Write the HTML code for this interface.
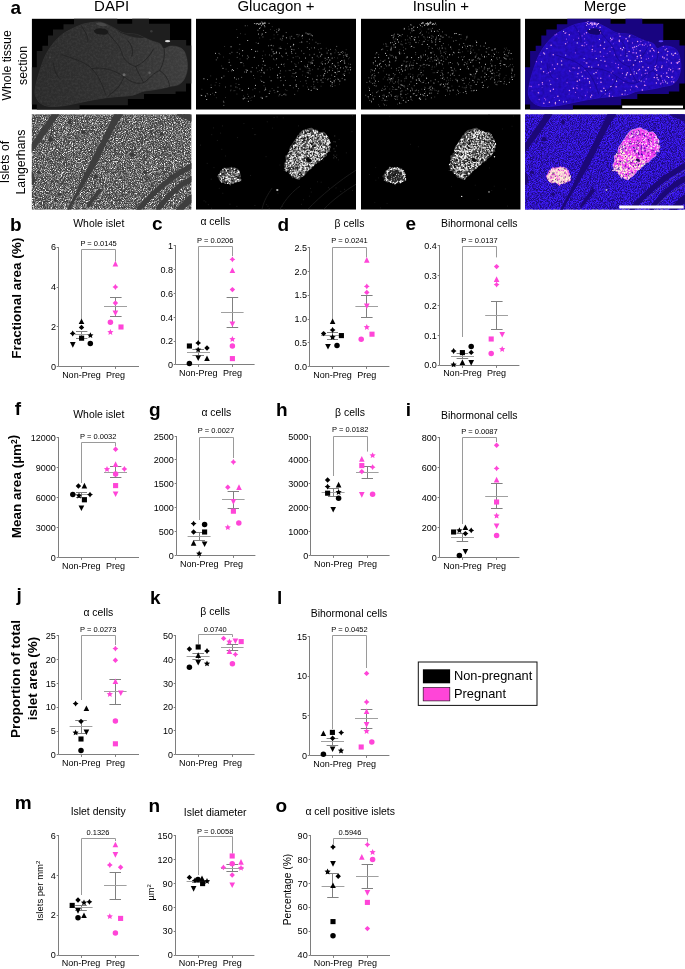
<!DOCTYPE html>
<html lang="en"><head><meta charset="utf-8"><title>Figure</title>
<style>
html,body{margin:0;padding:0;background:#fff}
body{width:685px;height:969px;overflow:hidden}
svg{display:block}
text{font-family:"Liberation Sans",Arial,Helvetica,sans-serif;fill:#000}
.tk{font-size:9.05px}
.xl{font-size:9px}
.tt{font-size:10.45px}
.pv{font-size:7.5px}
.pl{font-size:19px;font-weight:bold;fill:#000}
.hd{font-size:15px}
.rl{font-size:12.3px}
.yb{font-size:13.55px;font-weight:bold;fill:#000}
.yr{font-size:9.2px}
.lg{font-size:12.8px}
</style></head><body>
<svg width="685" height="969" viewBox="0 0 685 969">
<rect width="685" height="969" fill="#fff"/>
<text x="111.6" y="10.6" text-anchor="middle" class="hd">DAPI</text>
<text x="276" y="10.6" text-anchor="middle" class="hd">Glucagon +</text>
<text x="440.8" y="10.6" text-anchor="middle" class="hd">Insulin +</text>
<text x="605" y="10.6" text-anchor="middle" class="hd">Merge</text>
<text transform="translate(11.3 65.4) rotate(-90)" text-anchor="middle" class="rl">Whole tissue</text>
<text transform="translate(27 65.4) rotate(-90)" text-anchor="middle" class="rl">section</text>
<text transform="translate(9.2 162) rotate(-90)" text-anchor="middle" class="rl">Islets of</text>
<text transform="translate(25 162) rotate(-90)" text-anchor="middle" class="rl">Langerhans</text>
<defs>
<filter id="spk" x="0" y="0" width="100%" height="100%" color-interpolation-filters="sRGB">
<feTurbulence type="fractalNoise" baseFrequency="1.1" numOctaves="2" seed="3"/>
<feColorMatrix type="matrix" values="0 1.5 0 0 0  0 1.5 0 0 0  0 1.5 0 0 0  3.2 0 0 0 -1.27"/>
<feGaussianBlur stdDeviation="0.35"/>
</filter>
<filter id="spk2" x="0" y="0" width="100%" height="100%" color-interpolation-filters="sRGB">
<feTurbulence type="fractalNoise" baseFrequency="1.1" numOctaves="2" seed="3"/>
<feColorMatrix type="matrix" values="0 0 0 0 0.25  0 0 0 0 0.11  0 0 0 0 1  3.2 0 0 0 -1.1"/>
<feGaussianBlur stdDeviation="0.55"/>
</filter>
<filter id="tex" x="0" y="0" width="100%" height="100%" color-interpolation-filters="sRGB">
<feTurbulence type="fractalNoise" baseFrequency="0.45" numOctaves="2" seed="5" result="n"/>
<feColorMatrix in="n" type="matrix" values="0 0 0 0 1  0 0 0 0 1  0 0 0 0 1  1.2 0 0 0 -0.42" result="a"/>
<feComposite in="a" in2="SourceGraphic" operator="in"/>
</filter>
<filter id="tex2" x="0" y="0" width="100%" height="100%" color-interpolation-filters="sRGB">
<feTurbulence type="fractalNoise" baseFrequency="0.3" numOctaves="2" seed="8" result="n"/>
<feColorMatrix in="n" type="matrix" values="0 0 0 0 0.09  0 0 0 0 0.02  0 0 0 0 0.5  1.6 0 0 0 -0.5" result="a"/>
<feComposite in="a" in2="SourceGraphic" operator="in"/>
</filter>
<linearGradient id="tg" x1="0" x2="1" y1="0" y2="0"><stop offset="0" stop-color="#2b2b2b"/><stop offset="0.5" stop-color="#313131"/><stop offset="1" stop-color="#3e3e3e"/></linearGradient>
<clipPath id="tis"><path d="M3.3 72.8C3.45 69.63 4.67 64.53 5.7 60.4C6.73 56.27 8.05 52.13 9.5 48C10.95 43.87 12.33 39.53 14.4 35.6C16.47 31.67 19.2 27.7 21.9 24.4C24.6 21.1 27.5 18.17 30.6 15.8C33.7 13.43 37.2 11.87 40.5 10.2C43.8 8.53 47.1 6.83 50.4 5.8C53.7 4.77 57.4 4.4 60.3 4C63.2 3.6 65.3 3.1 67.8 3.4C70.3 3.7 72.65 4.67 75.3 5.8C77.95 6.93 80.85 8.75 83.7 10.2C86.55 11.65 88.88 13.57 92.4 14.5C95.92 15.43 101.28 14.97 104.8 15.8C108.32 16.63 110.8 18.37 113.5 19.5C116.2 20.63 118.52 21.67 121 22.6C123.48 23.53 126.55 23.87 128.4 25.1C130.25 26.33 130.45 29.58 132.1 30C133.75 30.42 136.02 27.9 138.3 27.6C140.58 27.3 143.52 27.48 145.8 28.2C148.08 28.92 150.45 29.83 152 31.9C153.55 33.97 154.48 37.5 155.1 40.6C155.72 43.7 156.12 47.2 155.7 50.5C155.28 53.8 154.05 57.82 152.6 60.4C151.15 62.98 149.38 64.75 147 66C144.62 67.25 140.98 67.28 138.3 67.9C135.62 68.52 134 69.08 130.9 69.7C127.8 70.32 123.02 71.08 119.7 71.6C116.38 72.12 114.1 71.97 111 72.8C107.9 73.63 104.82 75.77 101.1 76.6C97.38 77.43 92.83 77.42 88.7 77.8C84.57 78.18 80.53 78.38 76.3 78.9C72.07 79.42 67.97 80.07 63.3 80.9C58.63 81.73 53.3 82.9 48.3 83.9C43.3 84.9 38.3 86.23 33.3 86.9C28.3 87.57 22.3 88.23 18.3 87.9C14.3 87.57 11.55 86.32 9.3 84.9C7.05 83.48 5.8 81.42 4.8 79.4C3.8 77.38 3.15 75.97 3.3 72.8Z"/></clipPath>
</defs>
<svg x="31.7" y="18.6" width="159.8" height="91.1" viewBox="0 0 159.8 91.1" overflow="hidden"><rect width="159.8" height="91.1" fill="#000"/><polygon points="0,48.6 5.1,48.6 5.1,32.5 10.7,32.5 10.7,27.2 16.3,27.2 16.3,17 21.3,17 21.3,10.8 31.8,10.8 31.8,5.6 42.3,5.6 42.3,0 85.6,0 85.6,5.2 100.5,5.2 100.5,0 117.3,0 117.3,5.2 138.3,5.2 138.3,21.4 154.5,21.4 154.5,26.9 159.8,26.9 159.8,64.8 154.3,64.8 154.3,72.8 143.9,72.8 143.9,75.4 112.3,75.4 112.3,80.3 96.2,80.3 96.2,86.7 47.9,86.7 47.9,91.1 5.1,91.1 5.1,85.9 0,85.9" fill="#1e1e1e"/><path d="M3.3 72.8C3.45 69.63 4.67 64.53 5.7 60.4C6.73 56.27 8.05 52.13 9.5 48C10.95 43.87 12.33 39.53 14.4 35.6C16.47 31.67 19.2 27.7 21.9 24.4C24.6 21.1 27.5 18.17 30.6 15.8C33.7 13.43 37.2 11.87 40.5 10.2C43.8 8.53 47.1 6.83 50.4 5.8C53.7 4.77 57.4 4.4 60.3 4C63.2 3.6 65.3 3.1 67.8 3.4C70.3 3.7 72.65 4.67 75.3 5.8C77.95 6.93 80.85 8.75 83.7 10.2C86.55 11.65 88.88 13.57 92.4 14.5C95.92 15.43 101.28 14.97 104.8 15.8C108.32 16.63 110.8 18.37 113.5 19.5C116.2 20.63 118.52 21.67 121 22.6C123.48 23.53 126.55 23.87 128.4 25.1C130.25 26.33 130.45 29.58 132.1 30C133.75 30.42 136.02 27.9 138.3 27.6C140.58 27.3 143.52 27.48 145.8 28.2C148.08 28.92 150.45 29.83 152 31.9C153.55 33.97 154.48 37.5 155.1 40.6C155.72 43.7 156.12 47.2 155.7 50.5C155.28 53.8 154.05 57.82 152.6 60.4C151.15 62.98 149.38 64.75 147 66C144.62 67.25 140.98 67.28 138.3 67.9C135.62 68.52 134 69.08 130.9 69.7C127.8 70.32 123.02 71.08 119.7 71.6C116.38 72.12 114.1 71.97 111 72.8C107.9 73.63 104.82 75.77 101.1 76.6C97.38 77.43 92.83 77.42 88.7 77.8C84.57 78.18 80.53 78.38 76.3 78.9C72.07 79.42 67.97 80.07 63.3 80.9C58.63 81.73 53.3 82.9 48.3 83.9C43.3 84.9 38.3 86.23 33.3 86.9C28.3 87.57 22.3 88.23 18.3 87.9C14.3 87.57 11.55 86.32 9.3 84.9C7.05 83.48 5.8 81.42 4.8 79.4C3.8 77.38 3.15 75.97 3.3 72.8Z" fill="#2d2d2d" stroke="#363636" stroke-width="0.8"/><g clip-path="url(#tis)"><rect x="0" y="0" width="160" height="91" fill="url(#tg)"/><rect width="160" height="91" fill="#fff" filter="url(#tex)" opacity="0.1"/><path d="M49 6C52 12 57 16 56 24M30 36C40 40 52 42 60 50C66 56 70 64 74 76M60 50C72 48 84 52 92 58C100 64 106 66 112 64M92 58C90 66 84 72 78 76C74 80 72 84 70 88M112 64C118 60 122 54 128 52M76 14C82 22 88 26 90 34C92 42 98 46 104 48M104 48C112 44 118 38 122 30M128 52C132 44 134 36 132 28M22 44C22 50 24 56 28 60M104 48C106 54 110 60 112 64M128 52C134 56 138 62 138 70M96 22C100 26 102 32 100 38" stroke="#1f1f1f" stroke-width="0.7" fill="none"/><path d="M62 12C66 9 72 9 76 12C78 15 74 17 70 16C66 16 63 15 62 12Z" fill="#1a1a1a"/><path d="M64 5C68 3 73 4 76 7C72 8 67 8 64 5Z" fill="#484848"/><path d="M84 10C92 8 100 10 108 14C112 16 116 18 120 18C114 20 104 20 96 17C90 15 86 13 84 10Z" fill="#232323"/></g><ellipse cx="135.9" cy="22.6" rx="2.6" ry="1.1" fill="#d8d8d8"/><circle cx="92.4" cy="56.1" r="1.5" fill="#6a6a6a"/><circle cx="117.9" cy="54.2" r="1.3" fill="#606060"/><circle cx="119.7" cy="12.7" r="1.2" fill="#3a3a3a"/><circle cx="18.3" cy="38.9" r="1" fill="#444"/></svg>
<svg x="196" y="18.6" width="160" height="91.1" viewBox="0 0 160 91.1" overflow="hidden"><rect width="160" height="91.1" fill="#000"/><path d="M85.37 45.74h0M125.79 35.59h0M47.21 80.26h0M105.26 42.93h0M78.09 34.87h0M51.15 51.79h0M66.24 79.99h0M116.25 39.09h0M99.98 47.59h0M111.41 47.71h0M148.91 61.11h0M50.37 53.47h0M132.6 43.31h0M116.36 44.45h0M55.65 30.81h0M121.39 70.7h0M9.5 77.39h0M25.73 59.06h0M67.35 42.54h0M38.42 59.1h0M37.45 51.98h0M87.08 17.32h0M46.21 71.67h0M109.48 39.49h0M7.94 60.23h0M58.28 38.73h0M82.7 48.61h0M19.59 34.62h0M143.9 35.72h0M94.07 66.94h0M111.82 58.87h0M68.01 53.56h0M100.3 67.71h0M127.79 56.6h0M129.38 52.47h0M81.52 56.54h0M132.37 39h0M139.57 53.95h0M58.39 77.47h0M138.78 57.82h0M150.89 37.65h0M48.72 79.41h0M149.82 48.2h0M145.18 33.67h0M83.11 11.22h0M80.77 13.42h0M128.74 54.89h0M136.18 64.04h0M33.14 43.68h0M139.39 47.7h0M106.03 17.4h0M148.5 44.49h0M26.99 49.56h0M19.79 73.78h0M126.41 45.41h0M115.17 71.67h0M75.19 26.71h0M100.45 57.85h0M67.89 63.59h0M144.61 49.2h0M77.13 33.12h0M10.72 80.8h0M95.52 33.2h0M36.33 51.01h0M62.21 24.66h0M83.5 34.44h0M80.15 34.4h0M63.54 9.67h0M125.03 61.39h0M90.17 34.54h0M81.85 72.75h0M5.72 76.82h0M143.05 52.78h0M134.93 35.15h0M95.83 30.69h0M144.5 42.9h0M59.45 66.77h0M134.78 62.76h0M15.23 68.82h0M69.81 13.87h0M68.99 46.68h0M35.06 28.08h0M133.86 41.42h0M69.67 70.38h0M80.51 33.42h0M120.99 61.15h0M148.39 56.79h0M106.39 16.55h0M66.27 15.44h0M97.67 25.79h0M154.54 51.22h0M65.78 51.83h0M138.21 62.29h0M90.4 19.22h0M118.6 29.22h0M143.86 62.49h0M46.68 32.02h0M62.43 15.46h0M154.13 48.71h0M52.37 82.59h0M84.45 59.01h0M52.44 69.76h0M112.67 70.65h0M136.37 44.94h0M51.72 21.93h0M75.11 62.21h0M80.63 40.14h0M100.28 66.16h0M133.24 51.67h0M65.81 62.56h0M145.81 41.89h0M59.67 32.6h0M73.23 74.82h0M105.79 23.45h0M136.14 39.31h0M94.67 28.22h0M129.27 45.19h0M84.92 29.86h0M87.65 66.42h0M44.97 44.01h0" stroke="#f4f4f4" stroke-width="1.05" stroke-linecap="round" fill="none" opacity="0.9"/><path d="M85.96 21.44h0M98.76 75.82h0M77.99 71.79h0M148.27 42.67h0M121.95 25.07h0M42.64 60.23h0M124.49 37.95h0M75.81 37.34h0M39.86 68.43h0M84.29 20.4h0M81.35 59.21h0M66.27 79.01h0M107.87 34.97h0M113.36 20.64h0M115.93 44.93h0M122.06 50.39h0M97.26 27.05h0M11.61 60.94h0M138.36 53.82h0M46.58 37.17h0M43.82 70.23h0M138.31 46.72h0M134.46 30.83h0M94.09 51.97h0M29.52 68.44h0M86.54 19.73h0M99.73 34.74h0M34.95 67.36h0M104.05 50.54h0M136.47 51.88h0M147.63 49.5h0M41.37 18.85h0M23.03 34.78h0M121.17 37.44h0M102.57 70h0M111.98 53.83h0M128.16 50.75h0M41.16 38.84h0M118.84 68.31h0M141.28 50.08h0M66.28 39.89h0M66.93 18.37h0M68.68 71.64h0M34.79 46.81h0M131.52 53.58h0M43.84 25.81h0M140.75 27.82h0M109.92 62.21h0M124.94 30.16h0M134.62 67.28h0M87.75 75.85h0M82.55 11.97h0M70.86 77.84h0M95.95 34.93h0M99.83 53.99h0M83.7 76.11h0M11.16 74.91h0M112.26 54.49h0M42.96 65.91h0M27.94 57.48h0M85.94 76.94h0M113.53 30.84h0M89.35 61.87h0M131.72 61.13h0M83.94 54.77h0M27.89 83.67h0M111.07 23.06h0M85.64 37.23h0M142.25 33.85h0M129.48 39.64h0M82.97 10.13h0M133.69 48.28h0M70.07 78.16h0M126.11 63.59h0M94.11 19.5h0M97.02 54.82h0M131.06 40.71h0M14.5 75.94h0M127.09 59.8h0M45.69 58.8h0M57.46 56.9h0M121.31 57.35h0M98.04 19.91h0M65.47 51.06h0M62.1 11.55h0M20.36 60.5h0M95.67 43.16h0M35.91 33.72h0M97.14 39.09h0M86.73 38.15h0M90.2 13.95h0M100.92 16h0M146.15 59.83h0M120.15 70.29h0M132.64 31.69h0M111.48 46.46h0M88.79 75.43h0M65.1 78.74h0M142.09 60.85h0M147.28 55.63h0M72.44 27.24h0M152.06 51.21h0M132.26 60.33h0M136.62 67.87h0M43.53 35.23h0M54.98 52.76h0M68.2 54.84h0M118.39 46.95h0M113.76 50.21h0M27.85 86.79h0M148.23 41.59h0M52.36 77.81h0M60.51 49.34h0M48.65 53.42h0M75.9 30.7h0M120.32 60.9h0M111.28 28.98h0M66.21 49.39h0M117.84 63.28h0M149.58 36.41h0M105.41 32.33h0M67.41 11.86h0M20.26 41.29h0M51.21 40.17h0M146.75 32.87h0M118.05 69.92h0M139.23 48.41h0M40.33 60.62h0M61.68 32.65h0M142.7 61.02h0M123.76 33.69h0M80.48 46.28h0M114.94 44.05h0M131.11 34.66h0M109.11 48.01h0M97.22 50.93h0M150.59 49.22h0M147.77 37.01h0M124.9 36.94h0M45.88 43.97h0M117.11 41.7h0M142.14 44.16h0M87.78 46h0M56.23 48.92h0M52.5 38.59h0M83.25 29.55h0M125.26 44.49h0M97.99 31.18h0M5.06 76.63h0M41.15 33.81h0M89.96 76.37h0M62.63 47.07h0M150.93 36.05h0M149.04 52.78h0M27.35 82.66h0M116.64 60.4h0M69.39 71.16h0M73.46 36.39h0M95.74 17.74h0M154.3 45.74h0M49.23 7.17h0M77.62 40.43h0M50.08 51.06h0M115.84 43.47h0M135.71 56.52h0M64.35 9.17h0M73.97 72.61h0M84.47 52.26h0M21.67 39.21h0M51.67 37.23h0M55.1 53.44h0M81.98 68.73h0M35.75 52.24h0M118.18 35.67h0M113.77 36.34h0M98.96 54.88h0M77.25 27.24h0M150.79 36.74h0M113.97 52.16h0M99.54 61.54h0" stroke="#9a9a9a" stroke-width="0.95" stroke-linecap="round" fill="none" opacity="0.85"/><path d="M56.85 71.17h0M88.17 58.11h0M112.76 43.49h0M55.03 81.87h0M127.52 57.86h0M23.76 64.87h0M30.04 50.53h0M43.22 30.61h0M20.08 63.95h0M73.94 49.13h0M128.05 51.04h0M68.04 67.06h0M61.81 53.02h0M74.35 10.86h0M23.99 35.98h0M74.44 51.16h0M90.91 71.85h0M59.5 70.03h0M151.53 35.74h0M119.93 23.54h0M38.92 72h0M18.32 76.31h0M106.89 52.72h0M136.25 65.75h0M80.57 10.82h0M147.48 38.72h0M123.52 47.84h0M116.44 51.03h0M99.96 38.12h0M51.56 7.1h0M74.18 21.05h0M114.65 45.28h0M130.26 29.68h0M116.64 21.26h0M117.76 68.48h0M91.44 24.99h0M44.63 15.02h0M88.27 47.64h0M110.47 64.76h0M102.43 16.34h0M20.32 79.09h0M65.66 15.6h0M44.01 40.34h0M78.87 41.22h0M40.92 75.46h0M61.59 11.81h0M103.56 16.37h0M128.55 39.68h0M76.13 69.9h0M111.82 46.14h0M40.02 65.1h0M139.61 60.8h0M135.02 36.21h0M94.64 20.52h0M72.69 26.86h0M65.47 16.88h0M25.72 47.37h0M66.48 37.05h0M153.63 39.09h0M127.51 63.82h0M118.33 28.84h0M47.9 47.25h0M102.11 18.12h0M98.83 45.18h0M15.2 69.1h0M125.36 29.83h0M78.04 19.6h0M138.91 34.24h0M111.04 54.03h0M63.75 73.26h0M129.41 52.46h0M126.19 42.89h0M141.86 59.72h0M97.32 69.18h0M78.62 11.93h0M117.86 62.84h0M121.78 63.67h0M78.06 16.24h0M56.01 78.55h0M128.86 49.39h0M136.81 50.13h0M88.2 45.12h0M69.34 69.03h0M149.28 51.57h0M89.07 76.22h0M47.5 77.34h0M28.67 27.88h0M84.48 62.09h0M129.35 41.92h0M149.19 44.56h0M102.61 44.29h0M104.35 62.85h0M75.85 31.38h0M82.85 77.31h0M135.91 46.22h0M15.07 66.45h0M142.04 46.68h0M100.09 54.24h0M99.63 67.11h0M109.48 57.7h0M139.82 54.59h0M33.48 34.87h0M41.3 49.87h0M129.35 59.94h0M122.82 38.67h0M109.85 48.38h0M67.27 32.54h0M29.42 78.85h0M51.73 75.7h0M122.53 31.05h0M124.77 57.05h0M114.15 55.17h0M64.42 61.56h0M140.77 55.75h0M152.43 45.32h0M140.04 32.25h0M150.17 31.11h0M85.23 61.92h0M11.8 76.1h0M99.88 46.15h0M73.76 58.42h0M35 71.44h0M98.14 58.6h0M63.69 19.36h0M102.55 29.83h0M153.22 54.34h0M107.15 67.3h0M16.76 74.69h0M33.16 41.27h0M148.59 55.13h0M138.56 38.99h0M151.66 48.5h0M77.8 35.73h0M111.62 68.39h0M5.95 70.72h0M131.09 33.54h0M135.85 67.52h0M89.74 30.64h0M27.63 38.45h0M96.01 57.49h0M60.16 24.07h0M34.49 72.19h0M84.68 28.54h0M23.28 67.12h0M51.13 79.94h0M76.73 50.06h0M41.16 69.11h0M127.97 56.01h0M112.15 52.14h0M127 51.04h0M89.46 71.11h0M91.67 36.73h0M135.99 66.02h0M106.36 56.53h0M152.65 40.18h0M134.31 60.01h0M89.79 52.29h0M139.01 67.03h0M32.32 52.87h0M81.84 16.05h0M82.14 59.22h0M141.68 53.61h0M78.86 74.03h0M101.94 37.73h0M138.37 64.22h0M142.82 46.94h0M84.82 58.26h0M142.7 36.16h0M116.14 41.61h0M40.74 10.88h0M125.07 67.61h0M115.21 67.86h0M76.25 8.02h0M135.11 48.56h0M141.67 39.44h0M94.05 18.12h0M106.53 19.67h0M93.08 51.79h0M103.43 39.7h0M63.37 51.9h0M37.93 72.12h0M34.41 35.14h0M147.55 33.81h0M103.36 39.01h0M54.07 79.66h0M108.38 47.24h0M139.48 30.85h0M49.16 15.65h0M115.37 29.3h0M58.42 59.85h0M101.45 16.01h0M81.19 73.29h0M65.18 57.77h0M84.01 75.46h0M103.98 23.9h0M19.11 66.6h0M91.79 40.94h0M117.39 65.79h0M128.52 49.93h0M141.57 52.6h0M124.1 24.89h0M66.74 46.11h0M120.04 23.9h0M14.74 57.29h0M114.13 43.66h0M143.34 65.59h0M146.52 34.9h0M118.17 35.82h0M69.25 36.33h0M101.76 72.32h0M149.28 34.3h0M47.36 45.16h0M64.92 53.89h0M113.37 24.78h0M71.18 51.26h0M112.46 49.58h0M131.55 44.69h0M58.45 69.81h0M141.77 44.19h0M111.03 49.31h0" stroke="#555" stroke-width="0.9" stroke-linecap="round" fill="none" opacity="0.8"/><path d="M66.77 4.31h0M60.19 5.04h0M64.78 5.38h0M63.25 5.6h0M66.84 5.15h0M67.14 4.86h0M60.29 5.43h0M68.87 8.14h0M58.35 4.93h0M62.72 5.71h0M62.72 5.57h0M69.25 4.69h0M65.54 7.06h0M68.9 3.82h0M73.06 4.76h0M66.87 5.03h0M64.22 4.75h0M67.99 4.67h0M61.41 4.88h0M65.82 3.44h0M68.6 4.73h0M68.36 6.83h0M66.93 5.99h0M64.26 4.78h0" stroke="#bbb" stroke-width="1" stroke-linecap="round" fill="none" opacity="1"/><path d="M110 14.42h0M111.3 15.28h0M112.6 15.52h0M113.9 15.33h0M115.2 16.47h0M116.5 17.19h0" stroke="#aaa" stroke-width="1" stroke-linecap="round" fill="none" opacity="1"/></svg>
<svg x="361" y="18.6" width="159.7" height="91.1" viewBox="0 0 159.7 91.1" overflow="hidden"><rect width="159.7" height="91.1" fill="#000"/><path d="M130.97 54.78h0M25.68 36.83h0M106.58 27.72h0M13.38 52.24h0M20.88 71.65h0M60.54 4.62h0M115.47 53.04h0M38.3 33.44h0M90.08 48.98h0M34.27 28.53h0M77.59 16.87h0M40.05 66.2h0M38.56 34.56h0M101.98 61.83h0M55.71 64.83h0M89.05 72.27h0M43.59 10.27h0M66.38 25.83h0M27.7 39.5h0M49.87 6.11h0M130.86 47.32h0M29.98 31.29h0M82.48 65.64h0M28.31 46.4h0M139.9 62.85h0M71.44 5.54h0M92.1 71.33h0M34.63 24.87h0M139.1 44.79h0M114.7 55.24h0M58.3 79.7h0M40.56 46.69h0M67.42 64.11h0M111.1 41.53h0M53.66 21.02h0M150.9 58.54h0M49.67 78.26h0M123.83 58.27h0M74.75 26.17h0M48.68 47.17h0M80.21 41.64h0M124.54 24.48h0M50.81 17.81h0M58.77 79.53h0M24.5 34.76h0M41.19 66.69h0M40.34 50.69h0M46.39 38.33h0M29.58 24.17h0M134.09 30.13h0M12.29 44.05h0M55.16 76.89h0M7.17 78.05h0M46.36 70.17h0M129.32 52.68h0M133.59 61.17h0M151.13 52.2h0M109.63 43.58h0M115.68 23.88h0M105.9 18.3h0M55.48 61.43h0M65.61 59.54h0M109.03 26.95h0M68.03 46.77h0M61.13 25.7h0M28.03 56.36h0M101.47 28.62h0M57.93 60.1h0M74 41.38h0M49.54 72.11h0M49.59 58.19h0M12.36 80.33h0M70.55 12.5h0M66.37 76.76h0M93.77 15.02h0M151.05 50.5h0M25.52 78.03h0M62.97 45.62h0M131.36 51.37h0M29.76 60.4h0M97.38 33.63h0M51.02 10.17h0M13.92 57.06h0M124.48 45.84h0M108.27 41.21h0M115.11 65.95h0M104.73 72.75h0M114.29 38.33h0M17.61 38.62h0M113.06 71.59h0M107.55 50.22h0M28.77 43.49h0M15.76 34.1h0M121.92 68.9h0M36.52 20.8h0M34.89 39.11h0M14.49 50.21h0M32.9 26.14h0M60.1 53.81h0M143.97 39.75h0M50.67 27.79h0M57.67 38.92h0M63.7 74.94h0M54.97 23.66h0M98.81 15.92h0M54.02 18.68h0M16.3 46.69h0M14.5 42.35h0M76.18 53.83h0M30.46 59.83h0M68.51 18.59h0M32.22 19.24h0M143.62 35.58h0M91.04 51.69h0M118.38 44.12h0M62.13 63.7h0M52.84 11.7h0M72.92 64.47h0M127.83 35.58h0M30.9 16.87h0M75.48 41.65h0M44.23 51.35h0M62.82 76.67h0M148.34 63.68h0M70 34.33h0M151.35 60.85h0M79.87 17.37h0M63.63 70.77h0M55.92 44.71h0M38.85 16.78h0M38.62 84.33h0M68.77 74.73h0M44.93 47.46h0M47.28 81.89h0M81.21 29.42h0M115.66 23.33h0M42.32 81.64h0M18.49 77.74h0M69.11 68.49h0M56.48 8.63h0M22.11 42.76h0M50.64 39.01h0M111.94 61.79h0M122.36 66.63h0M83.78 67.35h0M71.44 69.32h0M73.43 12.77h0M86.18 65.35h0M99.34 50.79h0M79.68 66.19h0M8.48 71.66h0M101.63 41.14h0M60.15 39.14h0M88.71 36.03h0M71 23.3h0M130.57 41.04h0M78.97 20.39h0M126.91 50.22h0M133.49 35.64h0M52.31 75.19h0M41.49 52.32h0M18.37 46.01h0M131.05 31.52h0M81.39 59.7h0M59.27 80.8h0M109.32 56h0M39.91 75.54h0M37.75 68.46h0M44.91 83.48h0M92.66 33.74h0M91.35 55.26h0M75.56 45.4h0M123.47 37.7h0M74.78 21.05h0M14.53 62.3h0M63.05 22.77h0M95.22 14.86h0M34.11 77.59h0M52.05 46.63h0M143.83 46.03h0M10.56 83.13h0M78.92 22.94h0M9.5 75.86h0M103.25 46.11h0M78.23 44.15h0M37.62 23.35h0M64.47 36.06h0M109.62 34.68h0M89.2 43.87h0M59.62 75.62h0M121.18 63.73h0M59.91 37.5h0M58.25 61.54h0M115.51 71.73h0M89.68 28.51h0M125.39 55.98h0M150.1 34.91h0M28.22 74.2h0M96.11 61.75h0M87.77 69.25h0" stroke="#f4f4f4" stroke-width="1.05" stroke-linecap="round" fill="none" opacity="0.9"/><path d="M49.97 63.15h0M123.02 27.68h0M41.42 46.76h0M150.42 54.64h0M5.93 63.82h0M30.96 36.8h0M86.96 65.31h0M53.51 21.75h0M67.68 39.55h0M69.98 34.11h0M138.04 62.63h0M138.54 39.16h0M33.96 55.88h0M125.43 60.95h0M66.41 40.44h0M74.52 61.14h0M98.93 34.01h0M121.73 52.39h0M32.03 59.5h0M139.9 42.38h0M51.74 59h0M70.3 79.33h0M36.1 78.36h0M117.1 60.6h0M95.01 21.86h0M134.17 47.04h0M72.06 18.28h0M19.62 44.77h0M69.53 70.82h0M89.44 56.72h0M112.25 72.21h0M11.44 51.64h0M120.54 48.17h0M86.27 59.21h0M51.04 70.11h0M78.46 29.47h0M123.23 50.38h0M81.53 54.71h0M102.1 60.25h0M138.83 55.44h0M116.47 51.17h0M64.52 41.97h0M137.88 51.81h0M57.5 72.11h0M34.75 70.78h0M39.45 69.7h0M111.74 27.58h0M54.7 34.04h0M86.54 38.59h0M62.89 18.22h0M105.4 45.3h0M139.72 47h0M148.96 40.6h0M81.87 18.81h0M30.6 30.03h0M131.19 55.04h0M50.12 80.71h0M40.2 62.32h0M135.94 66.11h0M12.99 59.35h0M142.86 38.8h0M91.59 36.16h0M58.94 14.87h0M120.25 58.52h0M50.56 46.61h0M59.64 13.99h0M37.46 51.73h0M61.2 8.09h0M79.65 56.83h0M83.18 60.69h0M36.14 80.67h0M72.33 5.09h0M83.12 33.74h0M125.13 33.35h0M10.43 59.55h0M81.6 13.21h0M21.73 30.51h0M77.25 63.15h0M110.47 56.15h0M134.94 65.63h0M129.58 60.4h0M10.87 57.08h0M24.84 25.16h0M128.32 49.71h0M49.13 19.56h0M76.19 12.36h0M61.81 75.86h0M59.82 47.09h0M147.91 34.04h0M45.69 38.58h0M69.9 62.25h0M45.81 46.67h0M98.17 67.75h0M52.62 8.33h0M24.33 70.28h0M32.36 38.38h0M78.75 44.64h0M115.01 50.43h0M70.67 74.52h0M84.36 65.41h0M115.37 26.55h0M57.37 50.74h0M125.42 29.95h0M45.09 59.8h0M142.44 45.91h0M25.7 55.77h0M24.48 81.68h0M145.08 36.31h0M28.67 60.61h0M81.45 56.38h0M70.54 22.03h0M76.81 39.57h0M97.68 45.56h0M143.01 65.14h0M120.39 36.29h0M116.24 52.74h0M48.56 65.72h0M33.14 16.16h0M14.58 38.94h0M98.21 56.8h0M20.4 48.14h0M31.21 23.9h0M41.12 26.2h0M26.83 61.26h0M13.31 66.92h0M106.51 48.17h0M23.1 71.05h0M80.99 52.03h0M128.02 28.92h0M50.89 12.08h0M54.19 72.15h0M98.43 25.75h0M45.12 58.39h0M132.38 37.97h0M137.86 56.7h0M48.05 10.55h0M65.28 46.37h0M80.8 27.1h0M40.93 72.22h0M19.99 48.12h0M88.1 18.4h0M85.55 16.57h0M92.14 54.46h0M24.51 46.01h0M39.85 73.12h0M61.99 56.28h0M118.96 40.37h0M145.54 48.05h0M44.9 75.93h0M42.62 67.43h0M104.1 43.85h0M148.22 32.15h0M109.73 33.06h0M44.3 21.27h0M30.27 28.65h0M70.69 19.77h0M67.94 6h0M44.93 24.75h0M78.33 10.86h0M135.83 39.35h0M51.41 71.47h0M86.5 72.28h0M103.21 37.89h0M35.46 50.09h0M57.64 18.38h0M116.59 63.49h0M29.8 62.28h0M108.5 60.32h0M71.29 29.89h0M20.58 31.06h0M102.29 73.93h0M25.69 47.35h0M27.18 77.28h0M15.55 73.99h0M69.93 33.92h0M39.97 25.5h0M70.54 38.78h0M50.71 10.11h0M53.25 67.1h0M30.32 49.62h0M105.17 68.73h0M28.49 42.76h0M23.65 86.31h0M153.7 56.26h0M126.71 51.55h0M82.7 42.83h0M67.22 10.51h0M64.81 80.56h0M80.19 65.22h0M35.84 70.86h0M36.56 15.68h0M115.22 51.6h0M28.1 46.35h0M38.84 35.56h0M61.62 16.13h0M105.36 74.95h0M23.82 67.67h0M112.18 47.43h0M109.81 27.49h0M146.84 37.39h0M11.69 65.02h0M8.76 81.76h0M92.53 22.53h0M103.13 64.81h0M45.55 47.83h0M126.59 68.97h0M59.37 62.77h0M43.08 42.49h0M32.78 17.43h0M118.76 40.44h0M41.24 15.88h0M55.54 71.54h0M97.46 72.63h0M8.73 63.05h0M33.8 23.13h0M15.33 67.31h0M10.16 51.13h0M31.33 68.1h0M52.66 8.97h0M66.73 18.61h0M34.81 41.87h0M93.18 34.43h0M43.22 9.73h0M115.02 37.4h0M45.24 43.26h0M27.86 59.13h0M96.58 71.57h0M123.42 38.82h0M77.1 52.26h0M97.49 74.96h0M32.32 54.94h0M110.21 33.82h0M22.37 79.78h0M11.29 56.05h0M93.21 56.84h0M37.03 63.35h0M124.62 45.48h0M70.07 38.96h0M119.67 27.43h0M143.45 63.05h0M81.64 46.05h0M124.01 54.54h0M116.97 40.08h0M145.51 65.77h0M25.25 27.67h0M29.88 30.42h0M97.6 38.73h0M8.55 69.97h0M131.01 58.71h0M38.38 54.05h0M16.49 47.52h0M71.33 9.77h0M23.06 76.98h0M13.19 64.4h0M130.87 46.65h0M87.2 53.94h0M113.24 63.52h0M104.72 59.43h0M40.96 79.18h0M98.06 31.15h0M32.96 64.79h0M34.59 80.69h0M112.54 41.15h0M96.35 44.3h0M13.61 39.08h0M97.31 46.21h0M147.66 34.74h0M84.48 35.09h0M75.49 19.32h0M70.94 71.44h0M59.73 80.69h0M84.56 76.96h0M18.9 44.95h0M82.3 24.99h0M110.09 67.17h0M29.98 75.85h0M73.35 36.13h0M145.03 40.7h0M35.22 40.03h0M77.71 72.45h0M34.88 20.28h0M51.89 49.43h0M37.24 15.79h0M53.1 41.97h0M117.51 39.22h0M17.58 62.84h0M43.31 34.82h0M17.33 54.05h0M133.72 30.7h0M110.27 72.16h0M68.1 27.8h0M23.37 81.72h0M51.83 60.05h0M76.8 74.74h0M53.3 74.87h0M53 28.85h0M68.46 69.64h0M102.54 24.86h0M74.38 23.49h0M80.77 36.93h0M133.62 64.16h0M123.72 48.51h0M82.15 58.67h0M34.54 38.35h0M49.78 50.47h0M94.95 60.71h0M4.79 76.64h0M44.74 30.27h0M37.68 61.35h0M30.58 77.07h0M86.83 68.61h0M96.35 63.12h0M42.4 31.84h0M79.35 32.45h0M77 41.13h0M75.55 37.63h0M34.45 63.31h0M37.51 18.02h0M38.09 48.89h0M7.86 59.17h0" stroke="#9a9a9a" stroke-width="0.95" stroke-linecap="round" fill="none" opacity="0.85"/><path d="M49.67 28.31h0M103.97 69.14h0M23.78 58.42h0M35.42 38.38h0M70.82 29.21h0M39.9 34.55h0M90.74 19.06h0M45.22 39.51h0M70.91 50.84h0M23.21 49.8h0M70.53 78.92h0M113.84 34.16h0M17.77 36.05h0M118.17 49.38h0M86.6 70.51h0M127.29 68.12h0M115.87 35.56h0M48.68 47.25h0M30.89 60.47h0M143.81 59.08h0M57 56.59h0M76.6 29.73h0M106.51 43.27h0M105.29 74.92h0M52.22 44.3h0M67.03 21.92h0M9.65 53.26h0M148.83 47.16h0M46.57 17.31h0M16.11 73.03h0M110.08 29.58h0M84.93 33.06h0M58.55 49.33h0M126.9 30.2h0M21.57 79.35h0M49.88 21.36h0M131.57 42.26h0M28.5 64.25h0M62.54 37.03h0M59.02 46.79h0M64.64 20.78h0M143.61 33.2h0M78.12 20.93h0M87.6 26.26h0M65.58 13.41h0M11.41 77.14h0M102.74 38.85h0M106.77 45.22h0M49.6 14.26h0M64.52 69.32h0M133.31 55.14h0M26.87 27.8h0M135.48 33.44h0M130.01 53.26h0M22.4 25.55h0M63.91 19.31h0M58.96 10.5h0M49.27 24.28h0M134.06 30.99h0M25.16 26.15h0M113.24 59.53h0M32.22 16.42h0M69.48 39.24h0M129.41 42.36h0M91.54 61.78h0M74.77 23.14h0M75.71 17.78h0M93.53 50.65h0M148.81 60.5h0M67.42 30.02h0M100.3 61.07h0M70.44 67.61h0M17.34 72.31h0M91.35 44.95h0M121.31 37.84h0M54.74 36.08h0M30.63 72.74h0M135.82 56.91h0M48.85 45.38h0M145.26 29.46h0M132.64 34.74h0M125.44 38.12h0M68.92 42.76h0M87.55 43.94h0M42.83 10.58h0M12.72 58.52h0M89.77 55.74h0M145.1 56.82h0M33.28 57.3h0M50.76 69.12h0M113.9 57.44h0M25.41 86.74h0M31.4 70.73h0M32.98 17.94h0M26 81.93h0M28.87 70.48h0M14.58 46.89h0M90.65 30.45h0M49.44 72.57h0M11.43 77h0M105.29 30.01h0M78.01 31.07h0M37.16 58.93h0M64.91 64.95h0M68.94 74.15h0M82.44 56.1h0M11.92 79.76h0M109.86 69.92h0M13.96 64.89h0M133.89 57.37h0M145.11 37.38h0M77.35 12.95h0M72.02 33.39h0M34.22 42.68h0M107.08 26.73h0M127.78 57.92h0M103.01 69.22h0M58.06 55.82h0M136.29 40.91h0M137.67 34.01h0M24.09 41.51h0M64.43 73.21h0M40.15 48.43h0M82.1 37.85h0M71.09 49.11h0M7.38 79.43h0M18.58 45.24h0M108.41 63.91h0M59.73 47.5h0M78.72 66.17h0M105.96 49.77h0M76.9 72.74h0M104.82 70.43h0M66.59 37.59h0M8.79 61.99h0M123.89 49.35h0M112.24 31.45h0M112.23 47.4h0M9.96 63.81h0M87.37 45.17h0M51.12 81.83h0M46.87 48.48h0M35.57 77.28h0M45.63 79.26h0M77.89 44.72h0M37.96 33.95h0M43.72 62.41h0M82.22 68.44h0M22.29 52.32h0M136.42 63.48h0M145.47 40.11h0M67.87 14.4h0M36.98 77.37h0M101.23 68.57h0M32.84 28.55h0M12.63 45.47h0M28.98 35.83h0M138.23 57.76h0M7.78 68.59h0M79.89 34.36h0M142.55 33.59h0M62.52 52.24h0M109.35 31.3h0M60.98 64.1h0M107.5 65.55h0M61.92 23.47h0M89.26 61.63h0M47.03 70.77h0M58.31 21.86h0M94.87 52.15h0M69.01 10.37h0M84.41 40.42h0M103.91 26.78h0M56.41 58.11h0M114.91 22.1h0M63.75 68.64h0M97.37 16.07h0M54.97 61.31h0M10.14 82.05h0M117.96 31.26h0M16.48 73.39h0M17.72 54.09h0M151.41 45.98h0M95.33 76.12h0M13.94 77.87h0M42.01 45.49h0M139.42 49.89h0M30.81 37.32h0M56.14 76.28h0M58.93 5.75h0M21.55 76.79h0M106.99 32.5h0M101.44 33.19h0M57.57 24.1h0M133.49 30.92h0M13.43 60.72h0M104.35 28.19h0M152.4 48.13h0M88.48 75.58h0M98.25 26.22h0M78 42.67h0M13.14 54.93h0M142.9 60.37h0M18.58 44.85h0M49.48 43.43h0M103.17 24.98h0M11.61 74.25h0M46.81 42.95h0M22.19 60.37h0M67.71 28.2h0M59.46 55.46h0M48.99 55.38h0M82.48 18.53h0M60.39 12.57h0M84.18 16.06h0M47.34 55.51h0M63.01 48.64h0M43.65 60.09h0M48.95 25.84h0M50.49 78.38h0M52.16 57.9h0M30.29 77.66h0M150.68 57.43h0M39.4 77.53h0M14.68 35.38h0M109.29 68.68h0M60.8 70.64h0M96.86 44.76h0M51.87 56.2h0M36.4 85.54h0M33.54 15.27h0M48.52 18.79h0M42.42 31.79h0M26.29 31.97h0M123.86 62.27h0M75.62 47.22h0M73.73 39.01h0M134.45 63.5h0M75.63 6.2h0M73.75 48.38h0M87.08 54.67h0M151.33 40.26h0M133.83 63.52h0M105.67 19.71h0M51.18 12.67h0M46.81 75.05h0M27.97 47.38h0M72.14 54.13h0M57.76 73.97h0M115.08 41.92h0M143.27 38.92h0M18.42 49.9h0M111.02 43.43h0M46.8 50.41h0M85.42 62.32h0M109.09 55.02h0M105.34 67.17h0M130 52.37h0M79.84 34.62h0M85.17 70.72h0M73.8 71.51h0M143.33 29.69h0M31.53 63.27h0M64.53 77.63h0M66.8 45.94h0M48.62 45.53h0M17.45 86.14h0M43.74 68.29h0M53.69 8.21h0M80.98 18.32h0M71.06 17.08h0M113.92 58.47h0M72.92 70.14h0M106.13 17.56h0M63.1 62.18h0M75.13 71.89h0M79.9 38.2h0M89.33 59.76h0M153.14 57.79h0M98.97 73.94h0M71.77 42.6h0M60.8 16.57h0M40 84.83h0M47.93 23.76h0M112.95 55.59h0M64.49 32.41h0M81.19 44.9h0M84.09 29.49h0M99.91 20.01h0M23.25 77.72h0M26.25 68.01h0M61.82 46.39h0M80.15 53.94h0M85.28 40.77h0M38.84 31.05h0M129.56 44.77h0M74.06 60.96h0M40.14 17.48h0M50.71 6.79h0M59.93 51.65h0M67.24 69.95h0M32.9 21.14h0M36.59 21.76h0M52.4 20.38h0M40.62 22.78h0M101.57 28.1h0M22.1 80.29h0M104.86 21.13h0M22.94 75.75h0M47.66 8.18h0M14.68 67.41h0M46.89 67.42h0M144.47 31.1h0M111.83 57.53h0M62.03 77.24h0M68.56 75.02h0M42.35 28.74h0M37.73 65.21h0M82.47 39.45h0M138.33 59.76h0M22.68 85.31h0M105.22 73.22h0M59.49 41.53h0M84.79 30.35h0M29.26 37.11h0M100.22 16.16h0M92.69 52.39h0M146.56 31.51h0M133.08 59.42h0M100.67 38.21h0M19.76 41.77h0M73.76 54.08h0M12.57 44.47h0M71.26 47.7h0M40.72 50.45h0M90.31 50.11h0M43.76 68.34h0M93.49 49.79h0M21.52 69.76h0M60.6 57.47h0M69.18 4.62h0M134.49 49.41h0M23.64 41.83h0M33.56 79.82h0M75.04 19.84h0M130.42 59.47h0M40.29 55.7h0M32.53 68.91h0M68.99 71.87h0M73.75 78.41h0M18.67 87.75h0M82.62 49.69h0M78.55 15.4h0M109.12 67.13h0M62.3 35.85h0M44.82 71.73h0M21.04 81.84h0M147.69 47.97h0M70.11 40.45h0M32.97 70.93h0M130.54 37.58h0M67.02 4.65h0M44.38 49.12h0M87.42 63.9h0M125.76 33.77h0M46.8 21.12h0M70.26 17.37h0M57.24 40.54h0M35.68 51.82h0M31.83 61.28h0M132.75 54.32h0M118.6 61.13h0M58.45 5.95h0M87.24 61.56h0M135.95 53.79h0M70.1 11.23h0M90.94 67.5h0M43.47 67.13h0M149.5 45.96h0M79.92 59.76h0" stroke="#555" stroke-width="0.9" stroke-linecap="round" fill="none" opacity="0.8"/><path d="M63.74 6.71h0M71.21 5.69h0M69.39 3.47h0M67.68 5.33h0M73.73 5.74h0M72.46 5.33h0M65.09 4.98h0M61.96 4.95h0M69.9 3.99h0M66.38 6.63h0M66.95 6.04h0M67.26 6.04h0M59.4 7.01h0M67.32 4.97h0M65.04 5.38h0M68.45 4.35h0M61.71 4.22h0M69.22 4.62h0M66.53 4.39h0M65.87 5.04h0M63.55 6.65h0M66.46 4.58h0M74.45 4.6h0M62.04 3.86h0" stroke="#ccc" stroke-width="1" stroke-linecap="round" fill="none" opacity="1"/></svg>
<svg x="525" y="18.6" width="160" height="91.1" viewBox="0 0 160 91.1" overflow="hidden"><rect width="160" height="91.1" fill="#000"/><polygon points="0,48.6 5.1,48.6 5.1,32.5 10.7,32.5 10.7,27.2 16.3,27.2 16.3,17 21.3,17 21.3,10.8 31.8,10.8 31.8,5.6 42.3,5.6 42.3,0 85.6,0 85.6,5.2 100.5,5.2 100.5,0 117.3,0 117.3,5.2 138.3,5.2 138.3,21.4 154.5,21.4 154.5,26.9 159.8,26.9 159.8,64.8 154.3,64.8 154.3,72.8 143.9,72.8 143.9,75.4 112.3,75.4 112.3,80.3 96.2,80.3 96.2,86.7 47.9,86.7 47.9,91.1 5.1,91.1 5.1,85.9 0,85.9" fill="#180480"/><path d="M3.3 72.8C3.45 69.63 4.67 64.53 5.7 60.4C6.73 56.27 8.05 52.13 9.5 48C10.95 43.87 12.33 39.53 14.4 35.6C16.47 31.67 19.2 27.7 21.9 24.4C24.6 21.1 27.5 18.17 30.6 15.8C33.7 13.43 37.2 11.87 40.5 10.2C43.8 8.53 47.1 6.83 50.4 5.8C53.7 4.77 57.4 4.4 60.3 4C63.2 3.6 65.3 3.1 67.8 3.4C70.3 3.7 72.65 4.67 75.3 5.8C77.95 6.93 80.85 8.75 83.7 10.2C86.55 11.65 88.88 13.57 92.4 14.5C95.92 15.43 101.28 14.97 104.8 15.8C108.32 16.63 110.8 18.37 113.5 19.5C116.2 20.63 118.52 21.67 121 22.6C123.48 23.53 126.55 23.87 128.4 25.1C130.25 26.33 130.45 29.58 132.1 30C133.75 30.42 136.02 27.9 138.3 27.6C140.58 27.3 143.52 27.48 145.8 28.2C148.08 28.92 150.45 29.83 152 31.9C153.55 33.97 154.48 37.5 155.1 40.6C155.72 43.7 156.12 47.2 155.7 50.5C155.28 53.8 154.05 57.82 152.6 60.4C151.15 62.98 149.38 64.75 147 66C144.62 67.25 140.98 67.28 138.3 67.9C135.62 68.52 134 69.08 130.9 69.7C127.8 70.32 123.02 71.08 119.7 71.6C116.38 72.12 114.1 71.97 111 72.8C107.9 73.63 104.82 75.77 101.1 76.6C97.38 77.43 92.83 77.42 88.7 77.8C84.57 78.18 80.53 78.38 76.3 78.9C72.07 79.42 67.97 80.07 63.3 80.9C58.63 81.73 53.3 82.9 48.3 83.9C43.3 84.9 38.3 86.23 33.3 86.9C28.3 87.57 22.3 88.23 18.3 87.9C14.3 87.57 11.55 86.32 9.3 84.9C7.05 83.48 5.8 81.42 4.8 79.4C3.8 77.38 3.15 75.97 3.3 72.8Z" fill="#280cca" stroke="#2e12d0" stroke-width="0.8"/><g clip-path="url(#tis)"><rect width="160" height="91" fill="#000" filter="url(#tex2)" opacity="0.55"/><path d="M49 6C52 12 57 16 56 24M30 36C40 40 52 42 60 50C66 56 70 64 74 76M60 50C72 48 84 52 92 58C100 64 106 66 112 64M92 58C90 66 84 72 78 76C74 80 72 84 70 88M112 64C118 60 122 54 128 52M76 14C82 22 88 26 90 34C92 42 98 46 104 48M104 48C112 44 118 38 122 30M128 52C132 44 134 36 132 28M22 44C22 50 24 56 28 60M104 48C106 54 110 60 112 64M128 52C134 56 138 62 138 70M96 22C100 26 102 32 100 38" stroke="#1a0690" stroke-width="0.8" fill="none"/><path d="M62 12C66 9 72 9 76 12C78 15 74 17 70 16C66 16 63 15 62 12Z" fill="#14056e"/><path d="M84 10C92 8 100 10 108 14C112 16 116 18 120 18C114 20 104 20 96 17C90 15 86 13 84 10Z" fill="#200aa8"/></g><path d="M93.27 49.03h0M123.24 48.8h0M139.19 39.28h0M149.98 34.93h0M102.66 22.45h0M145.53 51.27h0M79.16 29.95h0M79.92 42.61h0M136.64 49.02h0M136.26 57.45h0M137.07 47.48h0M125.4 26.3h0M97.33 31.12h0M44.31 16.26h0M57.13 26.87h0M29.59 50.09h0M112.57 22.78h0M73.34 46.36h0M54.57 61.44h0M142.12 36.5h0M30.44 85.08h0M127.11 29.78h0M94.26 21.76h0M62.8 59.91h0M116.21 39.42h0M61.78 44.32h0M18.58 53.03h0M114.44 51.02h0M104.77 17.17h0M64.58 64.43h0M142.07 57.88h0M67.3 31h0M133.5 33.7h0M107.88 29.18h0M65.71 78.29h0M63.87 48.2h0M146.38 44.34h0M101.07 20.05h0M152.33 44.71h0M148.74 63.28h0M125.13 32.49h0M48.45 69.6h0M40.18 14.6h0M94.36 22.98h0M95 17.59h0M84.3 77.46h0M154.51 50.12h0M132.08 59.03h0M115.46 36.8h0M26.13 26.77h0M148.18 36.59h0M65.89 4.56h0M141.74 54.29h0M17.38 64.24h0M24.37 83.73h0M129.29 58.78h0M75.07 8.56h0M117.9 48.3h0M114.71 43.27h0M86.88 20.81h0M131.37 64.46h0M40.53 25.13h0M120.75 51.59h0M75.47 26.62h0M28.37 70.62h0M128.62 31.76h0M111.36 34.4h0M18.69 34.46h0M102.41 54.08h0M78.87 69.57h0M119.52 66.53h0M75.77 59.63h0M105.58 56h0M115.1 32.03h0M75.24 33.39h0M32.85 77.6h0M154.14 42.98h0M13.36 74.25h0M36.54 42.43h0M108.47 46.5h0M70.01 4.72h0M25.32 72.28h0M95.62 29.93h0M52.9 55.21h0M18.84 84.66h0M53.82 49.3h0M152.89 43.96h0M137.6 38.29h0M91.14 68.11h0M146.95 58.6h0M71.08 53.78h0M76 63.68h0M103.45 41.41h0M142.75 32.79h0M112.28 37.78h0M28.21 36.08h0M109.64 28.51h0M111.16 67.71h0M104.13 32.82h0M32.5 45.47h0M131.58 51.54h0M61.5 14.27h0M97.12 75.72h0M52.25 62.62h0M44.45 72.02h0M117.32 71.43h0M117.45 26.22h0M66.65 76.72h0M131.9 56.29h0M130.3 47.95h0" stroke="#f49cf0" stroke-width="1.5" stroke-linecap="round" fill="none" opacity="0.95"/><path d="M25.35 53h0M86.77 28.85h0M23.52 54.06h0M116.6 56.4h0M120.75 25.51h0M87.88 19.47h0M78.72 37.78h0M95.85 36.56h0M141.62 30.15h0M143.47 51.59h0M50.51 73.84h0M89.45 36.3h0M123.55 39.68h0M84.57 75.16h0M72.76 59.5h0M144.05 49.87h0M147.05 58.04h0M59.9 51.75h0M96.55 49.79h0M137.45 62.17h0M56.87 70.51h0M138.24 27.68h0M119.24 26.75h0M151.35 44.02h0M136.11 64.48h0M27.41 46.2h0M146.47 63.12h0M51.8 68.96h0M114.97 25.77h0M100.1 58.94h0M52.12 69.9h0M80.21 75.31h0M59.84 24.12h0M105.46 71.27h0M61.18 3.97h0M13.88 66.13h0M108.03 62.25h0M40.87 14.04h0M153.24 50.37h0M98.76 63.95h0M42.1 64.05h0M68.38 8.86h0M99.98 75.45h0M141.65 43.46h0M114.46 61.56h0M44.5 52.14h0M84.99 32.9h0M121.27 60.29h0M75.52 14.36h0M90.65 44.73h0M106.41 68.11h0M4.96 67.6h0M75.49 72.36h0M81.18 47.4h0M93.52 46.12h0M130.47 50.4h0M121.3 40.48h0M131.32 46.77h0M129.52 32.43h0M74.55 11.82h0M94.03 15.21h0M87.9 52.56h0M59.81 59.88h0M113.36 51.9h0M124.97 26.46h0M120.63 66.86h0M127.48 37.65h0M56.34 53.58h0M24.73 62.27h0M86.23 54.2h0M65.34 68.91h0M84.33 57.34h0M119.23 63.08h0M50.41 34.25h0M105.16 41.87h0M147.64 53.24h0M87.65 61.11h0M70.03 32.51h0M59.18 27.25h0M120.19 54.81h0M19.77 79.73h0M31.6 15.54h0M113.4 26.76h0M86.08 67.77h0M112.33 68.64h0M135.46 65.32h0M67.15 32.6h0M59.56 20.21h0M60.47 76.88h0M112.09 39.47h0M67.73 27.48h0M41.46 20.51h0M108.62 31.24h0M154.39 40.76h0M6.31 67.89h0M115.85 22.9h0M85.85 22.2h0M122.23 54.55h0M57.13 17.19h0M148.13 52.33h0M108.86 34.1h0M53.58 19.61h0M107.83 34.13h0M107.5 24.42h0M138.02 63.74h0M59.34 15.32h0M14.16 80.92h0M20.58 81.24h0M87.62 77.8h0M49.71 49.5h0M30.11 16.31h0M32.25 59.96h0M139.7 61.58h0M109.13 55.34h0M97.46 54.8h0M17.6 65.77h0M61.64 26h0M11.48 43.05h0M45 52.87h0M48.06 49.16h0" stroke="#b45cf4" stroke-width="1.3" stroke-linecap="round" fill="none" opacity="0.9"/><path d="M140.16 31.21h0M68.95 55.07h0M101.26 56.48h0M64.62 10.81h0M74.46 20.73h0M116.15 62.45h0M146.71 35.36h0M140.62 63.2h0M57.23 57.59h0M142.08 40.52h0M66.8 48.45h0M79.66 23.52h0M21.95 30h0M30.46 83.75h0M100.21 72.06h0M111.63 54.55h0M109.26 53.13h0M59.16 39.91h0M75.98 41.63h0M38.45 83.25h0M150.65 34.61h0M80.52 71.76h0M129.98 50.24h0M111.66 27.74h0M101.93 37.28h0M85.56 19.57h0M19.63 35.32h0M38.59 12.77h0M116.65 42.83h0M36.82 46.22h0M41.36 83.17h0M142.24 64.47h0M85.86 67.96h0M98.27 42.15h0M143.66 58.79h0M110.14 41.72h0M16.46 43.18h0M101.48 55.39h0M98.52 29.08h0M71.25 39.8h0M34.33 81.69h0M64.46 62.96h0M15.99 50.21h0M133.11 60.98h0M52.21 24.34h0M40.73 36.46h0M76.74 72.56h0M91.58 62.57h0M104.15 18.25h0M25.76 65.64h0" stroke="#ffe0f4" stroke-width="1.2" stroke-linecap="round" fill="none" opacity="0.95"/><path d="M123.71 23.54h0M29.34 78.97h0M143.8 42.15h0M44.09 75.42h0M62.28 73.38h0M66.14 8.31h0M122.34 27.48h0M53.53 79.06h0M133.21 48.54h0M86.95 43.68h0M117.77 26.57h0M147.85 49.68h0M138.5 54.83h0M116.48 56.68h0M14.9 36.6h0M48.48 21.1h0M88.44 25.16h0M102.07 34.78h0M108.45 50.33h0M118.1 21.69h0M21.95 54.89h0M66.04 6.69h0M75.81 37.54h0M52.07 66.71h0M99.89 29.65h0M67.51 5.78h0M149.12 59.42h0M136.88 59.08h0M147.73 62.71h0M72.42 64.88h0M111.24 30.51h0M42.25 23.55h0M133.65 61.8h0M72.5 52.17h0M62.93 60.33h0M53.36 12.57h0M13.98 74.41h0M29.63 84.44h0M102.69 75.89h0M40.07 14.48h0M59.08 42.95h0M122.51 34.34h0M82.29 34.82h0M17.09 68.7h0M38.67 82.51h0M7.11 72.16h0M152.27 35.74h0M147.9 60.71h0M52.1 58.12h0M60.46 44.16h0" stroke="#7a40ec" stroke-width="1.1" stroke-linecap="round" fill="none" opacity="0.9"/><path d="M62.5 4.58h0M66.72 5.98h0M73.62 4.83h0M64 5.75h0M69.88 5.27h0M62.98 2.87h0M69 5.29h0M71.47 7.32h0M72.66 5.98h0M69.12 4.2h0M67.55 5.16h0M69.67 4.98h0M65.28 4.7h0M72.38 5.63h0M62.59 5.13h0M61.59 6.71h0M70.31 5.67h0M67.07 4.08h0M71.46 5.47h0M73.15 4.94h0M67.67 6.38h0M68.8 5.4h0M69.8 5.9h0M66.13 4.49h0" stroke="#f0b0ff" stroke-width="1.1" stroke-linecap="round" fill="none" opacity="1"/><ellipse cx="135.9" cy="22.6" rx="2.4" ry="1.0" fill="#5a40ff"/><rect x="97.2" y="87" width="60.8" height="2.5" fill="#fff"/></svg>
<svg x="31.7" y="114.2" width="159.8" height="95.5" viewBox="0 0 159.8 95.5" overflow="hidden"><rect width="159.8" height="95.5" fill="#404040"/><rect width="159.8" height="95.5" fill="#fff" filter="url(#spk)"/><path d="M85.28 -3.96C83.14 -2.51 81.09 3.22 78.48 8.29C75.87 13.36 72.62 20.45 69.62 26.46C66.61 32.47 63.22 38.81 60.46 44.33C57.69 49.85 55.6 54.13 53 59.58C50.41 65.03 47.82 71.08 44.89 77.04C41.96 82.99 36.71 92.11 35.43 95.31C34.14 98.52 35.13 99.08 37.17 96.29C39.22 93.49 44.3 84.27 47.71 78.56C51.11 72.85 54.52 67.24 57.6 62.02C60.67 56.8 63.25 52.75 66.14 47.27C69.04 41.79 71.99 35.13 74.98 29.14C77.98 23.15 81.4 16.24 84.12 11.31C86.85 6.38 91.13 2.11 91.32 -0.44C91.52 -2.98 87.42 -5.42 85.28 -3.96Z" fill="#3e3e3e"/><path d="M22.97 -4.61C20.95 -3.33 18.33 2.7 15.93 6.27C13.53 9.83 10.9 13.32 8.55 16.77C6.2 20.21 4.05 23.62 1.81 26.93C-0.44 30.23 -4.45 34.49 -4.93 36.58C-5.41 38.66 -2.92 40.51 -1.07 39.42C0.79 38.34 3.77 33.27 6.19 30.07C8.61 26.88 10.97 23.62 13.45 20.23C15.93 16.84 18.64 13.34 21.07 9.73C23.5 6.13 27.71 1 28.03 -1.39C28.35 -3.78 24.99 -5.89 22.97 -4.61Z" fill="#3e3e3e"/><path d="M-2.48 58.62C-2.6 59.77 -0.66 62.42 -0.28 64.3C0.1 66.18 -0.61 68.93 -0.2 69.9C0.22 70.87 1.62 71.13 2.2 70.1C2.77 69.07 3.56 65.82 3.28 63.7C2.99 61.58 1.44 58.23 0.48 57.38C-0.48 56.54 -2.35 57.46 -2.48 58.62Z" fill="#3e3e3e"/><path d="M160.07 48.74C157.12 49.54 150.08 54.14 144.84 57.65C139.6 61.16 133.68 65.56 128.64 69.8C123.6 74.05 118.57 78.99 114.6 83.1C110.63 87.21 105.96 92.11 104.82 94.45C103.68 96.8 105.58 98.47 107.78 97.15C109.98 95.82 113.97 90.39 118 86.5C122.03 82.61 127 77.89 131.96 73.8C136.92 69.71 142.66 65.44 147.76 61.95C152.85 58.46 160.48 55.06 162.53 52.86C164.59 50.66 163.01 47.94 160.07 48.74Z" fill="#3e3e3e"/><path d="M160.04 61.76C157.41 62.42 151.05 66.59 146.79 69.81C142.53 73.03 138.19 77.14 134.49 81.07C130.8 85 125.69 90.87 124.61 93.39C123.53 95.91 125.74 97.69 127.99 96.21C130.24 94.73 134.47 88.26 138.11 84.53C141.74 80.79 145.74 76.9 149.81 73.79C153.89 70.68 160.85 67.85 162.56 65.84C164.26 63.84 162.67 61.1 160.04 61.76Z" fill="#3e3e3e"/><path d="M159.31 80.56C157.12 81.16 152.73 86.13 150.18 88.68C147.63 91.23 144.29 94 144.02 95.85C143.76 97.69 146.84 100.24 148.58 99.75C150.31 99.26 151.97 95.37 154.42 92.92C156.87 90.47 162.48 87.1 163.29 85.04C164.11 82.98 161.49 79.95 159.31 80.56Z" fill="#3e3e3e"/><path d="M67.02 74.84C65.57 75.83 62.81 80.01 60.86 82.72C58.91 85.43 55.94 89.45 55.34 91.08C54.74 92.71 55.86 93.55 57.26 92.52C58.66 91.49 61.69 87.51 63.74 84.88C65.79 82.25 69.03 78.43 69.58 76.76C70.13 75.09 68.47 73.85 67.02 74.84Z" fill="#3e3e3e"/><path d="M144.96 0.48C145.87 2.06 150.38 3.36 153.1 4.55C155.81 5.74 159.54 8.04 161.25 7.61C162.96 7.18 164.31 3.42 163.35 1.99C162.4 0.56 158.12 0.2 155.5 -0.95C152.88 -2.09 149.4 -5.12 147.64 -4.88C145.88 -4.64 144.05 -1.09 144.96 0.48Z" fill="#3e3e3e"/><ellipse cx="19" cy="25" rx="2.6" ry="2.2" fill="#3a3a3a"/><ellipse cx="38" cy="8" rx="1.8" ry="2.4" fill="#3a3a3a"/><ellipse cx="7" cy="58" rx="2" ry="1.6" fill="#3a3a3a"/><ellipse cx="28" cy="80" rx="2" ry="1.5" fill="#3a3a3a"/><ellipse cx="52" cy="18" rx="2" ry="1.6" fill="#3a3a3a"/><ellipse cx="113" cy="58" rx="2" ry="1.5" fill="#3a3a3a"/><ellipse cx="100" cy="40" rx="2.6" ry="2" fill="#3a3a3a"/><ellipse cx="130" cy="20" rx="2" ry="1.6" fill="#3a3a3a"/><ellipse cx="140" cy="62" rx="2.2" ry="1.6" fill="#3a3a3a"/><ellipse cx="64" cy="62" rx="1.8" ry="2.2" fill="#3a3a3a"/></svg>
<svg x="196" y="114.2" width="160" height="95.5" viewBox="0 0 160 95.5" overflow="hidden"><rect width="160" height="95.5" fill="#000"/><path d="M112 95C124 82 144 66 160 56M84 95C90 84 98 76 104 72M66 95C68 86 72 80 76 74M128 95C136 86 150 76 160 70" stroke="#1f1f1f" stroke-width="0.8" fill="none"/><path d="M81.89 78.95h0M71.94 91.97h0M9.84 87.76h0M148.44 75.12h0M26.84 79.05h0M83.99 50.84h0M107.54 85.5h0M33.98 90h0M33.51 70h0M70.32 90.38h0M21.31 26.26h0M17.46 13.68h0M120.15 15.14h0M156.48 76.34h0M11.18 49.15h0M105.35 90.13h0M127.27 45.8h0M29.6 41.8h0M155.99 17.46h0M17.96 53.43h0M115.21 77.87h0M143.12 25.21h0M24.67 18.94h0M12.29 90.47h0M15.69 94.02h0M70.03 42.46h0M115.36 42.65h0M76.37 13.92h0M121.71 15.96h0M71.22 7.61h0M88.15 94.87h0M23.24 74.14h0M156.63 1.46h0M15.81 20.47h0M132.43 73.45h0M113.34 81.98h0M56.73 14.27h0M86.55 91.95h0M42.19 62.79h0M41.52 23.39h0M8.08 86.66h0M15.22 64.98h0M102.45 11.69h0M25.83 35.12h0M144.83 77.18h0M58.92 91.28h0M133.43 74.8h0M26.58 11.71h0M47.95 9.38h0M150.29 38.66h0M142.37 45.67h0M78.1 3.41h0M54.59 61.23h0M103.11 21.65h0M4.58 30.92h0M125.13 67.99h0M121.59 67.6h0M81.07 2.78h0M31.65 60.34h0M58.6 20.44h0M114.38 74.21h0M59.69 20.36h0M87.23 3.65h0M73.16 94.47h0M117.68 27.87h0M44.81 67.48h0M140.8 40.91h0M40.92 92.17h0M140.02 73.71h0M126.18 38.52h0" stroke="#262626" stroke-width="0.9" stroke-linecap="round" fill="none" opacity="1"/><path d="M139.3 27.68h0M137.86 40.99h0M139.06 42.34h0M138.8 21.78h0M137.83 43.69h0M137.94 34.65h0M138.01 27.51h0M140.63 43.54h0M140.54 31.71h0M139.11 37.15h0" stroke="#555" stroke-width="0.9" stroke-linecap="round" fill="none" opacity="1"/><polygon points="110.06,15.01 113.39,13.86 115.98,13.67 118.16,15.33 122,16.19 123.3,18.17 127.79,17.62 129.53,19.15 131.13,21.31 131.51,23.08 132.84,24.46 134.09,26.02 133.62,30.09 135.17,32.84 133.67,35 134.37,37.6 130.89,37.3 130.99,41.48 129.04,42.85 127.49,43.8 125.74,45.38 123.29,48.35 122.39,48.12 119.45,49.39 118.18,50.66 115.83,53.8 114.94,54.95 111.95,56.41 111.09,58.36 109.1,60.61 107.66,62.14 105.06,63.27 103.29,65.7 101.77,65.16 101.79,65.36 99.37,64.45 96.98,62.09 96.56,64.28 95.68,62.49 92.48,58.37 91.25,56.34 86.96,56.53 89.23,55.84 89.12,54.88 87.98,52.06 87.9,50.01 88.45,50.15 89.8,46.54 89.84,46.18 89.32,41.65 92.08,40.32 91.19,39.82 93.2,38.15 93.06,35.92 94.18,31.99 95.85,30.36 97.82,26.94 99.48,24.74 100.38,23.29 101.7,20.87 102.6,20.88 103.4,18.68 105.86,16.43 106.71,15.81" fill="#4c4c4c"/><polygon points="44.87,62.04 45.1,62 44.71,64.44 45.44,64.79 45.46,66.19 43.34,67.24 41.68,67.75 40.31,68.66 39.93,68.73 38.75,68.74 36.98,69.33 34.58,69.96 34.92,71.44 32.58,69.83 32.17,68.77 30.61,68.16 27.56,68.66 26.58,68.89 24.82,67.62 24.07,67.02 23.7,66.59 22.89,65.23 22.4,62.93 21.26,62.87 21.77,60.93 23.17,59.94 23.12,58.39 24.24,58.69 23.88,56.62 26.17,56.03 26,55.13 27.48,55.1 27.29,53.48 29.62,53.9 30.96,53.65 32.85,53.53 35.44,52.81 35.26,52.39 37.35,53.54 38.25,52.95 40.73,54.25 41.06,53.68 41.64,55.41 43.24,56.23 43.55,55.84 43.45,57.86 44.14,58.77 44.58,60.93" fill="#505050"/><path d="M114.22 40.75h0M123.13 47.06h0M120.9 22.2h0M109.55 16.23h0M115.57 23.63h0M121.39 28.62h0M116.86 32.59h0M124.79 28.85h0M132.86 31.74h0M99.56 58.13h0M96.01 43.04h0M101.89 35.34h0M92.52 56.21h0M129.79 26.66h0M98.87 46.84h0M98.81 50.54h0M112.73 54.02h0M114.23 46.67h0M130.34 27.69h0M104.28 51.73h0M110 16.37h0M112.4 52.72h0M118.31 27.78h0M112.45 39.78h0M95.2 54.04h0M105.47 23.98h0M94.12 52.88h0M103.79 33.97h0M128.26 28.26h0M92.72 39.95h0M126.19 18.87h0M99.76 51.46h0M102.24 28.69h0M108.57 17.66h0M103.91 34.03h0M122.9 40.32h0M118.88 25.55h0M131.09 29.18h0M123.68 41h0M108.9 29.66h0M120.13 21.63h0M122.05 18.15h0M112.7 50.62h0M103.1 58.49h0M133.77 28.15h0M97.17 30.01h0M104.31 49.57h0M117.98 38.56h0M94.1 36.52h0M102.3 22.47h0M108.64 52.78h0M117.36 42.14h0M109.62 18.87h0M105.18 37.42h0M130.29 28.19h0M98.41 34.51h0M122 29.5h0M99.11 30.04h0M113.28 53.03h0M104.21 28.61h0M101.26 55.13h0M121.2 42.66h0M105.04 33.59h0M101.6 45.55h0M102.84 60.84h0M109.44 27.38h0M121.8 42.96h0M125.4 26.23h0M118.82 29.87h0M124.73 40.76h0M103.8 30.73h0M115.53 35.62h0M101.15 37.24h0M124.32 27.43h0M109.1 23.78h0M107.86 35.3h0M100.6 38.48h0M104.34 22.14h0M106.59 51.76h0M104.8 31.61h0M101.4 23.66h0M120.58 38.63h0M104.14 37.89h0M101.21 53.33h0M97.4 57.84h0M93.56 40.59h0M103.05 25.15h0M100.59 36.89h0M119.44 31.09h0M119.13 45.93h0M115.01 50.93h0M112.79 47.19h0M114.31 32.51h0M105.97 19.83h0M92.11 56.87h0M117.88 39.6h0M111.44 23.26h0M119.68 18.17h0M95.87 46.22h0M97.52 29.31h0M118.78 32.17h0M100.62 58.82h0M93.37 46.06h0M97.64 40.95h0M131.73 27.92h0M129.22 30.38h0M114.29 18.96h0M123.66 39.8h0M132.39 27.5h0M113.39 18.11h0M119.3 37.76h0M93.37 49.31h0M89.17 52.21h0M93.81 59.09h0M117.5 18.07h0M111.34 45.85h0M113.59 40.28h0M94.25 39.89h0M114 20.1h0M98.45 52h0M113.47 31.57h0M122.67 30.33h0M131.95 27.25h0M95.81 37.87h0M103.89 22.98h0M106.73 26.71h0M115.26 30.14h0M93.94 43.75h0M99.35 36.19h0M124.83 31.88h0M118.27 20.8h0M95.57 58.02h0M125.87 35.46h0M132.11 34.83h0M101.28 28.08h0M117.96 40.52h0M103.28 31.06h0M129.49 41.21h0M131.99 33.81h0M126.37 24.48h0M126.52 42.27h0M100.45 61.77h0M102.77 26.51h0M107.4 51.24h0M108.08 33.93h0M93.96 55.28h0M125.07 31.69h0M130.61 27.23h0M101.92 58.11h0M97.28 50.29h0M119.31 30.55h0M99.91 28.05h0M90.15 47.79h0M103.45 46.3h0M96.57 33.53h0M117.02 35.84h0M114.56 52.79h0M108.79 40.04h0M112.91 33.15h0M112.78 37.06h0M120.54 36.72h0M111.98 51.14h0M111.09 48.03h0M96.55 41.06h0M123.46 40.15h0M99.13 61.83h0M98.51 28.62h0M106.48 33.35h0M111.27 23.68h0M102.69 41.22h0M125.74 44.96h0M99.57 53.49h0M101.09 56.79h0M102.84 32.94h0M108.24 26.25h0M101.86 43.22h0M114.42 34.14h0M116.6 37.53h0M97.86 43.71h0M109.5 28.15h0M104.85 45.96h0M114.79 45.57h0M98.12 36.04h0M116.15 16.48h0M121.42 31.7h0M128.01 39.52h0M115.49 21.55h0M103.84 56.76h0M103.41 28.65h0M114.68 29.65h0M119.46 34.16h0M112.11 43.18h0M93.17 59.16h0M94.94 52.74h0M104.38 22.48h0M115.97 29.9h0M127.34 29.7h0M127.94 29.08h0M133.6 29.45h0M124.24 34.17h0M122.06 33.75h0M103.88 30.47h0M122.9 44.9h0M129.81 32.66h0M100.22 29.28h0M119.03 40.09h0M98.99 37.8h0M111.05 34.32h0M100.13 58.68h0M91.5 43.92h0M105.83 27.42h0M110.29 57.69h0M110.25 34.18h0M107.87 39.29h0M125.26 44.55h0M132.43 32.52h0M108.44 28.14h0M109.97 51.02h0M130.98 25.77h0M101.68 33.79h0M111.03 47.74h0M119.97 27.07h0M95.81 32.09h0M99.4 34.75h0M119.94 27.25h0M94.44 60.36h0M99.74 36.14h0M124.61 32.34h0M117 36.95h0M97.89 36.95h0M124.25 34.36h0M120.12 20.88h0M97.58 54.21h0M128.11 20.4h0M121.15 47.58h0M102.87 43.33h0M119.91 44.23h0M108.58 35.2h0M101.79 48.49h0M100.77 37.99h0M96.87 35.66h0M102.33 61.92h0M99.3 42.02h0M129.91 32.33h0M110.93 38.43h0M131.08 34.41h0M107.66 24.04h0M124.42 36.68h0M113.59 22.91h0M109.16 16.05h0M108.61 59.18h0M111.78 20.57h0M99.47 45.53h0M101.59 56.26h0M114.4 23.85h0M113.21 25.91h0M106.81 51.82h0M121.99 29.94h0M108.16 32.81h0M107.45 48.3h0M114.37 16.89h0M92.37 54h0M111.95 36.03h0M119.23 28.71h0M102.99 49.07h0M123.87 40.73h0M115.87 48.85h0M123.12 21.61h0M120.28 33.66h0M125.28 43.53h0M110.27 35.57h0M115.91 25.01h0M118.72 36.06h0M122.45 23.79h0M94.06 45.44h0M110.97 37.68h0M110.46 19.48h0M116.43 20.93h0M114.22 22.97h0M129.21 34.36h0M131.74 33.45h0M99.58 33.29h0M102.59 62.99h0M114.62 52.71h0M114.25 43.03h0M93.97 44.27h0M128.8 35.44h0M128.77 38.78h0M116.41 16.64h0M102.73 55.43h0M111.43 42.51h0M102.03 34.98h0M118.69 22.11h0M125.89 33.49h0M94.75 34.19h0M94.81 36.95h0M101.69 39.2h0M93.68 56.24h0M127.19 19.64h0M133.27 31.89h0" stroke="#101010" stroke-width="1.5" stroke-linecap="round" fill="none" opacity="1"/><path d="M115.45 31.97h0M132.18 32.47h0M105.54 47.37h0M101.17 28.96h0M93.02 40.71h0M119.41 35.68h0M130.22 27.75h0M120.04 46.41h0M114.88 26.12h0M91.82 48.59h0M104.25 23.25h0M128.4 36.53h0M103.82 38.55h0M113.55 44.4h0M125.8 19.47h0M121.94 40.35h0M118.84 27.42h0M115.75 41.54h0M123.98 39.43h0M95.33 47.99h0M120.24 31.64h0M107.58 23h0M106.93 48.45h0M118.87 42.44h0M116.13 49.86h0M119.37 36.78h0M106.21 37.38h0M96.09 56.13h0M115.76 31.46h0M92.2 49.89h0M128.79 28.21h0M131.92 26.75h0M96.11 50.27h0M108.24 59.4h0M109.53 20.5h0M127.49 41.04h0M105.52 41.97h0M119.14 28.01h0M131.26 23.88h0M93.72 46.3h0M121.99 36.74h0M113.13 36.37h0M104.05 55.01h0M130.48 28.07h0M104.85 53.95h0M111.48 16.08h0M107.37 43.05h0M93.14 52.32h0M108.29 22.12h0M123.84 25.93h0M113.2 53.9h0M119.84 16.45h0M97.89 50.95h0M114.62 47.72h0M122.55 31.89h0M117.61 48.63h0M105.53 51.85h0M126.95 26.02h0M110.38 17.31h0M131.88 31.29h0M102.75 46.76h0M95.1 52.65h0M115.79 44.97h0M115.63 52.21h0M108.63 48.38h0M105.93 55.56h0M111.95 37.39h0M122.11 26.7h0M126.13 37.04h0M104.72 34.03h0M116.76 47.89h0M98.7 41.34h0M114.97 41.42h0M121.3 23.07h0M97.8 39.68h0M124.71 30.1h0M115.49 22.53h0M114.44 30.09h0M105.64 36.75h0M99.55 42.39h0M126.76 36.93h0M106.18 62.3h0M119.15 34.91h0M119.87 16.98h0M91.79 52.72h0M127.08 25.6h0M123.39 22.82h0M99.35 55.58h0M129.12 27.53h0M129.02 25.03h0M133.8 29.2h0M104.47 44.88h0M101.54 22.99h0M95.62 60.71h0M99.64 34.82h0M113.75 22.92h0M125.5 24.03h0M130.46 35.68h0M125.95 22.63h0M109.96 45.03h0M104.18 29.64h0M110.37 15.66h0M109.55 37.98h0M100.34 46.26h0M111.61 37.81h0M120.55 42.84h0M95.77 43.93h0M98.06 62.53h0M118.04 48.94h0M89.16 53.72h0M114.73 53.96h0M118.1 43.26h0M108.1 54.1h0M104.64 55.27h0M123.16 20.69h0M92.95 48.4h0M108.39 52h0M97.92 51.28h0M119.43 17.91h0M100.47 59.6h0M118.28 16.86h0M96.03 48.06h0M104.67 22.14h0M102.97 42.37h0M111.97 38.01h0M121.38 44.97h0M122.25 44.08h0M133.23 26.84h0M110.3 23.68h0M122.48 28.05h0M123.07 42.11h0M95.17 57.77h0M111.19 30.7h0M112.95 21.84h0M116.05 21.78h0M113.95 26.99h0M125.86 25.91h0M102.19 58.07h0M112.32 42.49h0M114.78 53.11h0M94.73 47.45h0M117.47 16.39h0M100.05 57.08h0M132.77 25.64h0M122.82 31.37h0M126.24 20.65h0M105.74 39.98h0M90.3 57.07h0M108.38 57.25h0M114.52 45.56h0M107.52 36.09h0M96.94 42.94h0M124.19 37.24h0M113.88 40.23h0M105.05 52.81h0M96.18 52.4h0M106.14 35.98h0M117.62 25.32h0M111.94 36.65h0M108.91 33.35h0M126.83 28.17h0M93.7 40.06h0M119.56 19.25h0M125.81 20.1h0M106.23 50.2h0M124.45 21.81h0M105.16 44.78h0M101.79 41.35h0M107.12 18.64h0M95.91 43.66h0M130.55 32.77h0M130.11 21.25h0M97.33 61.79h0M98.44 35.54h0M98.38 52.56h0M106.14 25.75h0M120.69 23.89h0M100.16 35.76h0M101.69 51.49h0M89.95 50.43h0M120 18.61h0M105.28 49.39h0M126.04 19.71h0M114.63 46.44h0M109.23 22.27h0M128.09 39.85h0M119.11 35.24h0M105.81 23h0M98.21 33.14h0M103.98 25.33h0M131.84 23.08h0M107.86 38.7h0M120.82 38.46h0M116.18 47.49h0M127.92 26.1h0M89.94 54.74h0M97.65 39.62h0M117 21.41h0M108.89 45.53h0M123.23 46.03h0M116.52 37.28h0M107.99 18.01h0M105.43 60.03h0M105.96 38.43h0M125.08 34.18h0M122.6 24.71h0M100.27 39.71h0M104.65 49.37h0M129.05 25.9h0M108.5 52.65h0M120.62 32.53h0M128.98 32.55h0M120.01 26.68h0M114.88 41.44h0M125.93 39.17h0M100.71 44.47h0M105.72 25.57h0M118.84 46.44h0M130.93 29.4h0M106.19 40.52h0M119.44 46.74h0M109.11 34.55h0M120.53 48.82h0M126.62 27.44h0M119.38 37.27h0M99.96 55.3h0M106.07 40.74h0M109 28.5h0M102.18 63.07h0M124.6 25.01h0M105.61 54.94h0M103.34 32.54h0M128.66 41.15h0M105.26 37.24h0M128.1 36.61h0M108.64 46.81h0M102.47 52.35h0M126.04 36.44h0M119.73 22.91h0M126.33 30.76h0M129.8 25.18h0M102.53 61.81h0M94.08 47h0M104.22 34.92h0M130.51 37.48h0M102.69 42.19h0M132.33 30.12h0M123.31 45.6h0M116.36 43.56h0M98.34 55.97h0M104.43 48.57h0M99.88 50.99h0M124.94 34.04h0M125.57 32.37h0M90.96 47.48h0M105.78 59.31h0M125.22 42h0M107.03 37.66h0M105.38 46.68h0M114.36 46.73h0M116.9 15.93h0M94.87 45.86h0M94.79 46.61h0M92.69 49.7h0M130.09 34.24h0M97.4 34.75h0M125.91 22.3h0M104.74 31.13h0M102.07 57.31h0M97.55 31.19h0M96.31 45.94h0M108.28 29.23h0M119.3 24h0M96.88 55.95h0M122.47 22.02h0M123.95 33.52h0M120.39 20.5h0M112.84 30.76h0M118.93 19.28h0M89.14 48.78h0M108.14 58.26h0M110.09 38.5h0M92.11 41.27h0M119.79 29.19h0M133.16 28.18h0M129.6 34.31h0M102.92 57.74h0M94.9 41.22h0M116.58 50.96h0M103.36 30.47h0M95.9 43.39h0M100.91 39.04h0M101.52 59.3h0M105.4 19.83h0M126.72 20.89h0M100.1 31.75h0M96.94 47.78h0M94.58 45.72h0M106.32 47.92h0M114.98 49.98h0M118.6 48.74h0M98.96 58.9h0M110.23 45.92h0M96.28 41.88h0M114.66 18.34h0M101.99 35.74h0M95.63 46.72h0M116.92 42.72h0M118.25 37.94h0M90.19 49.13h0M117.78 43.99h0M115.03 48.52h0M111.02 36.26h0M119.41 38.19h0M112.28 27.05h0M99.07 44.96h0M102.48 30.71h0M99.23 49.42h0M96.64 45.95h0M115.94 24.64h0M100.07 46.8h0M114.77 21.46h0M101.24 31.1h0M115.03 22.3h0M112.42 38.07h0M117.02 47.84h0M96.31 46.55h0M109.02 47.46h0M112.3 19.38h0M131.21 23.22h0" stroke="#c4c4c4" stroke-width="1.2" stroke-linecap="round" fill="none" opacity="1"/><path d="M109.87 16.07h0M94.51 51.76h0M124.87 23.02h0M111.93 56.39h0M90.87 46.11h0M98.13 41.99h0M125.07 23.61h0M102.88 43.86h0M121.07 27.53h0M118.83 33.75h0M90.43 55.16h0M99.52 47.82h0M114.52 25.19h0M120.92 21.97h0M99.14 36.96h0M103.09 22.86h0M131.91 36.91h0M120.26 21.25h0M109.95 34.44h0M115.63 27.85h0M112.04 49.6h0M101.39 58h0M94.57 44.29h0M128.15 32.56h0M131.18 29.23h0M104.55 45.67h0M107.14 33.85h0M98.08 40.15h0M94.08 46.79h0M95.79 36.93h0M114.47 38.68h0M125.09 35.14h0M132.27 33.47h0M118.39 21.92h0M108.8 39.44h0M110.93 36.15h0M95.86 49.77h0M95.44 60.54h0M103.77 26.48h0M107.14 43.35h0M105.2 31.08h0M118.04 19.15h0M104.25 55.91h0M121.56 26.93h0M116.29 45.95h0M103.65 60.2h0M117.41 26.89h0M112.41 21.06h0M131.68 30.62h0M115.38 26.8h0M120.81 20.29h0M98.13 45.75h0M128.7 23.72h0M126.25 44.39h0M120.76 41.59h0M111.4 41.52h0M98.35 39.76h0M114.5 37.36h0M92.13 41.07h0M96.44 33.02h0M123.12 44.79h0M126.12 40.25h0M104.12 29.59h0M97.39 33.17h0M98.17 57.84h0M119.81 23.92h0M130.49 23h0M133.27 34.68h0M117.88 23.54h0M122.16 29.52h0M120.53 35.13h0M130.59 30.01h0M124.63 32.16h0M112.97 19.37h0M115.7 48.42h0M127.74 21.88h0M118.32 41.94h0M113.46 21.39h0M116.35 39h0M125.03 35.27h0M120.15 39.06h0M103.94 35.33h0M131.56 26.13h0M125.11 27.76h0M118.55 18.52h0M127.6 42.4h0M122.92 42.5h0M98.74 61.79h0M118.72 49.63h0M105.45 21.77h0M119.7 46.66h0M132.98 29.7h0M104.94 27.68h0M107.42 33.47h0M101.55 57.74h0M121.82 44.64h0M113.59 26.79h0M119.11 47.52h0M98.8 53.5h0M114.71 42.12h0M113.47 19.62h0M105.81 62.16h0M130.29 21.59h0M109.92 56.01h0M118.9 40.27h0M108.52 55.95h0M114.22 20.79h0M102.68 29.88h0M94.03 59.29h0M118.7 18.12h0M125.49 45.12h0M106.25 30.57h0M133.06 32.27h0M96.81 36.74h0M112.52 39.72h0M109.57 37.03h0M117.63 20.88h0M122.94 42.14h0M110.03 25.29h0M90.81 51.24h0M97.32 32.29h0M106.73 21.82h0M106.58 41.61h0M100.18 30.96h0M127.66 33.19h0M117.54 17.44h0M125.2 36.7h0M103.65 36.79h0M103.59 34.13h0M97.25 39.68h0M117.81 50.55h0M133.94 28.21h0M112.12 53.56h0M115.36 32.24h0M109.54 49.09h0M109.73 54.75h0M96.45 59.15h0M112.36 28.31h0M113.37 45h0M132.07 29.55h0M126.71 40.4h0M126.38 32.66h0M107.25 40.68h0M95.62 54.2h0M111.24 19.68h0M116.32 40.69h0M91.76 41.93h0M132.9 34.84h0M106.78 20.68h0M106.08 32.84h0M128.35 29.78h0M100.18 27.58h0M93.01 38.35h0M126.69 19.72h0M108.47 50.88h0M112.63 55.27h0M107.14 47.89h0M105.65 40.44h0M119.32 38.5h0M112.04 41.58h0M111.75 53.13h0M101.14 34.25h0M104.77 43.89h0M122.34 38.74h0M96.44 44.64h0M122.12 32.45h0M104.55 23.4h0M110.71 24.69h0M125.38 31.15h0M104.21 22.82h0M113.09 36.51h0M107.75 56.48h0M103.74 45.18h0M116.15 37.96h0M111.82 21.11h0M130.58 21.87h0M107.69 21.45h0M104.26 22.51h0M95.47 42.34h0M107.62 29.49h0M96.71 38.93h0M103.84 48.03h0M106.58 59.78h0M119.27 16.31h0M94.84 58.53h0M93.96 50.59h0M93.89 37.12h0M102.64 37.35h0M101.1 60.04h0M105.9 45.66h0M114.57 51.9h0M127.04 25.34h0M103.93 32.86h0M106.22 43.3h0M125.81 40.32h0M125.95 41.54h0M132.25 28.51h0M125.51 39.34h0M120.17 30.07h0M123.72 20.37h0M123.21 44.9h0M112.44 54.62h0M92.66 42.12h0M115.71 48.26h0M118.85 18.93h0M106.77 51.2h0M121.74 18.23h0M114.46 33.59h0M119.66 18.05h0M114.37 38.09h0M103.11 42.8h0M101.43 32.62h0M104.22 28.48h0M109.47 56.13h0M110.85 32.99h0M102.32 48.89h0M107.77 21.33h0M120.04 33.53h0M100.57 32.66h0M105.01 32.54h0M105.77 46.68h0M127.32 40.01h0M109.46 50.61h0M104.21 56.9h0M105.31 49.34h0M123.19 45.96h0M121.48 30.75h0M103.67 26.25h0M115.05 44.43h0M115.74 22.41h0M113.95 49.83h0M114.5 40.44h0M101.12 46.89h0M129.62 21.87h0M108.04 41.7h0M114.37 39.58h0M102.05 26.34h0M113.5 50.23h0M130.92 38.29h0M125.98 40.34h0M117.32 24.53h0M127.3 40.79h0M129.66 30.89h0M105.88 49.07h0M104.09 54.72h0M117.81 20.31h0M99.68 42.09h0M109.05 51.22h0M126.95 36.55h0M96.58 43.13h0M108.85 53.43h0M100.38 55.84h0M110.38 20.85h0M91.97 55.69h0M104.03 50.56h0M123.49 29.83h0M99.24 31.56h0M101.16 35.63h0M111.14 49.72h0M126.57 32.62h0M126.8 32.77h0M100.97 37.3h0M99.42 58.19h0M90.13 56.05h0M99.26 30.2h0M100.85 35.16h0M119.09 26.01h0M106.04 42.82h0M114 43.85h0M112.24 16.57h0M128.65 25.96h0M115.89 41.33h0M120.91 37.76h0M121.61 31.34h0M118 18.33h0M107.88 37.05h0M99.28 42.12h0M117.45 16.28h0M90.3 49.29h0M109.43 41.86h0M116.06 44.15h0M100.06 58.02h0M96.93 47.88h0M90.78 43.17h0M100.62 43.35h0M124.37 20.34h0M105.25 19.14h0M106.6 53.02h0M103.21 29.3h0M128.71 29.42h0M130.43 33.81h0M104.69 51.42h0M94.4 56.28h0M95.1 46.31h0M92.84 48.45h0M95.28 34.44h0M123.77 24.69h0M103.48 55.73h0M96.78 40.2h0M107.73 60.03h0M106.51 26.32h0M115.07 32.23h0M123.68 45.62h0M117.86 46.02h0M97.1 38.23h0M119.34 38.44h0M94.42 35.15h0M99.93 52.28h0M114.99 51.37h0M106.55 30.25h0M100.84 48.71h0M119.13 33.51h0M111 30.81h0M120.13 41.81h0M109.63 27.88h0M113.29 27.64h0M118.41 29.89h0M98.93 56.62h0M127.95 24.78h0M124.19 32.67h0M104.23 43.12h0M100.17 62.14h0M117.96 46.37h0M114.77 32.14h0M115.27 32.64h0M94.63 50.6h0M105.1 54.79h0M127.33 24.5h0M107.63 51.39h0M92.34 48.39h0M101.32 49.6h0M127.06 34.81h0M111.42 50.71h0M102.18 62.9h0M104.76 19.48h0M123.18 40.28h0M104.96 42.8h0M125.55 33.92h0M104.27 44.86h0M124.15 39.22h0M92.9 42.11h0M91.23 46.83h0M106.02 57.72h0M107.28 19.01h0M105.51 25.87h0M109.4 45.77h0M111.68 19.37h0M99.33 41.91h0M104.35 38.47h0M133.53 27.17h0M101.23 45.73h0M111.57 30.64h0M101.07 30.96h0M101.29 34.32h0M113.13 29.44h0M98.05 58.61h0M90.69 51.59h0M121.15 17.21h0M112.27 33.14h0M115.79 45.4h0M129.69 26.17h0M122.64 41.4h0M106.77 50.16h0M122.71 35.23h0M107.63 33.45h0M105.64 27.61h0M97.15 48.4h0M120.78 44.84h0M127.66 42.36h0M130.13 26.92h0M127.95 35.57h0M116.36 21.11h0M112.69 31.94h0M127.99 28.06h0M120.67 44.57h0M128.96 32.61h0M113.61 26.46h0M109.31 54.66h0M107.74 60.68h0M96.23 48.99h0M119.42 43.4h0M104.17 55.79h0M112.41 29.29h0M109.58 21.65h0M106.22 42.4h0M114.11 51.33h0M103.7 42.89h0M129.22 39.46h0M108.1 38.43h0M110.43 50.87h0M124.59 36.41h0M114.53 19.76h0M113.33 47.53h0M119.38 41.49h0M122.58 42.09h0M103.41 62.38h0M115.67 37.12h0M117.35 41.69h0M109.85 22.33h0M117.68 42.24h0M124.43 33.47h0M105.36 54.86h0M90.18 52.8h0M102.57 47.45h0M123.39 34.82h0M97.25 51.49h0M101.15 63.81h0M103.52 34.25h0M100.88 61.07h0M112.18 42.14h0M113.95 26.05h0M114.84 23.08h0M128.39 24.15h0M103.1 38.74h0M102.18 43.44h0M100.56 25.79h0M94.96 42.95h0M126.13 20.92h0M90.69 53.15h0M108.72 48.36h0M131.12 27.5h0M102.58 55.07h0M110.97 36.63h0M102.22 31.83h0M102.8 55.62h0M121.43 34.53h0M118.59 28.81h0M128.74 22.27h0M103.3 23.56h0M124.61 22.48h0M128.49 33.45h0M119.75 37.14h0M101.32 37.84h0M100.72 28.68h0M97.12 43.21h0M102.9 51.4h0M96.96 60.98h0M126.23 32.58h0M112.99 38.16h0M104.29 36.67h0M109.43 53.72h0M114.42 30.5h0M115.63 44.62h0M96.98 49.25h0M126.74 29.59h0M99.59 59.59h0M105.36 47.19h0M106.44 47.65h0M107.64 16.98h0M106.07 30.76h0M107.39 18.5h0M99.43 30.85h0M116.1 50.74h0M98.75 38.16h0M114.02 31.33h0M114.12 21.12h0M124.92 42.63h0M105.47 53.14h0M114.66 47.04h0M110.19 53.06h0M103.52 45.58h0M104.35 52.78h0M132.12 26.96h0M95.01 52.43h0M113.43 23.94h0M114.62 41.81h0M124.8 41.75h0M94.67 43.8h0M100.2 48.51h0M116.83 40.24h0M97.99 31.53h0M129.15 27.37h0M102.21 55.99h0M125.56 26.38h0M128.64 39.49h0M121.4 34.32h0M109.15 27.47h0M127.5 39.1h0M93.5 44.17h0M117.87 29.9h0M117.38 35.91h0M92.9 52.17h0M121.43 34.06h0M131.72 28.45h0M112.01 31.27h0M106.88 37.97h0M112.96 39.23h0M102.99 28.55h0M96.86 58.46h0M106.51 49.85h0M107.69 33.3h0M132.31 25.8h0M124.89 19.93h0M110.97 48.43h0M122.79 26.66h0M118.62 33.41h0M101.68 25.54h0M99.64 40.48h0M117.2 51.5h0M112 35h0M101.39 29.29h0M117.33 37.35h0M112.33 16.29h0M118.07 43.58h0M126.07 18.99h0M119.82 17.96h0M94.91 36.91h0M89.05 53.92h0M103.25 24.42h0M127.89 32.27h0M98.67 50.15h0M112.7 38.91h0M121.37 38.82h0M121.43 39.69h0M131.51 22.35h0M117.06 21.45h0M97.07 47.58h0M118.34 44.88h0M104.42 38.64h0M117.8 23.03h0" stroke="#fff" stroke-width="1.3" stroke-linecap="round" fill="none" opacity="0.97"/><path d="M130.7 32.45h0M114.37 24.3h0M102.23 54.85h0M128.26 30.1h0M90.29 53.75h0M115.78 29.13h0M106.5 38.4h0M116.6 44.87h0M93.62 41.28h0M112.75 29.79h0M106.21 45.13h0M123.96 39.21h0M105.46 60.22h0M108.46 44.45h0M106.6 27.28h0M114.3 39.45h0M115.02 39.05h0M108.42 46.45h0M121.9 24.21h0M92.83 56.84h0M103.65 36.7h0M93.21 42.52h0M111.52 44.14h0M117.69 18.89h0M111.34 22.04h0M111.8 37.2h0M123.41 29.63h0M95.37 52.52h0M89.01 50.45h0M102.47 22.42h0M118.84 36.49h0M109.54 18.81h0M102.08 60.29h0M102.07 51.3h0M117.3 41.02h0M101.07 48.4h0M99.74 55.48h0M96.15 32.09h0M88.8 53.15h0M129.32 21.38h0M102.07 42.79h0M117.49 40.61h0M125.69 32.63h0M104.9 48.4h0M130.82 27.22h0M102.68 22.35h0M125.48 20.76h0M125.46 33.13h0M100.53 42.06h0M96.73 61.86h0M105.64 33.39h0M124.28 41.88h0M96.6 33.49h0M115.26 20.78h0M104.17 29.06h0M129.66 29.02h0M111.43 37.17h0M91.66 52h0M127.43 24.46h0M127.1 26.96h0M133.47 30.41h0M119.77 21.73h0M100.18 50.18h0M126 43.24h0M94.71 48.6h0M123.12 26.59h0M102.51 47.71h0M96.41 32.68h0M110.84 52.47h0M116.96 23.65h0M106.7 52.54h0M117.17 32.42h0M122.53 37.06h0M100.67 37.48h0M100.26 28.83h0M104.91 19.22h0M122.56 37.37h0M109.09 34.95h0M104.57 63.79h0M103.95 61.63h0M128.83 25.5h0M111.36 25.25h0M117.3 20.03h0M126.96 37.28h0M128.82 20.69h0M121.82 23.7h0M113.59 33.92h0M99.52 45.88h0M105.82 48.64h0M119.17 22.27h0M125.58 32.01h0M96.9 38.75h0M110.29 15.4h0M124.6 30.33h0M105.92 59.46h0M122.7 18.65h0M124.41 36.63h0M100.2 32.47h0M105.87 62.01h0M97.37 61.98h0M117.57 28.11h0M99.23 52.95h0M120.04 27.85h0M129.44 34.8h0M115.36 49.24h0M112.48 15.62h0M118.19 29.9h0M94.92 48.57h0M96.11 52.94h0M118.93 42.46h0M91.48 47.83h0M126.38 22.81h0M129.51 31.12h0M115.29 34.71h0M118.94 16.51h0M118.37 49.87h0M106.68 33.73h0M104.66 58.37h0M122.73 27.2h0M133.13 34.54h0M130.95 27.61h0M102.97 45.65h0M99.18 26.35h0M90.86 43.31h0M128.78 41.09h0M127.61 41.86h0M100.5 39.84h0M106.45 18.24h0M131.67 22.75h0M102.13 31.76h0M108.43 22.83h0M131.73 23.29h0M116.33 41.86h0M102.14 36.33h0M129.52 38.09h0M102.15 29.82h0M106.07 54.75h0M112.42 43.67h0M100.72 47.69h0M120.74 42.62h0" stroke="#0a0a0a" stroke-width="1.1" stroke-linecap="round" fill="none" opacity="1"/><path d="M39.02 60.89h0M39.56 64.03h0M41.64 63.76h0M33.49 57.53h0M36.3 53.81h0M26.66 59.68h0M40.51 67.46h0M43.19 61.31h0M42.3 59.07h0M27.7 65.25h0M30.83 67.84h0M25.86 66.46h0M36.32 66.14h0M33.33 60.28h0M32.25 56.11h0M34.94 68.65h0M32.5 60.59h0M38.99 66.73h0M40.84 62.27h0M42.78 64.47h0M40.76 55.74h0M31.62 63.86h0M31.3 56.47h0M34.31 67.42h0M39.68 56.28h0M31.74 53.36h0M31.32 60.1h0M25.93 65.91h0M37.43 62.28h0M28.33 64.15h0M24.43 64.47h0M42.6 63.55h0M43.04 57.9h0M44.22 63.61h0M33.39 68.23h0M38.03 63.97h0M32.33 54.72h0M29.27 61.37h0M39.06 58.84h0M35.34 68.81h0M42.68 62.83h0M37.63 59.34h0M28.2 55.28h0M36.5 55.53h0M32.98 54.59h0M39.27 58.42h0M30.56 65.43h0M30.56 58.92h0M28.32 63.7h0M32.83 54.77h0" stroke="#111" stroke-width="1.3" stroke-linecap="round" fill="none" opacity="1"/><path d="M34.08 66.24h0M43.16 58.48h0M31.65 58.93h0M39.1 64.64h0M39.94 67.35h0M26.92 55.27h0M44.08 65.82h0M25.54 67.71h0M31.81 64.01h0M33.57 66.92h0M35.86 57.47h0M38.1 55.39h0M36.85 61.72h0M30.03 60.57h0M42.31 65.22h0M24.49 59.18h0M41.75 65.37h0M42.23 58.46h0M24.83 66.43h0M30.4 56.86h0M40.08 63.74h0M33.29 67.3h0M42.86 66.9h0M24.45 60.21h0M29.92 55.2h0M38.92 64.29h0M42.62 65.31h0M32.15 54.98h0M34.79 68.63h0M27.51 63.44h0M32.61 65.85h0M35.62 54.09h0M33.87 61.13h0M32.79 64.11h0M29.88 63h0M31.07 59.62h0M31.48 62.64h0M24.88 63.6h0M27.22 64.24h0M38.61 55.2h0M32.43 60.51h0M34.06 64.43h0M33.97 69.11h0M34.16 69.33h0M26.73 63.07h0M33.43 60.08h0M31.7 65.14h0M35.7 59.87h0M29.94 66.41h0M39.27 66.78h0M37.69 58.65h0M39.62 67.08h0M30.98 62.61h0M40.12 61.12h0M30.54 63.53h0M27.36 66.18h0M25.4 64.65h0M35.82 62.29h0M38.34 64.48h0M29.18 68.69h0M36.48 64.47h0M25.37 65.51h0M38.68 57.72h0M34.85 67.9h0M26.7 62.09h0M26.88 57.88h0M32.1 68.68h0M23.63 62.29h0M27.76 61.85h0M34.22 64.93h0M40.56 66.62h0M42.86 66.99h0M39.13 59.47h0M31.41 69.25h0M29.69 65.53h0M37.83 62.52h0M42.32 57.17h0M35.98 56.13h0M27.88 62.47h0M35.27 62.18h0M35.28 58.08h0M29 54.27h0M37.02 68.71h0M41.84 55.98h0M41.08 58.35h0M34.12 64.12h0M40.61 60.7h0M33.66 58.02h0M30.51 56.05h0M32.03 55.18h0M30.52 65.38h0M41.84 60.71h0M41.22 65.15h0M23.05 60.4h0M26.96 55.52h0M32.08 60.69h0M39.11 54.76h0M41.02 59.06h0M34.71 67.08h0M42.97 57.44h0" stroke="#fff" stroke-width="1.25" stroke-linecap="round" fill="none" opacity="1"/><path d="M30.02 54.24h0M28.47 56.39h0M28.57 67.52h0M34.64 69.02h0M44.54 63.67h0M33.29 58.97h0M40.22 62.4h0M35.87 61.71h0M34.94 66.52h0M32.37 55.97h0M41.09 55.13h0M26.91 63.07h0M29.72 68.28h0M27.5 59.14h0M24.41 64.96h0M34.06 58.97h0M27.98 60.98h0M30.28 68.16h0M26.63 63.16h0M40.15 55.5h0M27.47 66.04h0M34.08 59.94h0M40.84 60.67h0M37.54 55.96h0M35.25 56.79h0M39.92 54.83h0M36.55 63.91h0M24.54 61.51h0M39.77 58.25h0M23.78 61.91h0" stroke="#111" stroke-width="1" stroke-linecap="round" fill="none" opacity="1"/><ellipse cx="112.9" cy="45.8" rx="3" ry="1.9" fill="#0a0a0a" transform="rotate(25 112.9 45.8)"/><ellipse cx="81.3" cy="75.8" rx="1.2" ry="0.8" fill="#fff"/></svg>
<svg x="361" y="114.2" width="159.7" height="95.5" viewBox="0 0 159.7 95.5" overflow="hidden"><rect width="159.7" height="95.5" fill="#000"/><path d="M28.8 2.16h0M120.39 35.92h0M14.72 53.39h0M90.65 72.43h0M57.34 32.54h0M17.44 63.65h0M112.56 42.92h0M151.02 12.06h0M89.04 53.32h0M19.63 93.69h0M117.33 85.3h0M49.62 30.14h0M128.02 0.2h0M141.64 14.77h0M144.33 74.76h0M114.24 71.01h0M133.21 72.01h0M128.57 53.75h0M99.25 41.52h0M37.47 59.79h0M13.84 88.37h0M115.23 51.29h0M128.36 19.09h0M26.05 89.35h0M125.19 47.01h0M14.86 66.06h0M152.46 1.85h0M130.78 76.29h0M146.57 91.88h0M8.58 60.28h0" stroke="#1e1e1e" stroke-width="0.9" stroke-linecap="round" fill="none" opacity="1"/><polygon points="110.06,15.01 113.39,13.86 115.98,13.67 118.16,15.33 122,16.19 123.3,18.17 127.79,17.62 129.53,19.15 131.13,21.31 131.51,23.08 132.84,24.46 134.09,26.02 133.62,30.09 135.17,32.84 133.67,35 134.37,37.6 130.89,37.3 130.99,41.48 129.04,42.85 127.49,43.8 125.74,45.38 123.29,48.35 122.39,48.12 119.45,49.39 118.18,50.66 115.83,53.8 114.94,54.95 111.95,56.41 111.09,58.36 109.1,60.61 107.66,62.14 105.06,63.27 103.29,65.7 101.77,65.16 101.79,65.36 99.37,64.45 96.98,62.09 96.56,64.28 95.68,62.49 92.48,58.37 91.25,56.34 86.96,56.53 89.23,55.84 89.12,54.88 87.98,52.06 87.9,50.01 88.45,50.15 89.8,46.54 89.84,46.18 89.32,41.65 92.08,40.32 91.19,39.82 93.2,38.15 93.06,35.92 94.18,31.99 95.85,30.36 97.82,26.94 99.48,24.74 100.38,23.29 101.7,20.87 102.6,20.88 103.4,18.68 105.86,16.43 106.71,15.81" fill="#484848"/><polygon points="44.87,62.04 45.1,62 44.71,64.44 45.44,64.79 45.46,66.19 43.34,67.24 41.68,67.75 40.31,68.66 39.93,68.73 38.75,68.74 36.98,69.33 34.58,69.96 34.92,71.44 32.58,69.83 32.17,68.77 30.61,68.16 27.56,68.66 26.58,68.89 24.82,67.62 24.07,67.02 23.7,66.59 22.89,65.23 22.4,62.93 21.26,62.87 21.77,60.93 23.17,59.94 23.12,58.39 24.24,58.69 23.88,56.62 26.17,56.03 26,55.13 27.48,55.1 27.29,53.48 29.62,53.9 30.96,53.65 32.85,53.53 35.44,52.81 35.26,52.39 37.35,53.54 38.25,52.95 40.73,54.25 41.06,53.68 41.64,55.41 43.24,56.23 43.55,55.84 43.45,57.86 44.14,58.77 44.58,60.93" fill="#2c2c2c"/><path d="M111.29 24.36h0M106.32 29.98h0M128.37 41.9h0M103.24 44.61h0M105.43 43.07h0M103.86 55.18h0M130.25 38.34h0M97.91 41.06h0M116.96 47.02h0M116.86 41.99h0M93.49 54.75h0M130.51 28.15h0M102.75 28.81h0M95.64 44.49h0M119.16 16.32h0M125.34 32.81h0M122.34 41.96h0M95.59 48.18h0M89.44 55.33h0M111.25 38.06h0M95.28 43.28h0M92.61 58.89h0M112.53 30.72h0M114.89 16.38h0M126.99 31.82h0M94.24 53.67h0M117.69 51.28h0M121.69 23.83h0M103.74 59.65h0M96.01 32.7h0M111.7 27.93h0M130.27 33.34h0M99.06 35.33h0M105.83 46.25h0M121.32 41.91h0M125.61 34.71h0M115.05 30.18h0M126.09 28.48h0M115.28 19.61h0M125.66 42.17h0M99.98 49.37h0M102.81 45.79h0M95.59 32.95h0M96.33 61.3h0M108.08 22.41h0M127.8 41.78h0M129.39 23.83h0M104.36 61.03h0M105.35 40.43h0M118.23 17.86h0M120.38 46.72h0M106.54 28.89h0M100.47 39.06h0M113.87 18.52h0M101.71 38.41h0M97.56 50.43h0M99.87 39.88h0M130.91 36.93h0M95.11 48.58h0M117.43 33.07h0M103.85 29.35h0M105.96 54.91h0M113.61 40.91h0M108.83 17.61h0M127.52 28.34h0M99.04 50.62h0M94.54 52.99h0M111.17 29.82h0M89.41 49.44h0M107.77 24.36h0M117.22 43.14h0M103.06 61.27h0M114.69 31.96h0M128.25 39.64h0M101.86 27.07h0M109.62 36.55h0M129.43 34.78h0M104.32 21.17h0M108.92 31.02h0M113.87 46.12h0M117.35 18.74h0M107.48 59.09h0M113.23 18.84h0M110.4 22.05h0M93.14 52.04h0M92.58 55.49h0M115.22 19.21h0M112.97 28.87h0M115.52 37.53h0M99.68 43.84h0M131.99 29h0M96.08 39.77h0M122.58 37.58h0M115.18 40.98h0M96.86 55.27h0M112.24 27.15h0M101.38 40h0M104.57 38.85h0M103.2 31.77h0M108.12 57.09h0M118.7 25.19h0M108.55 29.76h0M95.48 47.7h0M103.98 35.41h0M121.79 25.68h0M116.06 38.6h0M106.95 32.49h0M112.21 33.56h0M119.66 40.71h0M111.08 39.73h0M95.88 46.23h0M114.01 29.9h0M129.43 28.88h0M106.84 47.11h0M92.9 52.28h0M113.13 16.44h0M118.94 19.29h0M113.46 33.52h0M93.47 43.3h0M103.08 60.98h0M104.65 52.01h0M96.21 55.27h0M107.26 23.35h0M108 26.3h0M114.68 16.45h0M94.97 38.94h0M105.58 21.51h0M127.71 28.81h0M114.25 45.57h0M108.82 36.39h0M120.41 30.19h0M109.56 22.67h0M127.35 34.63h0M125.43 22.87h0M126.62 37.2h0M118.12 43.88h0M132.74 34.18h0M119.97 33.89h0M117.34 23.71h0M94.48 50.34h0M109.41 22.27h0M101.82 47h0M107.51 39.38h0M95.1 37.11h0M109.4 17.1h0M123.84 26.27h0M120.26 48.98h0M108.62 17.06h0M130.32 32.86h0M105.68 38.64h0M95.53 39.04h0M93.63 53.13h0M118.91 30.38h0M108.19 39.91h0M121.67 35.5h0M111.45 44.17h0M103.82 47.87h0M104.3 55.51h0M88.82 52.28h0M99.17 63.08h0M106.13 61.58h0M126 43.35h0M102.26 38.92h0M98.62 39.54h0M106.65 26.01h0M94.1 55.89h0M113.91 26.97h0M127.34 23.62h0M111.13 50.81h0M109.02 48.03h0M97.01 31.1h0M103.37 40.48h0M134.37 29.44h0M95.97 59.86h0M132.78 29.17h0M105.01 48.14h0M106.42 35.15h0M122.08 20.96h0M128.42 29.16h0M96.81 37.61h0M117.3 28.49h0M111.73 52.73h0M104.99 33.23h0M96.04 38.84h0M97.81 33.07h0M94.98 41.4h0M120.64 46.02h0M105.76 45.44h0M104.73 63.61h0M125.09 31.56h0M107.64 33.67h0M123.46 20.28h0M96.4 44.58h0M118.68 18.24h0M99.61 53.22h0M100.84 32.55h0M132.77 31.16h0M106.08 58.76h0M95.72 42.59h0M109.75 52.07h0M99.07 55.28h0M99.29 27.47h0M99.98 25.96h0M111.73 55.19h0M115.34 22.17h0M132.36 33.29h0M98.15 33.86h0M102.28 36.55h0M124.29 41.64h0M126.99 30.93h0M134.07 31.08h0M109.99 49.56h0M114.08 52.8h0M107.32 20.95h0M125.7 24.75h0M110.62 28.01h0M131.42 25.17h0M109.68 56.5h0M125.91 34.49h0M111.85 56.13h0M113.62 32.68h0M107.66 48.06h0M109.42 45.17h0M127.94 21.24h0M99.61 53.68h0M88.24 53.72h0M100.65 46.66h0M95.71 58.7h0M93.99 41.37h0M102.37 36.15h0M112.76 50.9h0M119.8 19.98h0M123.69 40.04h0M125.32 33.01h0M110.25 24.95h0M102.78 61.32h0M111.42 55.94h0M98.95 37.43h0M104.87 29.72h0M118.26 37.65h0M92.38 46.46h0M100.94 44.75h0M118.02 28.41h0M121.38 16.91h0M109.46 54.38h0M95.92 33.21h0M120.14 32.59h0M126.83 28.91h0M115.87 27.84h0M108.09 55.92h0M110.9 45.44h0M93.21 36.72h0M131.4 38.44h0M122.77 33.85h0M121.96 20.02h0M106.6 53.39h0M95.96 58.24h0M95.7 59.72h0M123.71 24.89h0M108.59 34.02h0M99.86 32.35h0M115.17 50.74h0M111.87 23.18h0M103.22 45.59h0M115.54 17.4h0M108.08 48.29h0M93.19 40.06h0M109.63 50.52h0M102.97 34.03h0M93.44 54.77h0M125.7 35.7h0M108.24 51.57h0M122.48 38.61h0M111.48 21.16h0M123.44 35.72h0M93.82 50.74h0M103.12 53.45h0M121.5 22.13h0M123.37 20.5h0M90.51 48.34h0M107.22 37.03h0M90.94 51.24h0M109.46 40.53h0M114.18 28.56h0M127.19 29.14h0M115.71 31.63h0M123.54 24.33h0M100.48 43.37h0M104.95 34.02h0M120.11 25.07h0M111.04 54.47h0M96.95 61.48h0M111.54 19.09h0M98.34 57.37h0M99.18 36.12h0M95.25 51.46h0M91.06 45.92h0M96.06 45.92h0M124.64 41.33h0M108.9 45.11h0M129.14 31.4h0M117.07 26.13h0M121.66 32.69h0M116.43 40.65h0M107.97 38.12h0M92.48 53.6h0M100.96 52.38h0M111.32 25.06h0M103.88 52.16h0M107.14 30.49h0M118.28 34.67h0M113.23 53.57h0M109.54 38.35h0M117.71 23.81h0M96.46 59.8h0M118.7 31.22h0M118.81 23.53h0M105.16 29.61h0M99.13 50.09h0M110.18 26.59h0M94.74 37h0M123.09 41.5h0M124.36 33.53h0M96.84 38.42h0M105.12 34.59h0M112.47 31.01h0M108.86 28.95h0M99.81 47.82h0M121.54 29.14h0M108.24 59.55h0" stroke="#0c0c0c" stroke-width="1.5" stroke-linecap="round" fill="none" opacity="1"/><path d="M100.04 61.92h0M102.27 27.56h0M121.12 44.06h0M96.56 60.92h0M104.52 19.81h0M120.97 29.02h0M123.79 31.23h0M92.31 57.59h0M120.04 49.53h0M106.25 36.34h0M105.02 55.74h0M126.78 26.53h0M104.29 63.76h0M95.9 56.5h0M91.6 48.48h0M114.91 54.15h0M130 37.3h0M98.1 45.76h0M116.13 39.2h0M118.79 30.02h0M100.4 46.87h0M102.96 54.43h0M128.89 24.05h0M118.16 31.11h0M94.19 36.78h0M98.35 33.2h0M116.16 23.51h0M124.92 45.62h0M113.1 45.27h0M112.69 34.9h0M109.41 46.84h0M107.97 20.58h0M110.16 41.48h0M94.3 36.94h0M121.66 31.88h0M109.59 48.23h0M100.09 51.92h0M120.52 26.93h0M98.94 49.38h0M122.83 45.47h0M99.85 35.74h0M121.54 19.9h0M126 21.4h0M98.11 38.99h0M108.62 30.77h0M131.76 36.38h0M99.68 37.79h0M99.76 28.27h0M110.42 36.86h0M117.3 37.9h0M122.3 23.21h0M107.26 52.69h0M92.06 44.64h0M122.06 34.21h0M116.9 30.39h0M114.85 18.13h0M129.89 23.61h0M96.94 48h0M104.33 41.85h0M100.97 32.94h0M129.71 29.18h0M116.88 19.75h0M127.03 37.09h0M108.19 36.62h0M103.07 38.56h0M101.16 28.05h0M129.55 28.06h0M115.81 18.97h0M101.74 28.06h0M114.17 19.79h0M96.79 44.43h0M112.58 23.49h0M112.77 35.44h0M117.47 37.72h0M98.85 60.44h0M96 54.71h0M110.58 22.62h0M103.35 43.81h0M104.28 44.25h0M120.6 28.24h0M124.59 24.33h0M97.7 59.05h0M113.2 25.09h0M101.78 62.92h0M122.23 28.75h0M107.3 27.55h0M113.33 15.9h0M125.15 20.47h0M119.78 42.3h0M128.62 28.55h0M110.26 56.43h0M95.72 43.81h0M108.89 51.04h0M126.01 41.58h0M117.75 39.73h0M111.64 47.36h0M119.09 50.45h0M103.24 33.11h0M96.68 38.71h0M115.32 19.6h0M112.19 22.99h0M106.8 38.92h0M95.32 51.36h0M110.19 32.05h0M116.68 29.39h0M103.87 44.35h0M95.86 47.68h0M122.43 42.46h0M123.64 18.46h0M102.13 24.41h0M98.52 61.17h0M122.56 38.38h0M124.71 28.48h0M109.45 39.16h0M131.79 37.7h0M122.19 36.7h0M94.31 44.78h0M118.74 46.91h0M118.09 48.08h0M118.42 50.91h0M122.57 23.18h0M101.34 53.73h0M128.26 39.56h0M115.48 39.39h0M123.63 46.3h0M91.73 47.5h0M104.43 33.77h0M103.49 36.47h0M99.38 54.75h0M120.69 35.08h0M124.66 36.78h0M97.11 42.63h0M115.96 44.39h0M126.65 33.69h0M92.07 51.31h0M106.32 48.38h0M129.71 39.16h0M90.76 54.99h0M131.1 29.87h0M108.9 23.9h0M95.56 41.44h0M100.39 24.97h0M125.05 20.69h0M99.78 37.53h0M126.67 40.59h0M98.15 63.08h0M117.21 34.55h0M120.46 38.47h0M97.71 30.12h0M99.38 56.23h0M117.21 30.69h0M109.76 41.81h0M104.21 55.02h0M95.79 32.82h0M119.11 43.13h0M116.01 18.98h0M92.11 48.96h0M114.47 32.81h0M116.11 32.27h0M118.59 29.64h0M106.16 54.33h0M109 22.32h0M94.57 39.75h0M129.18 33.61h0M105.55 29.77h0M100.28 47.7h0M116.8 48.38h0M102.89 59.32h0M106.08 33.92h0M107.44 59.73h0M112.84 50.89h0M118.04 31.46h0M117.98 16.59h0M99.81 45.56h0M118.98 33.09h0M104.97 32.02h0M104.33 32.42h0M103.65 25.68h0M104.33 40.92h0M115.17 33.19h0M90.09 50.04h0M123.88 18.36h0M115.13 24.24h0M94.05 41.89h0M123.47 44.99h0M116.88 35.43h0M122.74 38.62h0M130.04 29.73h0M98.27 33.98h0M123.74 45.93h0M110.48 24.08h0M97.89 30.08h0M127.6 32.61h0M115.32 53.67h0M114.95 20.41h0M119.96 19.03h0M114.08 29.13h0M124.18 20.06h0M125.54 42.44h0M99.12 37.43h0M125.96 31.85h0M101.86 48.78h0M100.87 31.86h0M107.07 43.84h0M128.77 20.41h0M117.11 22.3h0M120.06 49.51h0M127.89 23.31h0M92.34 44.97h0M102.68 26.58h0M101.6 37.27h0M123.05 38.22h0M101.93 63.39h0M109.96 46.66h0M95.99 47.7h0M100.1 25.65h0M92.72 46.14h0M94.23 40.15h0M97.55 32.67h0M128.96 25.33h0M109.1 46.73h0M113.39 22.08h0M109.4 17.84h0M102.14 45.49h0M105.71 51.84h0M131.99 31.56h0M123.28 18.17h0M111.82 56.24h0M117.47 43.63h0M91.59 42.87h0M126.25 23.11h0M104.31 43.74h0M106.77 48.55h0M119.52 44.48h0M96.38 36.67h0M105.24 52.48h0M106.8 27.83h0M91.38 47.47h0M107.23 45.82h0M100.58 55.71h0M111.88 33.08h0M114.28 33.43h0M104.85 36.01h0M111.19 26.89h0M112.3 19.36h0M117.85 27.32h0M111.61 54.46h0M102.24 32.63h0M122.95 29.84h0M125.62 18.95h0M101.16 35.42h0M112.55 42.28h0M105.73 51.78h0M98.36 50.58h0M126.07 25.43h0M110.33 22.52h0M117.77 28.76h0M115.84 16.9h0M92.5 43.71h0M111.45 35.13h0" stroke="#c4c4c4" stroke-width="1.2" stroke-linecap="round" fill="none" opacity="1"/><path d="M131.25 36.56h0M105.66 21.73h0M108.76 32.35h0M99.6 43.12h0M121.8 17.47h0M117.43 39.59h0M118.33 16.11h0M113.82 39.5h0M102.13 52.18h0M130.9 35.77h0M113.79 15.93h0M105.88 55.72h0M116.56 52.48h0M105.9 29.58h0M122.78 33.74h0M129.7 34.01h0M114.74 18.92h0M99.19 54.35h0M106.48 26.07h0M98.58 42.14h0M91.4 47.84h0M113.55 26.51h0M105.18 46.19h0M111.42 45.68h0M90.09 56.15h0M117.13 20.75h0M111.99 29.82h0M106.27 40.05h0M108.6 35.29h0M118.08 18.22h0M95.62 33.22h0M107.61 24.7h0M102.87 45.52h0M96.55 41.48h0M126.27 33.14h0M128.96 29.62h0M124.58 25.51h0M91.26 44.98h0M111.11 35.66h0M100.7 55.53h0M98 50.17h0M118.8 45.5h0M117.53 33.66h0M123.25 24.7h0M112.67 48.24h0M103.73 52.83h0M97.48 36.29h0M93.62 43.22h0M127.44 35.31h0M100.59 43.57h0M128.93 24.76h0M93.93 57.7h0M115.77 25.07h0M120.9 19.87h0M114.64 51.01h0M104.83 43.27h0M107.04 38.55h0M96.74 31.71h0M133.23 27.25h0M114.17 47.78h0M98.29 53.69h0M99.29 36.99h0M107.05 40.09h0M106.35 38.19h0M100.88 46.23h0M117.67 43.5h0M96.55 30.61h0M100.08 54.83h0M110.83 20.71h0M133.12 30.88h0M92.22 52.54h0M101.26 42.08h0M124.72 33.18h0M92.86 53.6h0M100.14 25.68h0M101.94 38.88h0M109.36 37.57h0M114.41 43.01h0M110.77 38.01h0M118.16 48.46h0M133.51 30.81h0M128.55 36.66h0M96.05 38.37h0M127.29 41.1h0M101.86 57.76h0M117.76 47.39h0M106.28 43.57h0M100.76 25.35h0M105.13 37.76h0M125.04 31.61h0M116.43 37.24h0M116.56 22.55h0M96.05 36.69h0M128.02 37.84h0M101.36 44.78h0M103.69 50.65h0M114.19 32.27h0M102.11 51.24h0M97.57 55.63h0M96.13 42.54h0M112.69 42.96h0M134.4 29.53h0M98.5 33.78h0M97.52 50.82h0M116.96 45.99h0M110.55 57.6h0M132.27 29.22h0M108.24 52.4h0M98.45 61.9h0M131.17 39.33h0M106.37 24.65h0M122.4 21.18h0M119.26 23.69h0M99.79 37.38h0M110.39 37.65h0M99.21 59.84h0M106.99 18.09h0M95.03 56.29h0M120.32 31.87h0M132.93 33.22h0M114.21 18.15h0M100.81 51.03h0M117.98 34.73h0M116.23 24.78h0M105.61 19.83h0M105.66 39.64h0M113.05 20.68h0M110.47 53.86h0M120.97 26.93h0M96.24 44.29h0M100.57 32.86h0M101.31 48.17h0M111.55 23.88h0M99.44 53.43h0M99.61 44.77h0M126.78 20.45h0M105.11 39.67h0M95.19 40.32h0M104.93 54.05h0M93.34 54.69h0M127.07 25.33h0M124.69 25.85h0M110.65 21.51h0M110.56 28.91h0M104.26 20.7h0M107.46 58.62h0M118.93 50.23h0M101.3 42.58h0M95.96 52.58h0M93.86 48.36h0M96.69 55.99h0M117.34 17.72h0M117.22 31.29h0M120.04 24.75h0M120.06 29.53h0M111.08 19.79h0M110.5 18.89h0M98.49 54.04h0M107.46 23.93h0M90.25 55.82h0M114.09 19.78h0M105.17 26.63h0M105.57 23.48h0M112.24 21.02h0M103.41 34.96h0M126.48 35.69h0M98.98 52.9h0M100.72 36.72h0M113.29 32.4h0M95.39 49.27h0M115.11 27.58h0M101.16 34.23h0M110.96 40.48h0M127.05 30.74h0M99.83 63.26h0M104.33 32.35h0M104.55 42.12h0M100.87 36.22h0M108.29 54h0M98.84 36.58h0M95.96 53.27h0M110.37 51.56h0M110.2 35.85h0M125.06 38.97h0M104.27 46.63h0M107.79 59.39h0M116.95 28.6h0M117.67 49.65h0M100.35 58.48h0M113.69 48.17h0M94.9 34h0M99.49 39.67h0M98.39 37.35h0M120.4 36.27h0M115.42 50.75h0M116.22 48.54h0M124.86 19.11h0M111.39 31.86h0M104.23 35.99h0M113.35 17.7h0M88.54 50.18h0M100.98 58.8h0M116.48 37.08h0M108.83 44.72h0M101.53 31.87h0M115.05 19.49h0M102.61 40.32h0M101.23 38.39h0M97.43 60.45h0M114.59 44.78h0M108.46 59.57h0M103.41 44.08h0M130.12 20.81h0M100.65 44.09h0M110.11 54.75h0M125.06 25.33h0M129.68 29.27h0M112.41 21.39h0M125.94 29.04h0M121.89 33.18h0M111.71 52.54h0M116.66 25.19h0M119.07 17.43h0M100.28 42.36h0M107.65 40.53h0M102.03 25.07h0M112.94 27.89h0M103.62 53.69h0M115.54 49.61h0M124.5 36.26h0M105.93 43.65h0M90 49.3h0M121.38 38.87h0M114.99 42.25h0M123.44 24.47h0M128.65 32.51h0M119.38 40.8h0M128.11 29.24h0M129.85 21.35h0M116.03 40.86h0M101.81 61.82h0M117.11 49.14h0M134.54 30.34h0M109.15 35.5h0M119.29 43.91h0M96.17 31.53h0M121.72 41.21h0M97.53 45.48h0M116.49 22.49h0M134.41 29.24h0M110.27 22.05h0M94.58 37.1h0M118.26 42.11h0M96.9 53.24h0M128.51 28.56h0M114.38 18.34h0M95.45 57.66h0M114.31 53.56h0M128.98 33.38h0M114.53 30.38h0M121.79 19.88h0M117.7 47.71h0M110.08 40.87h0M108.11 59.45h0M105.62 53.35h0M96.8 54.08h0M97.28 36.21h0M90.03 46.1h0M120.69 37.6h0M99.91 62.16h0M123.01 31.54h0M92.47 52.86h0M110.29 43.2h0M121.14 18.1h0M102.6 60.33h0M126.31 42.52h0M105.63 50.36h0M113.54 35.27h0M119.12 23.11h0M122.45 44.44h0M111.93 45.19h0M104.64 40.99h0M115.05 47.81h0M98.52 32.89h0M102.51 38.49h0M95.29 36.49h0M117.35 39.47h0M117.81 19.61h0M119.61 24.05h0M107.03 35.23h0M109.77 48.74h0M102.69 56.48h0M100.78 50.01h0M119.92 31.59h0M105.05 41.96h0M113.25 19.39h0M112.68 52.13h0M95.68 41.14h0M118.04 50.01h0M112.91 30.22h0M111.2 36.63h0M116.6 20.47h0M114.95 27.5h0M107.39 24.52h0M99.95 29.84h0M109.48 56.35h0M124.85 43.56h0M102.25 24.34h0M133.06 32.28h0M100.91 28.53h0M111.16 51.85h0M99.36 56.05h0M103.91 28.21h0M103.91 56.44h0M104.06 28.68h0M123.98 41.7h0M105.79 41.9h0M101.34 60.31h0M120.92 29.75h0M93.76 36.13h0M96.06 49.03h0M100.74 26.84h0M119.46 37.72h0M132.07 32.94h0M112.63 22.64h0M114.73 22.26h0M112.99 16.66h0M99.1 33.99h0M120.09 31.49h0M97.66 46.78h0M102.26 44.72h0M102.69 37.07h0M90.82 54.82h0M103.98 44.19h0M91.15 51.36h0M106 54.05h0M122.36 27.45h0M96.65 59.67h0M108.09 44.99h0M102.95 32.07h0M100.98 60.91h0M100.35 44.61h0M104.08 29.6h0M121.99 18.48h0M104.28 38.21h0M120.48 33.77h0M115.92 20.27h0M118.66 19.11h0M103.41 42.99h0M125.79 35.31h0M100.74 27.88h0M116.27 30.48h0M92.25 53.67h0M107.36 59.33h0M100.67 61.42h0M118.06 27.31h0M117.79 25.42h0M94.43 43.9h0M92.46 43.29h0M102.45 55.16h0M119.53 20.62h0M101.64 64.07h0M105.73 27.67h0M105.71 52.84h0M97.17 40.54h0M100.67 48.5h0M113.44 23.24h0M105.43 36.66h0M114.21 22.24h0M124.19 22.16h0M111.91 55.84h0M106.89 56h0M113.03 40.62h0M102.42 63.71h0M112.22 23.91h0M99.64 34.59h0M117.04 48.54h0M95.25 42.86h0M131.04 26.61h0M123.89 35.66h0M100.98 49.5h0M100.1 42.88h0M108.48 41.64h0M105.91 49.56h0M98.24 50.42h0M131.25 31.45h0M100.99 34.33h0M95.33 60.09h0M107.56 52.49h0M108.65 41.24h0M117.79 44.33h0M122.13 43.1h0M102.63 52.09h0M126.92 22.82h0M130.29 39.89h0M111.1 42.98h0M109.23 54.4h0M105.45 33.99h0M105.29 37.12h0M131.43 34.47h0M93.46 59.19h0M110.1 33.23h0M118.75 32.12h0M123.58 39.08h0M112.4 50.42h0M93.95 53.99h0M111.96 27h0M128.13 31.51h0M104.91 32.97h0M110.18 17.14h0M108.07 21.53h0M111.44 50.78h0M119.34 17.73h0M119.95 21.57h0M101.27 55.47h0M124.3 22.77h0M115.48 33.85h0M104.08 36.87h0M94.28 40.24h0M105.03 31.11h0M110.72 30.3h0M105.58 22.54h0M101.88 50.24h0M132.52 26.79h0M97.81 28.99h0M106.46 34.63h0M107.77 49.3h0M115.52 16.96h0M94.37 49.32h0M101.76 63.7h0M118.77 45.94h0M122.22 21.53h0M97.34 31.17h0M107.85 47.17h0M106.42 37.19h0M116.05 26.95h0M121.13 42.84h0M107.1 59.74h0M123.51 45.76h0M107.79 36.98h0M109.15 30.77h0M114.7 24.03h0M117.85 50.98h0M105.89 55.24h0M124.44 30.18h0M113.81 17.7h0M97.47 47.74h0M103.67 64.73h0M113.5 35.52h0M130.74 36.06h0M100.34 43.08h0M91.52 48.07h0M122.23 25.05h0M110.41 49.74h0M109.92 54.31h0M109.28 56.46h0M123.11 30.02h0M131.09 22.91h0M125.85 21.75h0M107.5 31.57h0M90.39 54.4h0M128.84 27.93h0M124.1 34.08h0M116.87 29.38h0M123.25 33.18h0M103.02 41.68h0M90.2 46.38h0M96.49 48.8h0M107.46 25.03h0M110.3 45.35h0M97.22 29.89h0M106.31 30.95h0M127.64 19.46h0M99.85 45.71h0M105.62 62.42h0M119.73 38h0M115.45 51.91h0M111.13 19.82h0M108.87 37.27h0M107.71 20.38h0M94.9 55.16h0M109.44 26.69h0M131.27 30.96h0M129.81 40.18h0M99.68 42.6h0M121.18 27.8h0M116.19 36.83h0M112.16 33.78h0M107.93 21.9h0M114.65 15.99h0M95.02 59.53h0M114.08 34.54h0M94.89 51.13h0M101.25 25.63h0M106.47 30.75h0M116.26 16.59h0M120.07 36.47h0M116.23 18.45h0M98.62 41.59h0M101.69 41.47h0M123.8 22.6h0M122.15 17.42h0M98.76 55.32h0M113.24 20.12h0M90.28 54.48h0M113.86 21.23h0M120.68 47.88h0M104.74 49.05h0M126.46 42.32h0M100.69 62.04h0M110.46 53.3h0M122.39 40.72h0M111.93 49.13h0M119.67 44.99h0M108.65 18.34h0M98.16 32.09h0M112.35 27.74h0M103.98 60.27h0M104.33 39.24h0M106.06 48.15h0" stroke="#fff" stroke-width="1.3" stroke-linecap="round" fill="none" opacity="0.97"/><path d="M120.93 45.44h0M92.24 55.44h0M96.87 38.8h0M99.9 39.01h0M101.91 54.17h0M114.14 24.04h0M101.38 27.1h0M106.15 61.76h0M121.36 40.86h0M102.36 53.25h0M114.34 20.01h0M107.32 45.77h0M94.47 60.35h0M100.38 57.03h0M105.6 20.57h0M96.6 38.03h0M96.03 50.05h0M113.74 26.68h0M96.28 39.21h0M100.74 32.06h0M132.23 31.34h0M125.34 27.61h0M126.79 42.46h0M91.57 48.84h0M104.3 29.02h0M95.25 50.81h0M99.71 45.83h0M103.38 25.3h0M119.84 36.34h0M130.65 24.75h0M131.73 27.24h0M101.06 58.43h0M111.31 53.51h0M130.23 33.99h0M97.44 59.44h0M97.09 31.82h0M103.24 28.77h0M91.52 41.74h0M110.96 16.95h0M100.16 54.41h0M102.9 29.16h0M130.21 26.74h0M105.77 43.77h0M112.59 17.96h0M105.32 26.73h0M108.55 28.8h0M121.35 45.22h0M106.21 18.73h0M128.83 29.7h0M133.06 29.72h0M98.73 44.38h0M123.62 22.24h0M96.19 33.46h0M94.38 38.46h0M131.04 29.61h0M125.95 34.59h0M123.26 31.84h0M121.13 38.21h0M102.11 23.9h0M105.06 35.78h0M99.92 31.58h0M95 50.46h0M115.84 46.11h0M99.6 60.13h0M99.92 44.15h0M90.41 55.7h0M122.15 45.65h0M108.3 26.84h0M125.31 35.98h0M114.32 16.47h0M104.35 34.46h0M117.79 21.95h0M101.1 49.11h0M99.32 63.49h0M103.04 53.96h0M113.92 24.37h0M93.09 51.4h0M97.01 57.06h0M113.99 39.34h0M95.95 49.43h0M100.27 45.13h0M129.25 26.98h0M92.05 44.06h0M108.22 46.39h0M128.6 40.63h0M125.86 38.93h0M118.33 29.95h0M93.64 53.38h0M123.97 26.01h0M130.12 24.18h0M123.55 27.5h0M103.55 22.88h0M92.72 57.51h0M116.48 16.45h0M126.47 30.29h0M101.76 64.03h0M108.3 51.29h0M111.33 17.37h0M112.67 45.33h0M118.1 50.91h0M106.55 45.15h0M126.2 21.28h0M106.22 24.53h0M104.57 52.01h0M107.32 54.26h0M105.8 59.07h0M120.12 41.91h0M124.97 32.53h0M127.33 32.19h0M117.9 47.48h0M102.74 64.35h0M128.34 28.38h0M96.31 31.96h0M110.73 54.6h0M128.62 21.42h0M111.86 43.64h0M126.15 19.9h0M129.58 35.81h0M126.44 38.07h0M97.25 30.95h0M112.58 44.56h0M100.27 58.82h0M117.04 33.23h0M109.13 21.57h0M115.86 16.58h0M116.07 31.22h0M106.22 39.15h0M97.32 51.91h0M103.99 45.05h0M97.19 35.36h0M96.89 48.27h0M103.39 26.01h0M123.84 31.07h0M130.29 21.49h0M90.55 49.37h0M90.33 51.4h0M103.48 49.29h0M111.64 22.11h0M129.17 20.59h0M114.61 46.64h0M121.93 22.29h0M115.77 19.14h0M112.79 18.99h0M100.58 33.56h0M104.73 47.67h0M120.4 45.9h0M121.15 45.15h0M118.66 27.7h0M108.91 19.38h0M126.87 19.59h0M108.62 30.02h0M106.36 60.62h0M106.37 31.45h0M109.22 55.64h0M119.02 43.15h0M107.94 43.35h0M116.67 49.59h0M106.03 28.47h0M121.27 31.67h0M107.04 19.06h0M103.59 26.09h0M103.24 38.83h0M116.62 40.6h0M90.54 46.74h0M110.2 21.65h0M107.57 53.28h0M93.99 45.55h0M100.41 59.1h0M117 45.74h0M117.04 42.39h0" stroke="#0a0a0a" stroke-width="1.1" stroke-linecap="round" fill="none" opacity="1"/><path d="M30.09 68.13h0M24.77 65.67h0M41.62 67.29h0M29.82 67.08h0M30.24 66.36h0M39.87 68.24h0M36.27 53.5h0M27.88 55.51h0M44.23 61.96h0M36.76 67.66h0M41.49 56.94h0M25.21 66.56h0M43.11 61.75h0M26.28 58.85h0M24.57 60.4h0M36.68 54.9h0M32.1 55.63h0M41.2 57.12h0M33.9 53.77h0M31.74 68.71h0M23.99 60.59h0M27.97 55.72h0M28.94 53.08h0M27.86 57.05h0M38.07 55.26h0M38.8 56.73h0M39.95 67.84h0M26 64.51h0M39.65 56.62h0M29.69 67.84h0M33.81 69.49h0M35.86 54.52h0M25.77 65.28h0M27.24 56.6h0M27.86 57.18h0M41.66 66.54h0M42.16 59.82h0M40.29 56.46h0M25.34 66.33h0M41.38 67.17h0M39.19 68.53h0M31.65 53.54h0M29.17 53.96h0M34.7 68.98h0M25.74 61.05h0M33.8 55.47h0M28.73 67.09h0M25.93 57.14h0M35.62 54.75h0M27.23 66.9h0M25.57 60.33h0M42.66 58.62h0M29.67 68.19h0M25.42 66.27h0M33.13 54.02h0M32.47 54.39h0M41.12 59.41h0M28.23 55.91h0M43.95 61.45h0M24.36 61.49h0M36.45 67.34h0M37.47 68.11h0M32.92 55.89h0M26.82 65.6h0M34.63 69.16h0M41.55 60.8h0M27.85 56.54h0M42.83 60.45h0M42.47 60.58h0M27.38 56.41h0M26.9 56.04h0M33.42 54.73h0M41.69 56.52h0M34.82 54.54h0M39.43 68.56h0M41.02 56.87h0M35.4 68.18h0M38.17 54.81h0M42.31 66.37h0M28.27 56.76h0M25.33 63.93h0M42.7 62.94h0M39.6 66.73h0M43.69 62.74h0M43.85 62.59h0M37.04 68.41h0M37.21 54.24h0M38.9 67.36h0M35.24 68.33h0M44.04 62.38h0M30.8 54.77h0M25.95 59.64h0M41.37 58.48h0M29.51 54.73h0M26.89 57.18h0M43.75 62.2h0M42.4 64.29h0M40.29 56.73h0M40.1 55.14h0M26.55 58.31h0M24.77 63.99h0M43.74 60.07h0M28.43 55.7h0M43.94 64.74h0M32.74 68.2h0M29.69 55.23h0M26.67 59.93h0M37.6 55.56h0M24.88 63.66h0M41.8 66.85h0M30.69 55.34h0M30.12 55.23h0M32.49 54.27h0M43.65 63.2h0M25.59 65.82h0M44.57 64.31h0M27.12 56.79h0M30.69 54.18h0M26.12 57.68h0M29.32 54.74h0" stroke="#fff" stroke-width="1.2" stroke-linecap="round" fill="none" opacity="1"/><path d="M26.86 61.17h0M33.67 63.73h0M30.42 62.59h0M40.52 66.94h0M39.05 63.26h0M23.41 65.94h0M37.61 62.46h0M25.58 62.7h0M40.11 65.92h0M38.83 55.17h0M24.6 63.93h0M37.67 60h0M42.31 65.56h0M30.5 64.49h0M41.88 56.53h0M36.6 66.51h0M44.38 64.78h0M43.94 62.1h0M35.54 60.21h0M34.78 54.88h0M26.97 64.11h0M33.3 55.01h0M42.53 56.44h0M44.29 60.02h0M25.49 64.75h0M29.52 59.31h0M26 56.52h0M30.3 58.15h0M35.41 64.75h0M40.08 61.63h0M33.29 65.61h0M32.86 63.09h0M32.46 59.04h0M38.61 67.28h0M34.6 62.02h0M44.49 65.69h0M24.32 63.04h0M38.21 57.63h0M35.86 54.68h0M43.58 58.78h0" stroke="#ddd" stroke-width="1.1" stroke-linecap="round" fill="none" opacity="1"/><path d="M34.3 63.47h0M33.39 64.57h0M37.7 58.19h0M34.16 60.55h0M28.11 55.67h0M24.13 66.36h0M33.81 55.45h0M28.58 57.96h0M42.68 61.47h0M42.1 66.23h0M35.9 56.53h0M25.53 60.48h0M27.68 61.8h0M38.05 69.06h0M38.35 62.73h0M30.17 62.92h0M36.33 54.73h0M29.73 54.21h0M26.27 62.77h0M42.92 65.22h0M27.89 64h0M36.29 69.24h0M29.62 62.72h0M29.24 57.73h0M27.39 68.26h0M26.85 64.19h0M32.17 59.13h0M38.07 62.28h0M36.87 65.68h0M34.91 56.81h0M44.4 61.29h0M32.07 55.76h0M40.15 59.24h0M32.84 60.36h0M24.01 64.37h0M34.79 65h0M24.02 60.91h0M43.42 63.88h0M32.08 53.51h0M32.36 61.48h0M34.67 59.39h0M37.55 68.19h0M44.6 62.94h0M27.97 56.42h0M26.58 63.54h0" stroke="#0c0c0c" stroke-width="1.2" stroke-linecap="round" fill="none" opacity="1"/><ellipse cx="112.9" cy="45.8" rx="2.6" ry="1.7" fill="#0a0a0a" transform="rotate(25 112.9 45.8)"/><circle cx="128" cy="77.7" r="0.7" fill="#eee"/><circle cx="100.7" cy="82.2" r="0.7" fill="#eee"/><circle cx="133.5" cy="42.5" r="0.7" fill="#eee"/></svg>
<svg x="525" y="114.2" width="160" height="95.5" viewBox="0 0 160 95.5" overflow="hidden"><rect width="160" height="95.5" fill="#1e0a80"/><rect width="159.8" height="95.5" fill="#fff" filter="url(#spk2)"/><path d="M85.28 -3.96C83.14 -2.51 81.09 3.22 78.48 8.29C75.87 13.36 72.62 20.45 69.62 26.46C66.61 32.47 63.22 38.81 60.46 44.33C57.69 49.85 55.6 54.13 53 59.58C50.41 65.03 47.82 71.08 44.89 77.04C41.96 82.99 36.71 92.11 35.43 95.31C34.14 98.52 35.13 99.08 37.17 96.29C39.22 93.49 44.3 84.27 47.71 78.56C51.11 72.85 54.52 67.24 57.6 62.02C60.67 56.8 63.25 52.75 66.14 47.27C69.04 41.79 71.99 35.13 74.98 29.14C77.98 23.15 81.4 16.24 84.12 11.31C86.85 6.38 91.13 2.11 91.32 -0.44C91.52 -2.98 87.42 -5.42 85.28 -3.96Z" fill="#1c0878"/><path d="M22.97 -4.61C20.95 -3.33 18.33 2.7 15.93 6.27C13.53 9.83 10.9 13.32 8.55 16.77C6.2 20.21 4.05 23.62 1.81 26.93C-0.44 30.23 -4.45 34.49 -4.93 36.58C-5.41 38.66 -2.92 40.51 -1.07 39.42C0.79 38.34 3.77 33.27 6.19 30.07C8.61 26.88 10.97 23.62 13.45 20.23C15.93 16.84 18.64 13.34 21.07 9.73C23.5 6.13 27.71 1 28.03 -1.39C28.35 -3.78 24.99 -5.89 22.97 -4.61Z" fill="#1c0878"/><path d="M-2.48 58.62C-2.6 59.77 -0.66 62.42 -0.28 64.3C0.1 66.18 -0.61 68.93 -0.2 69.9C0.22 70.87 1.62 71.13 2.2 70.1C2.77 69.07 3.56 65.82 3.28 63.7C2.99 61.58 1.44 58.23 0.48 57.38C-0.48 56.54 -2.35 57.46 -2.48 58.62Z" fill="#1c0878"/><path d="M160.07 48.74C157.12 49.54 150.08 54.14 144.84 57.65C139.6 61.16 133.68 65.56 128.64 69.8C123.6 74.05 118.57 78.99 114.6 83.1C110.63 87.21 105.96 92.11 104.82 94.45C103.68 96.8 105.58 98.47 107.78 97.15C109.98 95.82 113.97 90.39 118 86.5C122.03 82.61 127 77.89 131.96 73.8C136.92 69.71 142.66 65.44 147.76 61.95C152.85 58.46 160.48 55.06 162.53 52.86C164.59 50.66 163.01 47.94 160.07 48.74Z" fill="#1c0878"/><path d="M160.04 61.76C157.41 62.42 151.05 66.59 146.79 69.81C142.53 73.03 138.19 77.14 134.49 81.07C130.8 85 125.69 90.87 124.61 93.39C123.53 95.91 125.74 97.69 127.99 96.21C130.24 94.73 134.47 88.26 138.11 84.53C141.74 80.79 145.74 76.9 149.81 73.79C153.89 70.68 160.85 67.85 162.56 65.84C164.26 63.84 162.67 61.1 160.04 61.76Z" fill="#1c0878"/><path d="M159.31 80.56C157.12 81.16 152.73 86.13 150.18 88.68C147.63 91.23 144.29 94 144.02 95.85C143.76 97.69 146.84 100.24 148.58 99.75C150.31 99.26 151.97 95.37 154.42 92.92C156.87 90.47 162.48 87.1 163.29 85.04C164.11 82.98 161.49 79.95 159.31 80.56Z" fill="#1c0878"/><path d="M67.02 74.84C65.57 75.83 62.81 80.01 60.86 82.72C58.91 85.43 55.94 89.45 55.34 91.08C54.74 92.71 55.86 93.55 57.26 92.52C58.66 91.49 61.69 87.51 63.74 84.88C65.79 82.25 69.03 78.43 69.58 76.76C70.13 75.09 68.47 73.85 67.02 74.84Z" fill="#1c0878"/><path d="M144.96 0.48C145.87 2.06 150.38 3.36 153.1 4.55C155.81 5.74 159.54 8.04 161.25 7.61C162.96 7.18 164.31 3.42 163.35 1.99C162.4 0.56 158.12 0.2 155.5 -0.95C152.88 -2.09 149.4 -5.12 147.64 -4.88C145.88 -4.64 144.05 -1.09 144.96 0.48Z" fill="#1c0878"/><ellipse cx="19" cy="25" rx="2.6" ry="2.2" fill="#1c0878"/><ellipse cx="38" cy="8" rx="1.8" ry="2.4" fill="#1c0878"/><ellipse cx="7" cy="58" rx="2" ry="1.6" fill="#1c0878"/><ellipse cx="28" cy="80" rx="2" ry="1.5" fill="#1c0878"/><ellipse cx="100" cy="40" rx="2.6" ry="2" fill="#1c0878"/><ellipse cx="140" cy="62" rx="2.2" ry="1.6" fill="#1c0878"/><path d="M112 95C124 82 144 66 160 56M128 95C136 86 150 76 160 70" stroke="#8a84a0" stroke-width="0.6" fill="none" opacity="0.55"/><polygon points="110.06,15.01 113.39,13.86 115.98,13.67 118.16,15.33 122,16.19 123.3,18.17 127.79,17.62 129.53,19.15 131.13,21.31 131.51,23.08 132.84,24.46 134.09,26.02 133.62,30.09 135.17,32.84 133.67,35 134.37,37.6 130.89,37.3 130.99,41.48 129.04,42.85 127.49,43.8 125.74,45.38 123.29,48.35 122.39,48.12 119.45,49.39 118.18,50.66 115.83,53.8 114.94,54.95 111.95,56.41 111.09,58.36 109.1,60.61 107.66,62.14 105.06,63.27 103.29,65.7 101.77,65.16 101.79,65.36 99.37,64.45 96.98,62.09 96.56,64.28 95.68,62.49 92.48,58.37 91.25,56.34 86.96,56.53 89.23,55.84 89.12,54.88 87.98,52.06 87.9,50.01 88.45,50.15 89.8,46.54 89.84,46.18 89.32,41.65 92.08,40.32 91.19,39.82 93.2,38.15 93.06,35.92 94.18,31.99 95.85,30.36 97.82,26.94 99.48,24.74 100.38,23.29 101.7,20.87 102.6,20.88 103.4,18.68 105.86,16.43 106.71,15.81" fill="#f040f2" stroke="#fbd0f4" stroke-width="0.6"/><polygon points="44.87,62.04 45.1,62 44.71,64.44 45.44,64.79 45.46,66.19 43.34,67.24 41.68,67.75 40.31,68.66 39.93,68.73 38.75,68.74 36.98,69.33 34.58,69.96 34.92,71.44 32.58,69.83 32.17,68.77 30.61,68.16 27.56,68.66 26.58,68.89 24.82,67.62 24.07,67.02 23.7,66.59 22.89,65.23 22.4,62.93 21.26,62.87 21.77,60.93 23.17,59.94 23.12,58.39 24.24,58.69 23.88,56.62 26.17,56.03 26,55.13 27.48,55.1 27.29,53.48 29.62,53.9 30.96,53.65 32.85,53.53 35.44,52.81 35.26,52.39 37.35,53.54 38.25,52.95 40.73,54.25 41.06,53.68 41.64,55.41 43.24,56.23 43.55,55.84 43.45,57.86 44.14,58.77 44.58,60.93" fill="#f7c4d8" stroke="#f060e8" stroke-width="0.7"/><path d="M116.17 34.01h0M116.89 35.06h0M125.89 20.55h0M96.96 32.88h0M96.55 53.52h0M117.03 49.8h0M112.37 33.35h0M116.51 40.27h0M120.26 36.58h0M91.36 56.81h0M92.85 58.05h0M104.08 47.52h0M109.15 52.61h0M94.48 53.64h0M97.03 35.85h0M104.78 21.67h0M111.88 30.68h0M117.62 19.54h0M92.36 49.54h0M110 48.67h0M121.53 32.05h0M119.99 36.46h0M100.03 47.55h0M128.77 36.48h0M98.96 53.56h0M116.78 38.84h0M104.05 60.22h0M131.9 27.53h0M113.61 22.63h0M99.86 59.83h0M119.62 33.41h0M130.24 27.54h0M95.17 54.94h0M99.37 55h0M119.85 36.87h0M129.14 23.25h0M123.79 26.9h0M110.21 21.9h0M96.64 30.84h0M90.61 55.75h0M104.91 41.76h0M99.32 60.07h0M117.76 51.14h0M108.45 29.42h0M113.1 21.21h0M93.92 54.75h0M114.14 18h0M91.5 57.71h0M109.97 46.79h0M111.53 17.73h0M130.78 39.44h0M107.82 45.93h0M113.52 50.5h0M105.02 46.45h0M122.77 33.32h0M109.31 33.92h0M129.18 30.4h0M107.53 33.53h0M96.72 54.58h0M113.19 38.24h0M131.59 36.87h0M108.65 17.66h0M108.44 33.24h0M106.31 58.93h0M114.48 16.65h0M104.69 24.22h0M112.83 26.46h0M125.1 23.85h0M121.77 22.8h0M110.03 19.67h0M117.29 47.48h0M116.54 32.92h0M118.49 45.75h0M130.71 38.6h0M113.52 54.24h0M119.87 36.62h0M118.87 26.77h0M128.02 34.05h0M106.68 19.28h0M124.13 30.57h0M98.62 33.81h0M108.84 20.6h0M93.9 38.87h0M107.51 43.48h0M102.75 63.86h0M104.7 29.79h0M96.48 32.37h0M95.34 47.49h0M103.96 47.57h0M108.83 52.19h0M111.97 48.24h0M110.94 39.05h0M100.33 33.91h0M114.23 40.78h0M110.16 36.76h0M91.09 44.19h0M103.96 59.84h0M121.63 44.57h0M94.72 34.28h0M89.14 51.48h0M119.48 21.21h0M97.52 39.08h0M127.15 36.39h0M107.38 59.1h0M93.3 53.77h0M113.32 47.46h0M128.04 34.56h0M105.43 29.74h0M111.81 20.15h0M120.5 34.94h0M97.01 34.84h0M95.38 61.04h0M105.66 51.73h0M109.48 48.32h0M98.42 59.65h0M92.54 42.57h0M96.08 32.33h0M119.89 22.27h0M93.11 45.07h0M118.39 30.62h0M110.43 51.21h0M105.2 50.24h0M104.46 31.63h0M98.11 38.79h0M90.46 53.73h0M123.56 25.51h0M94.05 47.43h0M117.13 40.3h0M97.38 37.83h0M90.82 56.95h0M112.78 53.64h0M108.3 22.69h0M103.9 54.29h0M102.69 48.16h0M92.49 55.04h0M114.35 21.01h0M104.92 58.95h0M125.91 24.02h0M111.79 49.93h0M113.7 39.55h0M96.32 56.64h0M101.03 34.55h0M100.06 25.01h0M109.28 36.26h0M119.26 34.39h0M96.21 55.33h0M116.32 31.72h0M98.38 35.6h0M97.23 48.52h0M126.43 24.03h0" stroke="#3414b0" stroke-width="1.3" stroke-linecap="round" fill="none" opacity="1"/><path d="M110.1 50.7h0M96.69 48.74h0M104.44 61.26h0M105.02 58.36h0M118.14 46.62h0M110.23 48.32h0M103.74 61.81h0M108.85 43.48h0M107.93 55.82h0M92.97 52.54h0M97.38 47.18h0M105.11 55.98h0M114.96 47.57h0M92.47 53.07h0M99.67 61.45h0M113.78 55.04h0M89.99 55.5h0M91.72 42.58h0M96.39 61.55h0M97.47 41.18h0M117.08 51.63h0M93.91 48.07h0M111.35 45.33h0M95.67 40.37h0M92.29 43.99h0M99.93 58.71h0M109.17 57.26h0M94.72 51.73h0M96.13 34.05h0M91.56 56.31h0M105.76 54.79h0M103.77 45.32h0M99.15 42.92h0M96.49 44.96h0M109.65 42.78h0M96.49 60.7h0M96.53 55.35h0M94.28 48.58h0M98.93 42.25h0M91.52 40.84h0M117.74 48.58h0M108.76 56.44h0M94.91 44.61h0M91.64 56.65h0M96.04 48.84h0M108.66 44.44h0M93.12 46.96h0M101.05 47.71h0M94.16 58.83h0M114.19 51.2h0M96.51 56.52h0M94.13 43.53h0M118.03 51.54h0M104.24 58.66h0M103.92 56.19h0M109.66 45.88h0M119.29 47.53h0M104.63 61.77h0M103.31 62.56h0M91.33 42.63h0M98.06 57.98h0M101.67 41.94h0M104.01 45.52h0M111.33 45.62h0M110.7 49.18h0M106.4 42.04h0M110.49 52.93h0M95.77 55.61h0M90.57 52.33h0M108.28 54.96h0M108.44 59.07h0M96.84 41.36h0M100.38 41.13h0M105.42 43.85h0M117.35 49.44h0M109.28 52.42h0M106.66 47.1h0M104.81 50.65h0M93.17 43.63h0M100.98 41.7h0M103.78 62.33h0M111.89 46.47h0M99.73 36.32h0M95.32 35.21h0M88.97 51.2h0M103.86 63.31h0M102.27 41.82h0M112.42 54.3h0M112.64 48.72h0M107.54 53.03h0M113.3 52.49h0M98.86 52.94h0M107.82 53.5h0M94.89 54.33h0M107.5 60.57h0M102.62 48.84h0M104.66 52.27h0M94.21 59.66h0M100.37 46.93h0M110.86 50.59h0M109.49 47h0M108.84 47.86h0M94.91 56.33h0M109.01 43.67h0M104.21 47.63h0M113.13 46.24h0M113.7 46.04h0M104.92 60.86h0M96.06 50.53h0M100.59 44.12h0M99.52 46.91h0M96.15 53.03h0M106.33 59.43h0M110.89 51.87h0M113.43 54.18h0M94.2 39.7h0M99.66 63.66h0M104.08 50.18h0M114.3 46.06h0M90.24 46.78h0M93.85 45.02h0M114.24 46.58h0M106.7 39.53h0M104.57 51.03h0M100.87 63.41h0M91.1 51.64h0M115.33 48.15h0M104.87 39.53h0M105.87 46.37h0M111.8 50.21h0M101.76 56.97h0M107.14 59.56h0M98.04 39.34h0M101.46 36.46h0M99 45.96h0M93.33 55.36h0M98.67 55.94h0M102.06 54.26h0M95.26 39.34h0M100.16 46.42h0M94.81 49.55h0M102.24 51.28h0M102.95 62h0M106.94 52.38h0M105.72 43.31h0M92.66 56.43h0M98.81 47.66h0M96.25 60.08h0M106.24 45.45h0M98.79 60.05h0M101.52 42.91h0M104.84 40.02h0M91.83 40.02h0M101.66 55.01h0M96.97 40.65h0M103.74 40.33h0M95.65 53.93h0M119.64 50.14h0M97.81 58.33h0M91.16 56.64h0M117.89 48.39h0M117.41 46.91h0M104.15 63.44h0M105.84 61.91h0M96.88 36.92h0M106.2 41.57h0M102.23 57.15h0M95.09 52.77h0M99.22 59.66h0M115.79 45.82h0M103.49 63.4h0M111.94 55.13h0M98.46 34.7h0M101.15 54.87h0M98.37 39.29h0M107.97 44.54h0M95.43 35.25h0M97.1 42.73h0M92.58 45.42h0M111.39 50.84h0M96.57 38.56h0M110.92 44.22h0M98.88 41.8h0M106.75 52.43h0M92.54 53.45h0M105.22 42.39h0M100.55 55.2h0M98.91 38.65h0M104.66 57.68h0M107.89 41.96h0M94.57 56.71h0M97.03 55.49h0M101.01 55.48h0M100.13 56.34h0M116.77 51.14h0M96.29 61.77h0M114.62 51.37h0M99.65 56.74h0M99.07 44.11h0M119.01 48.15h0M92.26 50.99h0M96.56 36.49h0M101.27 58.29h0M109.05 55.27h0M108.09 59.73h0M109.6 43.45h0M95.33 57.31h0M95.31 51.68h0M99.48 39.09h0M97.18 39.83h0M107.46 44.81h0M92.12 39.73h0M98.18 38.17h0M104.25 45.12h0M98.62 48.38h0M112.78 48.63h0M99.29 57.98h0M93.04 45.92h0M96.78 51.83h0M108.08 50.18h0M95.6 37.23h0M103.55 43.66h0M104.07 38.56h0M112.72 48.69h0M103.49 63.98h0M103.92 48.15h0M103.09 45.08h0M96.85 54.48h0M110.99 54.99h0M107.72 45.34h0M110.31 41.95h0M99.69 54.83h0M101.05 63.89h0M116.16 45.84h0M96.92 39.41h0M93.23 56.89h0M92.71 57.1h0M105.67 51.57h0M115.02 48.02h0M91.47 41.06h0M91.26 53.99h0M113.89 52.59h0M98.49 45.64h0M99.45 47.76h0M96.14 54.59h0M107.35 53.58h0M102.64 60.91h0M110.94 47.24h0M105.86 46.05h0M95.27 49.96h0M98.82 49.17h0M89.75 53.98h0M112.09 52.25h0M116.33 46.52h0M92.19 48.4h0M116.64 51.88h0M97.55 61.88h0M99.1 49.48h0M93.75 57.48h0M115.01 52.56h0" stroke="#fff6d8" stroke-width="1.5" stroke-linecap="round" fill="none" opacity="1"/><path d="M122.03 33.18h0M123.92 31.7h0M121.6 35.92h0M114.81 41.78h0M129.5 27.87h0M130.28 22.25h0M123.61 31.81h0M125.89 27.78h0M108.47 29.1h0M121.77 36.43h0M101.3 34.95h0M96.33 31.97h0M101.93 35.86h0M103.23 26.16h0M119.56 25.28h0M98.8 32.23h0M131.04 24.27h0M112.19 34.36h0M126.24 33.55h0M128.32 32.12h0M119.98 25.79h0M108.47 38.33h0M102.66 29.05h0M113.57 33.22h0M125.85 23.73h0M131.26 24.17h0M117.32 30.1h0M107.43 18.53h0M99.15 26.26h0M130.67 26.94h0M110.38 22.98h0M111.97 19.62h0M99.53 32.3h0M113.4 19.3h0M132.18 36.34h0M118.43 41.08h0M117.97 32.56h0M105.99 30.74h0M130.97 22.33h0M122.87 33.81h0M102.6 29.78h0M107.73 29.92h0M111.98 38.21h0M121.01 26.96h0M125.11 34.02h0M117.12 18.07h0M131.5 23.58h0M110.26 39.3h0M115.26 28.61h0M133.52 27.59h0M123.83 36.58h0M129.78 30.31h0M118.66 42.69h0M100.02 31.67h0M109.69 18.83h0M109.18 40.1h0M133 33.28h0M103.13 26.32h0M122.96 46.42h0M113.88 24.28h0M114.2 42.26h0M114.89 21.63h0M106.97 29.1h0M118.67 22.42h0M100.59 27.84h0M107.45 33.64h0M118.84 25.4h0M121.4 29.64h0M112.26 36.49h0M121.74 36.91h0M117.66 18.29h0M118.9 35.83h0M103.22 31.52h0M126.18 33.08h0M116.83 26.69h0M132.17 33.79h0M121.12 39.81h0M109.87 24.77h0M114.03 41.87h0M117.47 35.95h0M116.95 29.39h0M114.9 15.9h0M112 38.3h0M101.76 29.81h0M110.78 29.34h0M105.88 22.43h0M117.24 34.87h0M98.62 31.62h0M125.32 38.46h0M121.99 37.95h0M104.33 30.76h0M112.86 28.62h0M124.98 22.16h0M130.66 37.24h0M112.55 37.04h0M129.49 32.37h0M105.26 34.98h0M112.39 33.66h0M107.48 17.25h0M113.78 34.84h0M123.88 31.18h0M129.59 24.94h0M108.56 27.11h0M109.03 20.99h0M120.49 46.56h0M104.78 21.09h0M105.51 27.5h0M131.14 29.85h0M120.87 29.13h0M123.87 43.21h0M106.8 21.72h0M105 23.69h0M98.6 29.84h0M119.91 44.72h0M120.12 43.07h0M121.15 23.75h0M115.97 44.21h0M100.07 28.75h0M98.75 33.55h0M120.53 19.74h0M124.05 36.52h0M121.53 28.92h0M126.47 29.34h0M107.12 21.25h0M98.54 33.22h0M116.09 44.73h0M113.66 17.91h0M110.94 17.15h0M123.54 37.09h0M111.3 27.3h0M100.3 25.89h0M123.1 19.43h0M119.58 30.13h0M113.79 21.99h0M105.67 27.67h0M105.04 35.19h0M120.67 24.03h0M126.82 34.55h0M118.1 44.37h0M123.05 19.24h0M107.45 20.8h0M115.01 21.75h0M112.63 20.1h0M97.13 31.77h0M104.68 23.59h0M133.2 26.75h0M102.38 33.59h0M114.37 28.84h0M114.78 28.83h0M122.56 43.67h0M126.05 26.03h0M101.15 31.5h0M120.52 20.26h0M118.5 26.18h0M117.24 24.54h0M111.04 34.02h0M123.18 45.49h0M115.7 22.63h0M107.48 18.14h0M111.09 31.99h0M101.99 29.41h0M126.73 31.11h0M111.45 36.84h0M131.17 34.63h0M122.88 20.95h0M130.35 30.96h0M125.36 40.54h0M128.18 34.59h0M122.15 18.47h0M132.56 30.34h0M131.9 32.11h0M112.52 25.13h0M129.41 26.88h0M102.62 28.37h0M123.17 20.74h0M103.39 36.93h0M118.09 29.24h0M107.24 21.75h0M125.68 30.3h0M125.46 28.75h0M132.58 31.26h0M106.32 37.69h0M106.09 22.5h0M119.73 41.67h0M104 22.66h0M120.73 17.2h0M112.84 16.78h0M119.81 47.23h0M127.41 20.88h0M105.3 26.16h0" stroke="#fff0f0" stroke-width="1.3" stroke-linecap="round" fill="none" opacity="1"/><path d="M93.73 36.59h0M124.9 19.11h0M123.47 46.32h0M123.19 38.17h0M94.5 49.31h0M117.28 43.63h0M94.35 46h0M107.05 32.17h0M122.87 18.25h0M109.35 45.48h0M109.68 23.57h0M104.1 60.43h0M120.44 16.8h0M125.19 21.27h0M94.13 43.9h0M125.08 42.41h0M94.38 48.78h0M117.92 49.16h0M124.4 18.51h0M104.21 24.72h0M127.49 35.2h0M111.02 49.28h0M127.43 41.79h0M118.65 28.66h0M119.63 27.55h0M94.2 37.01h0M108.6 25.67h0M100.68 54.37h0M92.28 42.73h0M103.31 23.37h0M113.43 21.9h0M115.97 34.59h0M104.2 57.27h0M101.76 51.42h0M99.76 27.39h0M107.07 44.03h0M121.87 40.6h0M124.7 31.41h0M114.66 19.12h0M103.01 60.2h0M95.28 56.56h0M112.29 48.66h0M98.57 46.79h0M123.62 40.93h0M94.67 43.91h0M117.97 38.98h0M113.07 16.55h0M117.03 45.25h0M105.15 40.52h0M96.93 40.2h0M99.76 36.05h0M110.96 51.25h0M107.43 42.62h0M112.58 51.95h0M107.02 59.19h0M130.55 21.36h0M104.12 38.6h0M103.79 38.79h0M98.82 35.96h0M118.83 38.49h0M98.46 59.47h0M122.37 26.92h0M95.58 42.62h0M117.77 45.57h0M130.19 34.97h0M130.92 34.09h0M120.88 47.19h0M111.64 41.05h0M116.38 19.75h0M129.61 38.53h0M123.04 46.34h0M100.33 50.35h0M97.45 42.18h0M112.73 53.97h0M115.28 16.46h0M114.4 21.06h0M107.99 52.45h0M102.31 62.6h0M110.95 31.44h0M101.91 28.1h0M121.34 45.4h0M125.73 29.59h0M113.64 24.41h0M94.08 46.74h0M126.46 23.69h0M120.74 41.62h0M105.77 55.96h0M102.35 30.23h0M128.55 20.05h0M100.4 25.75h0M95.35 38.89h0M117.41 25.77h0M116.89 16.16h0M106.12 50.11h0M92.33 57.21h0M119.34 39.96h0M115.85 46.41h0M106.79 28.5h0M94.4 42.09h0M120.13 33.24h0M107.7 32.32h0M115.12 38.87h0M102.25 24.79h0M108.59 55.59h0M95.68 50.74h0M116.08 43.2h0M126.68 19.11h0M91.02 49.05h0M117.29 26.48h0M121.09 36.39h0M97.9 47.04h0M100.08 29.95h0M120.46 44.41h0M93.38 50.52h0M109.68 56.44h0M96.61 44.22h0M119.08 28.17h0M111.43 39.63h0M107.1 25.01h0M127.32 36.03h0M115.19 22.91h0M101.37 60.81h0M108.57 28.09h0M117.26 18.28h0M108.84 46.06h0M108.62 48.76h0M114.55 36.16h0M109.94 49.56h0M98.01 43.94h0M99.95 61.89h0M102.56 56.36h0M112.76 31.74h0M93.49 50.54h0M128.75 21.52h0M109.26 17.7h0M89.39 50.91h0M111.21 25.52h0M112.66 25.28h0M93.25 47.55h0M105.68 39.12h0M104.73 38.59h0M128.15 23.63h0M130.35 33.38h0M121.27 36.64h0M131.57 31.96h0M130.37 38.49h0M121.08 22.06h0M120.36 35.19h0M104.82 27.18h0M104 33.72h0M100.8 49.03h0M115.6 21.71h0M110.35 40.96h0M105.85 60.81h0M104.41 37.9h0M109.16 25.76h0M109.07 21.44h0M123.67 20.85h0M92.34 43.65h0M100.95 49.27h0" stroke="#f030f0" stroke-width="1.2" stroke-linecap="round" fill="none" opacity="1"/><path d="M110.69 50.67h0M133.27 30.43h0M101.41 60.32h0M100.6 51.06h0M116.5 28.49h0M109.65 37.64h0M99.3 47.78h0M110.99 39.52h0M113.49 38.95h0M109.56 28.72h0M127.07 36.11h0M103.18 54.09h0M105.38 27.18h0M101.96 23.04h0M123.01 25.52h0M103.11 36.64h0M114.21 28.12h0M113.01 43.09h0M92.47 39.35h0M117.51 41.55h0M89.04 53.04h0M103.95 23.86h0M95.13 47.75h0M116.08 34.78h0M113.61 31.51h0M126.7 20.63h0M123.68 41.51h0M98.34 62.05h0M107.95 59.58h0M107.53 47.6h0M96.54 39.45h0M113.36 16.43h0M107.21 20.07h0M107.55 58.41h0M101.16 37.77h0M100.89 48h0M91.31 47.76h0M104.13 28.78h0M114.39 47.23h0M93.43 55.01h0M107.59 17.64h0M100.44 42.28h0M111.38 27.94h0M97.71 32.12h0M112.05 34.99h0M113.58 51.18h0M100.08 52.22h0M108.38 52.17h0M122.22 38.65h0M118.13 19.61h0M94.15 39.4h0M103.14 61.29h0M123.59 37.88h0M111.74 34.48h0M131.99 29.22h0M99.54 56.86h0M104.04 62.04h0M125.06 26.37h0M97.67 37.97h0M100.21 31.48h0M95.28 47.34h0M113.48 39.66h0M112.45 30.93h0M116.71 37h0M127.09 38.08h0M129.15 40.36h0M106.42 29.48h0M118.07 25.32h0M105.55 48.66h0M92.17 42.48h0M121.18 47.61h0M126.35 27.15h0M113.31 29.22h0M111.55 46.04h0M124.29 28.61h0M114.18 19.78h0M99.38 31.46h0M92.03 41.18h0M107.46 23.11h0M115.35 20.75h0M110.91 51.04h0M133.18 29.37h0M122.49 19.37h0M98.37 34.68h0M95.17 50.01h0M103.62 21.68h0M111.23 32.76h0M106.66 48.46h0M113.23 50.26h0M120.1 36.37h0" stroke="#3a1070" stroke-width="1" stroke-linecap="round" fill="none" opacity="1"/><path d="M44.6 64.75h0M42.37 59.99h0M38.25 58.19h0M31.44 67.68h0M31.04 63.69h0M32.79 62.64h0M34.6 69.36h0M33.98 60.77h0M26.1 59.37h0M29.1 59.9h0M28.89 64.49h0M40.69 59.99h0M32.03 62.93h0M40.93 62.65h0M29.44 64.08h0M38.22 54.45h0M39.08 65.77h0M36.77 57.3h0M37.81 63.4h0M24.92 67.25h0M26.18 64.57h0M41.11 67.26h0M30.25 58.88h0M38.08 53.74h0M40.12 63.46h0M44.99 63.3h0M29.23 55.09h0M41.36 65.12h0M44.3 65.77h0M30.59 61.31h0M26.87 61.7h0M32.56 58.63h0M31.36 63.21h0M45.07 62.9h0M30.91 65.51h0M25.35 61.29h0M39.23 55.97h0M31.05 62.45h0M32.9 59.08h0M29.15 65.29h0M31.82 67.43h0M40.39 56.54h0M45.13 62.34h0M34.11 58.85h0M34.69 61.41h0M40.72 54.91h0M38.26 64.72h0M40.76 63.76h0M33.42 58.52h0M34.96 54.01h0M35.65 58.2h0M42.27 57.23h0M45.01 61.5h0M29.79 65.66h0M33.58 56.95h0M31.92 54.52h0M31.14 60.84h0M29.3 57.35h0M43.41 63.93h0M35.03 66.48h0M35.45 62.68h0M26.45 55.92h0M33.57 55.4h0M42.62 57.2h0M34.94 61.99h0M27.24 65.1h0M42.44 65.71h0M31.8 54.56h0M29.13 66.77h0M32.14 55.38h0M41.19 62.42h0M39.95 57.11h0M44.48 63.2h0M24.96 63.81h0M33.23 60.17h0M37.38 68.94h0M28.04 68.14h0M22.98 62.68h0M30.56 63.51h0M27.53 57.93h0M43.75 59.58h0M35.94 63.87h0M39.63 68.69h0M38.42 63.58h0M38.62 64.86h0M28.99 56.32h0M35.93 68.59h0M23.76 65.85h0M41.77 59.85h0M40.69 55.63h0M24.74 61.23h0M26.64 54.94h0M32.08 62.78h0M31.47 56.38h0M37.14 63.79h0M40.1 56.52h0M25.33 59.97h0M22.88 64.01h0M35.29 69.32h0M41.19 57.51h0M28.65 64.98h0M35.61 64.99h0M39.96 61.01h0M39.8 65.08h0M31.25 67.92h0M32.26 68.83h0M27.5 57.79h0M41.28 64.11h0M36.42 59.87h0M40.26 64.85h0" stroke="#fffbd4" stroke-width="1.4" stroke-linecap="round" fill="none" opacity="1"/><path d="M43.22 58.63h0M28.19 63.71h0M36.21 62.14h0M29.64 60.17h0M40.28 57.63h0M25.99 64.29h0M29.17 60.27h0M30.16 61.59h0M26.69 60.66h0M43.88 59.78h0M26.11 66.98h0M29.56 60.03h0M40.56 62.46h0M32.84 62.26h0M38.4 56.31h0M32.18 63.6h0M43.49 65.61h0M31.09 54.14h0M27.83 60.23h0M34.63 64.89h0M41.09 59.5h0M41.77 60.31h0M40.28 58.76h0M27.68 66.16h0M39.81 64.59h0M25.53 61.88h0M33.01 55.66h0M31.65 61.58h0M39.33 66.91h0M33.15 65.41h0M42.62 56.85h0M34.41 56.19h0M32 58.46h0M33.45 69.54h0M36.73 56.04h0M44.33 61.22h0M29.73 55.06h0M26.57 63.37h0M25.27 63.77h0M31.74 64.43h0" stroke="#f040e0" stroke-width="1.2" stroke-linecap="round" fill="none" opacity="1"/><path d="M30.32 62.09h0M40.27 54.9h0M24.47 58.22h0M33.57 55.42h0M29.96 53.95h0M28.15 59.18h0M38.82 63.78h0M36.27 67.19h0M26.84 67.63h0M23.31 64.92h0M39.44 68.57h0M29.02 58.77h0M26.11 62.76h0M32.35 65.9h0M35.91 68.47h0M39.86 54.64h0M44.17 61.77h0M42.87 66.78h0M40.19 63.03h0M44.57 61.59h0M39.74 58.82h0M39.16 54.27h0M27.81 58.77h0M34.28 61.14h0M30.62 65.17h0M27.96 60.58h0M38.52 67.47h0M27.86 66.32h0" stroke="#40205a" stroke-width="1" stroke-linecap="round" fill="none" opacity="1"/><ellipse cx="112.9" cy="45.8" rx="2.2" ry="1.3" fill="#200a50" transform="rotate(25 112.9 45.8)"/><ellipse cx="81.3" cy="75.8" rx="1.0" ry="0.7" fill="#e6def4"/><rect x="94.2" y="91.3" width="64.5" height="3" fill="#fff"/></svg>
<text x="10.5" y="14" class="pl">a</text>
<text x="10" y="231" class="pl">b</text>
<text x="152.1" y="230" class="pl">c</text>
<text x="277.5" y="231" class="pl">d</text>
<text x="405.5" y="230.4" class="pl">e</text>
<text x="14.7" y="415" class="pl">f</text>
<text x="149.1" y="415.6" class="pl">g</text>
<text x="276.1" y="415.6" class="pl">h</text>
<text x="405.7" y="415.6" class="pl">i</text>
<text x="16.4" y="600.5" class="pl">j</text>
<text x="150.1" y="603.5" class="pl">k</text>
<text x="276.9" y="603.5" class="pl">l</text>
<text x="14.7" y="809.4" class="pl">m</text>
<text x="148.5" y="812" class="pl">n</text>
<text x="275.5" y="812.4" class="pl">o</text>
<text transform="translate(21 298.2) rotate(-90)" text-anchor="middle" class="yb">Fractional area (%)</text>
<text transform="translate(21 486.5) rotate(-90)" text-anchor="middle" class="yb">Mean area (µm<tspan dy="-4.5" font-size="8.5">2</tspan>)</text>
<text transform="translate(20.4 679) rotate(-90)" text-anchor="middle" class="yb">Proportion of total</text>
<text transform="translate(37 678.5) rotate(-90)" text-anchor="middle" class="yb">islet area (%)</text>
<text transform="translate(42.7 890.8) rotate(-90)" text-anchor="middle" style="font-size:9.5px">Islets per mm<tspan dy="-3.2" font-size="6.2">2</tspan></text>
<text transform="translate(154.4 892.3) rotate(-90)" text-anchor="middle" class="yr">µm<tspan dy="-3.2" font-size="6">2</tspan></text>
<text transform="translate(291.2 889.5) rotate(-90)" text-anchor="middle" style="font-size:10.3px">Percentage (%)</text>
<g><path d="M58.5 247 V366.5 H139" fill="none" stroke="#7e7e7e" stroke-width="1"/><path d="M56.7 247.5H58.5M56.7 287.5H58.5M56.7 326.5H58.5M56.7 366.5H58.5M81.5 366.5V368.9M115.5 366.5V368.9" fill="none" stroke="#7e7e7e" stroke-width="1"/><text x="56" y="250.45" text-anchor="end" class="tk">6</text><text x="56" y="290.45" text-anchor="end" class="tk">4</text><text x="56" y="330.05" text-anchor="end" class="tk">2</text><text x="56" y="369.85" text-anchor="end" class="tk">0</text><text x="81.4" y="377.8" text-anchor="middle" class="xl">Non-Preg</text><text x="115.4" y="377.8" text-anchor="middle" class="xl">Preg</text><text x="98.8" y="227" text-anchor="middle" class="tt">Whole islet</text><text x="98.6" y="246" text-anchor="middle" class="pv">P = 0.0145</text><path d="M81.5 319V249.5H115.5V261.4" fill="none" stroke="#9a9a9a" stroke-width="1"/><path d="M76 331.5H87.4M76 338.5H87.4M81.5 331.5V338.5" fill="none" stroke="#808080" stroke-width="1"/><path d="M75 334.5H88" fill="none" stroke="#a0a0a0" stroke-width="1"/><path d="M110 297.5H121.6M110 316.5H121.6M115.5 297.5V316.5" fill="none" stroke="#808080" stroke-width="1"/><path d="M104 306.5H127" fill="none" stroke="#a0a0a0" stroke-width="1"/><polygon points="81.5,318.45 84.3,324.1 78.7,324.1" fill="#000"/><polygon points="81.5,324.7 84.2,327.4 81.5,330.1 78.8,327.4" fill="#000"/><polygon points="72.7,330.6 73.83,332.37 75.6,333.5 73.83,334.63 72.7,336.4 71.57,334.63 69.8,333.5 71.57,332.37" fill="#000"/><polygon points="90.4,332.2 91.31,334.2 93.49,334.45 91.87,335.93 92.31,338.08 90.4,337 88.49,338.08 88.93,335.93 87.31,334.45 89.49,334.2" fill="#000"/><rect x="79.05" y="335.65" width="5.1" height="5.1" fill="#000"/><polygon points="72.8,347.65 75.65,342.1 69.95,342.1" fill="#000"/><circle cx="90.3" cy="343.4" r="2.75" fill="#000"/><polygon points="115.4,260.85 118.2,266.5 112.6,266.5" fill="#ff45d8"/><polygon points="115.4,284.1 116.53,285.87 118.3,287 116.53,288.13 115.4,289.9 114.27,288.13 112.5,287 114.27,285.87" fill="#ff45d8"/><polygon points="115.4,300.3 118.1,303 115.4,305.7 112.7,303" fill="#ff45d8"/><polygon points="115.4,316.05 118.25,310.5 112.55,310.5" fill="#ff45d8"/><circle cx="110.4" cy="322.2" r="2.75" fill="#ff45d8"/><rect x="118.45" y="324.45" width="5.1" height="5.1" fill="#ff45d8"/><polygon points="110.4,329 111.31,331 113.49,331.25 111.87,332.73 112.31,334.88 110.4,333.8 108.49,334.88 108.93,332.73 107.31,331.25 109.49,331" fill="#ff45d8"/></g>
<g><path d="M175.5 245 V364.5 H254.6" fill="none" stroke="#7e7e7e" stroke-width="1"/><path d="M173.7 245.5H175.5M173.7 269.5H175.5M173.7 293.5H175.5M173.7 317.5H175.5M173.7 341.5H175.5M173.7 364.5H175.5M198.5 364.5V366.9M232.5 364.5V366.9" fill="none" stroke="#7e7e7e" stroke-width="1"/><text x="173.1" y="248.85" text-anchor="end" class="tk">1</text><text x="173.1" y="272.65" text-anchor="end" class="tk">0.8</text><text x="173.1" y="296.65" text-anchor="end" class="tk">0.6</text><text x="173.1" y="320.65" text-anchor="end" class="tk">0.4</text><text x="173.1" y="344.45" text-anchor="end" class="tk">0.2</text><text x="173.1" y="368.05" text-anchor="end" class="tk">0</text><text x="198.2" y="376" text-anchor="middle" class="xl">Non-Preg</text><text x="232.4" y="376" text-anchor="middle" class="xl">Preg</text><text x="215.3" y="225" text-anchor="middle" class="tt">α cells</text><text x="215.3" y="242.6" text-anchor="middle" class="pv">P = 0.0206</text><path d="M198.5 341V246.5H232.5V256" fill="none" stroke="#9a9a9a" stroke-width="1"/><path d="M192.4 349.5H204M192.4 355.5H204M198.5 349.5V355.5" fill="none" stroke="#808080" stroke-width="1"/><path d="M187 352.5H210" fill="none" stroke="#a0a0a0" stroke-width="1"/><path d="M226.6 297.5H238.2M226.6 327.5H238.2M232.5 297.5V327.5" fill="none" stroke="#808080" stroke-width="1"/><path d="M221 312.5H243.6" fill="none" stroke="#a0a0a0" stroke-width="1"/><rect x="186.85" y="343.45" width="5.1" height="5.1" fill="#000"/><polygon points="198.2,340.1 199.33,341.87 201.1,343 199.33,344.13 198.2,345.9 197.07,344.13 195.3,343 197.07,341.87" fill="#000"/><polygon points="207,345.3 209.7,348 207,350.7 204.3,348" fill="#000"/><polygon points="198.2,346.4 199.11,348.4 201.29,348.65 199.67,350.13 200.11,352.28 198.2,351.2 196.29,352.28 196.73,350.13 195.11,348.65 197.29,348.4" fill="#000"/><polygon points="198.2,361.05 201.05,355.5 195.35,355.5" fill="#000"/><polygon points="207,355.45 209.8,361.1 204.2,361.1" fill="#000"/><circle cx="189.4" cy="363.6" r="2.75" fill="#000"/><polygon points="232.4,256.5 233.53,258.27 235.3,259.4 233.53,260.53 232.4,262.3 231.27,260.53 229.5,259.4 231.27,258.27" fill="#ff45d8"/><polygon points="232.4,267.45 235.2,273.1 229.6,273.1" fill="#ff45d8"/><polygon points="232.4,286.9 235.1,289.6 232.4,292.3 229.7,289.6" fill="#ff45d8"/><polygon points="232.4,327.05 235.25,321.5 229.55,321.5" fill="#ff45d8"/><polygon points="232.4,336 233.31,338 235.49,338.25 233.87,339.73 234.31,341.88 232.4,340.8 230.49,341.88 230.93,339.73 229.31,338.25 231.49,338" fill="#ff45d8"/><circle cx="232.4" cy="346" r="2.75" fill="#ff45d8"/><rect x="229.85" y="356.05" width="5.1" height="5.1" fill="#ff45d8"/></g>
<g><path d="M309.5 247 V366.5 H389.4" fill="none" stroke="#7e7e7e" stroke-width="1"/><path d="M307.7 247.5H309.5M307.7 271.5H309.5M307.7 295.5H309.5M307.7 319.5H309.5M307.7 342.5H309.5M307.7 366.5H309.5M332.5 366.5V368.9M366.5 366.5V368.9" fill="none" stroke="#7e7e7e" stroke-width="1"/><text x="307.1" y="250.65" text-anchor="end" class="tk">2.5</text><text x="307.1" y="274.65" text-anchor="end" class="tk">2.0</text><text x="307.1" y="298.45" text-anchor="end" class="tk">1.5</text><text x="307.1" y="322.45" text-anchor="end" class="tk">1.0</text><text x="307.1" y="346.05" text-anchor="end" class="tk">0.5</text><text x="307.1" y="369.85" text-anchor="end" class="tk">0.0</text><text x="332.6" y="377.8" text-anchor="middle" class="xl">Non-Preg</text><text x="366.8" y="377.8" text-anchor="middle" class="xl">Preg</text><text x="349.5" y="227" text-anchor="middle" class="tt">β cells</text><text x="349.5" y="243" text-anchor="middle" class="pv">P = 0.0241</text><path d="M332.5 319V247.5H366.5V257.4" fill="none" stroke="#9a9a9a" stroke-width="1"/><path d="M327 332.5H338M327 339.5H338M332.5 332.5V339.5" fill="none" stroke="#808080" stroke-width="1"/><path d="M321 335.5H344" fill="none" stroke="#a0a0a0" stroke-width="1"/><path d="M361 295.5H372.6M361 317.5H372.6M366.5 295.5V317.5" fill="none" stroke="#808080" stroke-width="1"/><path d="M355.4 306.5H378" fill="none" stroke="#a0a0a0" stroke-width="1"/><polygon points="332.6,318.45 335.4,324.1 329.8,324.1" fill="#000"/><polygon points="332.6,327.1 333.73,328.87 335.5,330 333.73,331.13 332.6,332.9 331.47,331.13 329.7,330 331.47,328.87" fill="#000"/><polygon points="323.6,330.9 326.3,333.6 323.6,336.3 320.9,333.6" fill="#000"/><rect x="338.85" y="333.05" width="5.1" height="5.1" fill="#000"/><polygon points="332.6,334 333.51,336 335.69,336.25 334.07,337.73 334.51,339.88 332.6,338.8 330.69,339.88 331.13,337.73 329.51,336.25 331.69,336" fill="#000"/><polygon points="328,349.45 330.85,343.9 325.15,343.9" fill="#000"/><circle cx="337" cy="345.6" r="2.75" fill="#000"/><polygon points="366.8,257.05 369.6,262.7 364,262.7" fill="#ff45d8"/><polygon points="366.8,283.5 367.93,285.27 369.7,286.4 367.93,287.53 366.8,289.3 365.67,287.53 363.9,286.4 365.67,285.27" fill="#ff45d8"/><polygon points="366.8,289.7 369.5,292.4 366.8,295.1 364.1,292.4" fill="#ff45d8"/><polygon points="366.8,309.05 369.65,303.5 363.95,303.5" fill="#ff45d8"/><polygon points="366.8,324 367.71,326 369.89,326.25 368.27,327.73 368.71,329.88 366.8,328.8 364.89,329.88 365.33,327.73 363.71,326.25 365.89,326" fill="#ff45d8"/><rect x="369.45" y="331.65" width="5.1" height="5.1" fill="#ff45d8"/><circle cx="361.2" cy="339.2" r="2.75" fill="#ff45d8"/></g>
<g><path d="M439.5 245 V365.5 H519.4" fill="none" stroke="#7e7e7e" stroke-width="1"/><path d="M437.7 245.5H439.5M437.7 275.5H439.5M437.7 305.5H439.5M437.7 335.5H439.5M437.7 365.5H439.5M462.5 365.5V367.9M496.5 365.5V367.9" fill="none" stroke="#7e7e7e" stroke-width="1"/><text x="436.9" y="249.25" text-anchor="end" class="tk">0.4</text><text x="436.9" y="278.85" text-anchor="end" class="tk">0.3</text><text x="436.9" y="308.85" text-anchor="end" class="tk">0.2</text><text x="436.9" y="338.85" text-anchor="end" class="tk">0.1</text><text x="436.9" y="368.45" text-anchor="end" class="tk">0.0</text><text x="462.4" y="376.4" text-anchor="middle" class="xl">Non-Preg</text><text x="496.6" y="376.4" text-anchor="middle" class="xl">Preg</text><text x="479.3" y="227" text-anchor="middle" class="tt">Bihormonal cells</text><text x="479.5" y="243" text-anchor="middle" class="pv">P = 0.0137</text><path d="M462.5 337V246.5H496.5V257.4" fill="none" stroke="#9a9a9a" stroke-width="1"/><path d="M456.6 353.5H468.2M456.6 358.5H468.2M462.5 353.5V358.5" fill="none" stroke="#808080" stroke-width="1"/><path d="M451 356.5H474" fill="none" stroke="#a0a0a0" stroke-width="1"/><path d="M491 301.5H502.6M491 329.5H502.6M496.5 301.5V329.5" fill="none" stroke="#808080" stroke-width="1"/><path d="M485.2 315.5H508" fill="none" stroke="#a0a0a0" stroke-width="1"/><circle cx="471.2" cy="346.4" r="2.75" fill="#000"/><polygon points="453.6,348.1 454.73,349.87 456.5,351 454.73,352.13 453.6,353.9 452.47,352.13 450.7,351 452.47,349.87" fill="#000"/><rect x="459.85" y="350.05" width="5.1" height="5.1" fill="#000"/><polygon points="471.2,349.7 473.9,352.4 471.2,355.1 468.5,352.4" fill="#000"/><polygon points="462.4,359.25 465.2,364.9 459.6,364.9" fill="#000"/><polygon points="471.2,365.65 474.05,360.1 468.35,360.1" fill="#000"/><polygon points="453.6,361.4 454.51,363.4 456.69,363.65 455.07,365.13 455.51,367.28 453.6,366.2 451.69,367.28 452.13,365.13 450.51,363.65 452.69,363.4" fill="#000"/><polygon points="496.6,263.9 499.3,266.6 496.6,269.3 493.9,266.6" fill="#ff45d8"/><polygon points="496.6,276.25 499.4,281.9 493.8,281.9" fill="#ff45d8"/><polygon points="496.6,281.7 497.73,283.47 499.5,284.6 497.73,285.73 496.6,287.5 495.47,285.73 493.7,284.6 495.47,283.47" fill="#ff45d8"/><polygon points="502.2,337.45 505.05,331.9 499.35,331.9" fill="#ff45d8"/><rect x="488.65" y="336.45" width="5.1" height="5.1" fill="#ff45d8"/><polygon points="502.2,346 503.11,348 505.29,348.25 503.67,349.73 504.11,351.88 502.2,350.8 500.29,351.88 500.73,349.73 499.11,348.25 501.29,348" fill="#ff45d8"/><circle cx="491.2" cy="353.6" r="2.75" fill="#ff45d8"/></g>
<g><path d="M58.5 437 V557.5 H139" fill="none" stroke="#7e7e7e" stroke-width="1"/><path d="M56.7 437.5H58.5M56.7 467.5H58.5M56.7 497.5H58.5M56.7 527.5H58.5M56.7 557.5H58.5M81.5 557.5V559.9M115.5 557.5V559.9" fill="none" stroke="#7e7e7e" stroke-width="1"/><text x="55.9" y="440.85" text-anchor="end" class="tk">12000</text><text x="55.9" y="470.85" text-anchor="end" class="tk">9000</text><text x="55.9" y="500.85" text-anchor="end" class="tk">6000</text><text x="55.9" y="530.65" text-anchor="end" class="tk">3000</text><text x="55.9" y="560.65" text-anchor="end" class="tk">0</text><text x="81.2" y="568.6" text-anchor="middle" class="xl">Non-Preg</text><text x="115.6" y="568.6" text-anchor="middle" class="xl">Preg</text><text x="98.8" y="417.6" text-anchor="middle" class="tt">Whole islet</text><text x="98.3" y="439" text-anchor="middle" class="pv">P = 0.0032</text><path d="M81.5 483V442.5H115.5V446.4" fill="none" stroke="#9a9a9a" stroke-width="1"/><path d="M76 492.5H87M76 497.5H87M81.5 492.5V497.5" fill="none" stroke="#808080" stroke-width="1"/><path d="M75 494.5H88" fill="none" stroke="#a0a0a0" stroke-width="1"/><path d="M110 466.5H121.4M110 477.5H121.4M115.5 466.5V477.5" fill="none" stroke="#808080" stroke-width="1"/><path d="M104 472.5H127" fill="none" stroke="#a0a0a0" stroke-width="1"/><polygon points="78.4,483.3 81.1,486 78.4,488.7 75.7,486" fill="#000"/><polygon points="84.4,482.85 87.2,488.5 81.6,488.5" fill="#000"/><circle cx="72.8" cy="494.4" r="2.75" fill="#000"/><polygon points="79,492.6 79.91,494.6 82.09,494.85 80.47,496.33 80.91,498.48 79,497.4 77.09,498.48 77.53,496.33 75.91,494.85 78.09,494.6" fill="#000"/><polygon points="90,491.7 91.13,493.47 92.9,494.6 91.13,495.73 90,497.5 88.87,495.73 87.1,494.6 88.87,493.47" fill="#000"/><rect x="81.85" y="497.25" width="5.1" height="5.1" fill="#000"/><polygon points="81.4,511.05 84.25,505.5 78.55,505.5" fill="#000"/><polygon points="115.6,446.5 118.3,449.2 115.6,451.9 112.9,449.2" fill="#ff45d8"/><polygon points="115.6,461.25 118.4,466.9 112.8,466.9" fill="#ff45d8"/><polygon points="107,466 107.91,468 110.09,468.25 108.47,469.73 108.91,471.88 107,470.8 105.09,471.88 105.53,469.73 103.91,468.25 106.09,468" fill="#ff45d8"/><polygon points="124.4,466.1 125.53,467.87 127.3,469 125.53,470.13 124.4,471.9 123.27,470.13 121.5,469 123.27,467.87" fill="#ff45d8"/><circle cx="115.6" cy="474" r="2.75" fill="#ff45d8"/><rect x="113.05" y="483.05" width="5.1" height="5.1" fill="#ff45d8"/><polygon points="115.6,497.05 118.45,491.5 112.75,491.5" fill="#ff45d8"/></g>
<g><path d="M176.5 436 V555.5 H255.4" fill="none" stroke="#7e7e7e" stroke-width="1"/><path d="M174.7 436.5H176.5M174.7 459.5H176.5M174.7 483.5H176.5M174.7 507.5H176.5M174.7 531.5H176.5M174.7 555.5H176.5M199.5 555.5V557.9M233.5 555.5V557.9" fill="none" stroke="#7e7e7e" stroke-width="1"/><text x="173.9" y="439.65" text-anchor="end" class="tk">2500</text><text x="173.9" y="463.25" text-anchor="end" class="tk">2000</text><text x="173.9" y="487.05" text-anchor="end" class="tk">1500</text><text x="173.9" y="510.85" text-anchor="end" class="tk">1000</text><text x="173.9" y="534.85" text-anchor="end" class="tk">500</text><text x="173.9" y="558.65" text-anchor="end" class="tk">0</text><text x="199.2" y="566.6" text-anchor="middle" class="xl">Non-Preg</text><text x="233.4" y="566.6" text-anchor="middle" class="xl">Preg</text><text x="216.3" y="415.6" text-anchor="middle" class="tt">α cells</text><text x="216" y="433.4" text-anchor="middle" class="pv">P = 0.0027</text><path d="M199.5 520V437.5H233.5V458" fill="none" stroke="#9a9a9a" stroke-width="1"/><path d="M193.6 532.5H205M193.6 540.5H205M199.5 532.5V540.5" fill="none" stroke="#808080" stroke-width="1"/><path d="M187.6 536.5H210.6" fill="none" stroke="#a0a0a0" stroke-width="1"/><path d="M227.6 491.5H239M227.6 508.5H239M233.5 491.5V508.5" fill="none" stroke="#808080" stroke-width="1"/><path d="M222 499.5H244.6" fill="none" stroke="#a0a0a0" stroke-width="1"/><polygon points="193.6,520.7 194.73,522.47 196.5,523.6 194.73,524.73 193.6,526.5 192.47,524.73 190.7,523.6 192.47,522.47" fill="#000"/><circle cx="204.6" cy="524.4" r="2.75" fill="#000"/><polygon points="193.6,529.3 196.3,532 193.6,534.7 190.9,532" fill="#000"/><rect x="202.05" y="529.45" width="5.1" height="5.1" fill="#000"/><polygon points="193.6,540.05 196.4,545.7 190.8,545.7" fill="#000"/><polygon points="204.6,547.05 207.45,541.5 201.75,541.5" fill="#000"/><polygon points="199.2,550.4 200.11,552.4 202.29,552.65 200.67,554.13 201.11,556.28 199.2,555.2 197.29,556.28 197.73,554.13 196.11,552.65 198.29,552.4" fill="#000"/><polygon points="233.4,459.1 234.53,460.87 236.3,462 234.53,463.13 233.4,464.9 232.27,463.13 230.5,462 232.27,460.87" fill="#ff45d8"/><polygon points="227.8,484.5 230.5,487.2 227.8,489.9 225.1,487.2" fill="#ff45d8"/><polygon points="239,484.25 241.8,489.9 236.2,489.9" fill="#ff45d8"/><polygon points="233.4,504.65 236.25,499.1 230.55,499.1" fill="#ff45d8"/><rect x="230.85" y="508.65" width="5.1" height="5.1" fill="#ff45d8"/><circle cx="238.8" cy="523" r="2.75" fill="#ff45d8"/><polygon points="227.8,524.2 228.71,526.2 230.89,526.45 229.27,527.93 229.71,530.08 227.8,529 225.89,530.08 226.33,527.93 224.71,526.45 226.89,526.2" fill="#ff45d8"/></g>
<g><path d="M310.5 436 V555.5 H389.6" fill="none" stroke="#7e7e7e" stroke-width="1"/><path d="M308.7 436.5H310.5M308.7 460.5H310.5M308.7 483.5H310.5M308.7 507.5H310.5M308.7 531.5H310.5M308.7 555.5H310.5M333.5 555.5V557.9M367.5 555.5V557.9" fill="none" stroke="#7e7e7e" stroke-width="1"/><text x="308.3" y="439.65" text-anchor="end" class="tk">5000</text><text x="308.3" y="463.45" text-anchor="end" class="tk">4000</text><text x="308.3" y="487.25" text-anchor="end" class="tk">3000</text><text x="308.3" y="511.05" text-anchor="end" class="tk">2000</text><text x="308.3" y="534.85" text-anchor="end" class="tk">1000</text><text x="308.3" y="558.65" text-anchor="end" class="tk">0</text><text x="333.2" y="566.6" text-anchor="middle" class="xl">Non-Preg</text><text x="367.4" y="566.6" text-anchor="middle" class="xl">Preg</text><text x="350" y="415.6" text-anchor="middle" class="tt">β cells</text><text x="350.2" y="432" text-anchor="middle" class="pv">P = 0.0182</text><path d="M333.5 476V436.5H367.5V451.6" fill="none" stroke="#9a9a9a" stroke-width="1"/><path d="M328 488.5H339M328 496.5H339M333.5 488.5V496.5" fill="none" stroke="#808080" stroke-width="1"/><path d="M321.6 492.5H344.6" fill="none" stroke="#a0a0a0" stroke-width="1"/><path d="M361.6 466.5H373M361.6 478.5H373M367.5 466.5V478.5" fill="none" stroke="#808080" stroke-width="1"/><path d="M356 472.5H378.6" fill="none" stroke="#a0a0a0" stroke-width="1"/><polygon points="327.6,477.3 330.3,480 327.6,482.7 324.9,480" fill="#000"/><polygon points="327.6,483.7 328.73,485.47 330.5,486.6 328.73,487.73 327.6,489.5 326.47,487.73 324.7,486.6 326.47,485.47" fill="#000"/><polygon points="338.6,481.85 341.4,487.5 335.8,487.5" fill="#000"/><polygon points="338.6,489 339.51,491 341.69,491.25 340.07,492.73 340.51,494.88 338.6,493.8 336.69,494.88 337.13,492.73 335.51,491.25 337.69,491" fill="#000"/><rect x="325.05" y="490.65" width="5.1" height="5.1" fill="#000"/><circle cx="338.6" cy="498.2" r="2.75" fill="#000"/><polygon points="333.2,512.45 336.05,506.9 330.35,506.9" fill="#000"/><polygon points="372.6,452.2 373.51,454.2 375.69,454.45 374.07,455.93 374.51,458.08 372.6,457 370.69,458.08 371.13,455.93 369.51,454.45 371.69,454.2" fill="#ff45d8"/><polygon points="361.8,456.05 364.6,461.7 359,461.7" fill="#ff45d8"/><rect x="359.25" y="463.05" width="5.1" height="5.1" fill="#ff45d8"/><polygon points="372.6,464.3 373.73,466.07 375.5,467.2 373.73,468.33 372.6,470.1 371.47,468.33 369.7,467.2 371.47,466.07" fill="#ff45d8"/><polygon points="361.8,468.9 364.5,471.6 361.8,474.3 359.1,471.6" fill="#ff45d8"/><polygon points="361.8,497.65 364.65,492.1 358.95,492.1" fill="#ff45d8"/><circle cx="372.6" cy="494.2" r="2.75" fill="#ff45d8"/></g>
<g><path d="M439.5 437 V557.5 H519.4" fill="none" stroke="#7e7e7e" stroke-width="1"/><path d="M437.7 437.5H439.5M437.7 467.5H439.5M437.7 497.5H439.5M437.7 527.5H439.5M437.7 557.5H439.5M462.5 557.5V559.9M496.5 557.5V559.9" fill="none" stroke="#7e7e7e" stroke-width="1"/><text x="436.9" y="440.85" text-anchor="end" class="tk">800</text><text x="436.9" y="470.85" text-anchor="end" class="tk">600</text><text x="436.9" y="500.85" text-anchor="end" class="tk">400</text><text x="436.9" y="530.85" text-anchor="end" class="tk">200</text><text x="436.9" y="560.65" text-anchor="end" class="tk">0</text><text x="462.4" y="568.6" text-anchor="middle" class="xl">Non-Preg</text><text x="496.6" y="568.6" text-anchor="middle" class="xl">Preg</text><text x="479.3" y="418.6" text-anchor="middle" class="tt">Bihormonal cells</text><text x="479.5" y="433.6" text-anchor="middle" class="pv">P = 0.0087</text><path d="M462.5 524V437.5H496.5V442" fill="none" stroke="#9a9a9a" stroke-width="1"/><path d="M456.6 533.5H468.2M456.6 541.5H468.2M462.5 533.5V541.5" fill="none" stroke="#808080" stroke-width="1"/><path d="M451 537.5H474" fill="none" stroke="#a0a0a0" stroke-width="1"/><path d="M491 483.5H502.6M491 508.5H502.6M496.5 483.5V508.5" fill="none" stroke="#808080" stroke-width="1"/><path d="M485.2 496.5H508" fill="none" stroke="#a0a0a0" stroke-width="1"/><rect x="451.05" y="529.45" width="5.1" height="5.1" fill="#000"/><polygon points="459.4,527.2 460.31,529.2 462.49,529.45 460.87,530.93 461.31,533.08 459.4,532 457.49,533.08 457.93,530.93 456.31,529.45 458.49,529.2" fill="#000"/><polygon points="465.4,524.45 468.2,530.1 462.6,530.1" fill="#000"/><polygon points="471.2,527.5 472.33,529.27 474.1,530.4 472.33,531.53 471.2,533.3 470.07,531.53 468.3,530.4 470.07,529.27" fill="#000"/><polygon points="465.4,530.9 468.1,533.6 465.4,536.3 462.7,533.6" fill="#000"/><polygon points="465.4,554.45 468.25,548.9 462.55,548.9" fill="#000"/><circle cx="459.4" cy="555.6" r="2.75" fill="#000"/><polygon points="496.6,442.5 499.3,445.2 496.6,447.9 493.9,445.2" fill="#ff45d8"/><polygon points="496.6,465.5 497.73,467.27 499.5,468.4 497.73,469.53 496.6,471.3 495.47,469.53 493.7,468.4 495.47,467.27" fill="#ff45d8"/><polygon points="496.6,476.85 499.4,482.5 493.8,482.5" fill="#ff45d8"/><rect x="494.05" y="499.45" width="5.1" height="5.1" fill="#ff45d8"/><polygon points="496.6,512.6 497.51,514.6 499.69,514.85 498.07,516.33 498.51,518.48 496.6,517.4 494.69,518.48 495.13,516.33 493.51,514.85 495.69,514.6" fill="#ff45d8"/><polygon points="496.6,529.05 499.45,523.5 493.75,523.5" fill="#ff45d8"/><circle cx="496.6" cy="535.4" r="2.75" fill="#ff45d8"/></g>
<g><path d="M58.5 635 V754.5 H139" fill="none" stroke="#7e7e7e" stroke-width="1"/><path d="M56.7 635.5H58.5M56.7 659.5H58.5M56.7 683.5H58.5M56.7 707.5H58.5M56.7 731.5H58.5M56.7 754.5H58.5M81.5 754.5V756.9M115.5 754.5V756.9" fill="none" stroke="#7e7e7e" stroke-width="1"/><text x="55.9" y="638.85" text-anchor="end" class="tk">25</text><text x="55.9" y="662.85" text-anchor="end" class="tk">20</text><text x="55.9" y="686.65" text-anchor="end" class="tk">15</text><text x="55.9" y="710.45" text-anchor="end" class="tk">10</text><text x="55.9" y="734.45" text-anchor="end" class="tk">5</text><text x="55.9" y="758.05" text-anchor="end" class="tk">0</text><text x="81.2" y="766" text-anchor="middle" class="xl">Non-Preg</text><text x="115.4" y="766" text-anchor="middle" class="xl">Preg</text><text x="98.3" y="615.6" text-anchor="middle" class="tt">α cells</text><text x="98.3" y="632" text-anchor="middle" class="pv">P = 0.0273</text><path d="M81.5 700V635.5H115.5V645" fill="none" stroke="#9a9a9a" stroke-width="1"/><path d="M75.2 720.5H86.8M75.2 733.5H86.8M81.5 720.5V733.5" fill="none" stroke="#808080" stroke-width="1"/><path d="M69.6 726.5H92.4" fill="none" stroke="#a0a0a0" stroke-width="1"/><path d="M109.4 679.5H121M109.4 704.5H121M115.5 679.5V704.5" fill="none" stroke="#808080" stroke-width="1"/><path d="M104 691.5H126.6" fill="none" stroke="#a0a0a0" stroke-width="1"/><polygon points="75.6,700.7 76.73,702.47 78.5,703.6 76.73,704.73 75.6,706.5 74.47,704.73 72.7,703.6 74.47,702.47" fill="#000"/><polygon points="86.4,705.45 89.2,711.1 83.6,711.1" fill="#000"/><polygon points="81,718.7 83.7,721.4 81,724.1 78.3,721.4" fill="#000"/><polygon points="75.6,729.4 76.51,731.4 78.69,731.65 77.07,733.13 77.51,735.28 75.6,734.2 73.69,735.28 74.13,733.13 72.51,731.65 74.69,731.4" fill="#000"/><polygon points="86.4,735.05 89.25,729.5 83.55,729.5" fill="#000"/><rect x="78.45" y="736.45" width="5.1" height="5.1" fill="#000"/><circle cx="81" cy="750.4" r="2.75" fill="#000"/><polygon points="115.4,645.7 116.53,647.47 118.3,648.6 116.53,649.73 115.4,651.5 114.27,649.73 112.5,648.6 114.27,647.47" fill="#ff45d8"/><polygon points="115.4,657.5 118.1,660.2 115.4,662.9 112.7,660.2" fill="#ff45d8"/><polygon points="115.4,678.45 118.2,684.1 112.6,684.1" fill="#ff45d8"/><polygon points="109.8,691 110.71,693 112.89,693.25 111.27,694.73 111.71,696.88 109.8,695.8 107.89,696.88 108.33,694.73 106.71,693.25 108.89,693" fill="#ff45d8"/><polygon points="120.8,696.05 123.65,690.5 117.95,690.5" fill="#ff45d8"/><circle cx="115.4" cy="721" r="2.75" fill="#ff45d8"/><rect x="112.85" y="741.25" width="5.1" height="5.1" fill="#ff45d8"/></g>
<g><path d="M175.5 635 V754.5 H254.6" fill="none" stroke="#7e7e7e" stroke-width="1"/><path d="M173.7 635.5H175.5M173.7 659.5H175.5M173.7 683.5H175.5M173.7 707.5H175.5M173.7 730.5H175.5M173.7 754.5H175.5M198.5 754.5V756.9M232.5 754.5V756.9" fill="none" stroke="#7e7e7e" stroke-width="1"/><text x="173.1" y="638.85" text-anchor="end" class="tk">50</text><text x="173.1" y="662.85" text-anchor="end" class="tk">40</text><text x="173.1" y="686.65" text-anchor="end" class="tk">30</text><text x="173.1" y="710.45" text-anchor="end" class="tk">20</text><text x="173.1" y="734.25" text-anchor="end" class="tk">10</text><text x="173.1" y="757.85" text-anchor="end" class="tk">0</text><text x="198.2" y="765.8" text-anchor="middle" class="xl">Non-Preg</text><text x="232.4" y="765.8" text-anchor="middle" class="xl">Preg</text><text x="215.2" y="615" text-anchor="middle" class="tt">β cells</text><text x="215.2" y="631.6" text-anchor="middle" class="pv">0.0740</text><path d="M198.5 644.4V634.5H232.5V637" fill="none" stroke="#9a9a9a" stroke-width="1"/><path d="M192.4 653.5H204M192.4 659.5H204M198.5 653.5V659.5" fill="none" stroke="#808080" stroke-width="1"/><path d="M186.6 656.5H209.6" fill="none" stroke="#a0a0a0" stroke-width="1"/><path d="M226.6 644.5H238.2M226.6 650.5H238.2M232.5 644.5V650.5" fill="none" stroke="#808080" stroke-width="1"/><path d="M221 647.5H243.6" fill="none" stroke="#a0a0a0" stroke-width="1"/><rect x="195.65" y="644.45" width="5.1" height="5.1" fill="#000"/><polygon points="189.4,646.3 192.1,649 189.4,651.7 186.7,649" fill="#000"/><polygon points="207,648.1 208.13,649.87 209.9,651 208.13,652.13 207,653.9 205.87,652.13 204.1,651 205.87,649.87" fill="#000"/><polygon points="198.2,652.25 201,657.9 195.4,657.9" fill="#000"/><polygon points="198.2,665.45 201.05,659.9 195.35,659.9" fill="#000"/><polygon points="207,660.4 207.91,662.4 210.09,662.65 208.47,664.13 208.91,666.28 207,665.2 205.09,666.28 205.53,664.13 203.91,662.65 206.09,662.4" fill="#000"/><circle cx="189.4" cy="667.2" r="2.75" fill="#000"/><polygon points="223.6,635.7 226.3,638.4 223.6,641.1 220.9,638.4" fill="#ff45d8"/><polygon points="229.4,638.6 230.31,640.6 232.49,640.85 230.87,642.33 231.31,644.48 229.4,643.4 227.49,644.48 227.93,642.33 226.31,640.85 228.49,640.6" fill="#ff45d8"/><polygon points="235.4,644.05 238.25,638.5 232.55,638.5" fill="#ff45d8"/><rect x="238.65" y="639.05" width="5.1" height="5.1" fill="#ff45d8"/><polygon points="229.4,648.45 232.2,654.1 226.6,654.1" fill="#ff45d8"/><polygon points="235.4,651.5 236.53,653.27 238.3,654.4 236.53,655.53 235.4,657.3 234.27,655.53 232.5,654.4 234.27,653.27" fill="#ff45d8"/><circle cx="232.4" cy="663.8" r="2.75" fill="#ff45d8"/></g>
<g><path d="M309.5 636 V755.5 H389.4" fill="none" stroke="#7e7e7e" stroke-width="1"/><path d="M307.7 636.5H309.5M307.7 676.5H309.5M307.7 715.5H309.5M307.7 755.5H309.5M332.5 755.5V757.9M366.5 755.5V757.9" fill="none" stroke="#7e7e7e" stroke-width="1"/><text x="307.1" y="639.65" text-anchor="end" class="tk">15</text><text x="307.1" y="679.45" text-anchor="end" class="tk">10</text><text x="307.1" y="719.25" text-anchor="end" class="tk">5</text><text x="307.1" y="758.85" text-anchor="end" class="tk">0</text><text x="332.6" y="766.8" text-anchor="middle" class="xl">Non-Preg</text><text x="366.6" y="766.8" text-anchor="middle" class="xl">Preg</text><text x="349" y="617" text-anchor="middle" class="tt">Bihormonal cells</text><text x="349.5" y="632" text-anchor="middle" class="pv">P = 0.0452</text><path d="M332.5 729V635.5H366.5V668" fill="none" stroke="#9a9a9a" stroke-width="1"/><path d="M326.6 738.5H338.2M326.6 745.5H338.2M332.5 738.5V745.5" fill="none" stroke="#808080" stroke-width="1"/><path d="M321 741.5H344" fill="none" stroke="#a0a0a0" stroke-width="1"/><path d="M360.8 709.5H372.4M360.8 728.5H372.4M366.5 709.5V728.5" fill="none" stroke="#808080" stroke-width="1"/><path d="M355 718.5H378" fill="none" stroke="#a0a0a0" stroke-width="1"/><polygon points="323.4,730.45 326.2,736.1 320.6,736.1" fill="#000"/><rect x="329.85" y="729.85" width="5.1" height="5.1" fill="#000"/><polygon points="341.2,729.7 342.33,731.47 344.1,732.6 342.33,733.73 341.2,735.5 340.07,733.73 338.3,732.6 340.07,731.47" fill="#000"/><polygon points="332.6,735.5 335.3,738.2 332.6,740.9 329.9,738.2" fill="#000"/><polygon points="332.6,752.05 335.45,746.5 329.75,746.5" fill="#000"/><polygon points="341,747.6 341.91,749.6 344.09,749.85 342.47,751.33 342.91,753.48 341,752.4 339.09,753.48 339.53,751.33 337.91,749.85 340.09,749.6" fill="#000"/><circle cx="323.4" cy="754.2" r="2.75" fill="#000"/><polygon points="366.6,670.7 369.3,673.4 366.6,676.1 363.9,673.4" fill="#ff45d8"/><polygon points="366.6,699.1 367.73,700.87 369.5,702 367.73,703.13 366.6,704.9 365.47,703.13 363.7,702 365.47,700.87" fill="#ff45d8"/><polygon points="366.6,708.45 369.4,714.1 363.8,714.1" fill="#ff45d8"/><polygon points="366.6,727.65 369.45,722.1 363.75,722.1" fill="#ff45d8"/><polygon points="366.6,728 367.51,730 369.69,730.25 368.07,731.73 368.51,733.88 366.6,732.8 364.69,733.88 365.13,731.73 363.51,730.25 365.69,730" fill="#ff45d8"/><circle cx="371.8" cy="742" r="2.75" fill="#ff45d8"/><rect x="358.65" y="744.45" width="5.1" height="5.1" fill="#ff45d8"/></g>
<g><path d="M58.5 835 V955.5 H139" fill="none" stroke="#7e7e7e" stroke-width="1"/><path d="M56.7 835.5H58.5M56.7 875.5H58.5M56.7 915.5H58.5M56.7 955.5H58.5M81.5 955.5V957.9M115.5 955.5V957.9" fill="none" stroke="#7e7e7e" stroke-width="1"/><text x="55.9" y="838.65" text-anchor="end" class="tk">6</text><text x="55.9" y="878.65" text-anchor="end" class="tk">4</text><text x="55.9" y="918.45" text-anchor="end" class="tk">2</text><text x="55.9" y="958.45" text-anchor="end" class="tk">0</text><text x="81" y="966.4" text-anchor="middle" class="xl">Non-Preg</text><text x="115.4" y="966.4" text-anchor="middle" class="xl">Preg</text><text x="98.2" y="815" text-anchor="middle" class="tt">Islet density</text><text x="98" y="834.6" text-anchor="middle" class="pv">0.1326</text><path d="M81.5 895V838.5H115.5V841" fill="none" stroke="#9a9a9a" stroke-width="1"/><path d="M75.2 905.5H86.8M75.2 910.5H86.8M81.5 905.5V910.5" fill="none" stroke="#808080" stroke-width="1"/><path d="M69.6 907.5H92.6" fill="none" stroke="#a0a0a0" stroke-width="1"/><path d="M109.6 872.5H121M109.6 899.5H121M115.5 872.5V899.5" fill="none" stroke="#808080" stroke-width="1"/><path d="M104 885.5H126.6" fill="none" stroke="#a0a0a0" stroke-width="1"/><polygon points="78,897.3 80.7,900 78,902.7 75.3,900" fill="#000"/><polygon points="84,899.4 84.91,901.4 87.09,901.65 85.47,903.13 85.91,905.28 84,904.2 82.09,905.28 82.53,903.13 80.91,901.65 83.09,901.4" fill="#000"/><polygon points="89.4,898.9 90.53,900.67 92.3,901.8 90.53,902.93 89.4,904.7 88.27,902.93 86.5,901.8 88.27,900.67" fill="#000"/><rect x="69.65" y="902.85" width="5.1" height="5.1" fill="#000"/><polygon points="78,913.65 80.85,908.1 75.15,908.1" fill="#000"/><polygon points="84,912.45 86.8,918.1 81.2,918.1" fill="#000"/><circle cx="78" cy="917.8" r="2.75" fill="#000"/><polygon points="115.4,841.65 118.2,847.3 112.6,847.3" fill="#ff45d8"/><polygon points="115.4,857.65 118.25,852.1 112.55,852.1" fill="#ff45d8"/><polygon points="109.8,862.1 110.93,863.87 112.7,865 110.93,866.13 109.8,867.9 108.67,866.13 106.9,865 108.67,863.87" fill="#ff45d8"/><polygon points="120.6,864.5 123.3,867.2 120.6,869.9 117.9,867.2" fill="#ff45d8"/><polygon points="109.8,913.2 110.71,915.2 112.89,915.45 111.27,916.93 111.71,919.08 109.8,918 107.89,919.08 108.33,916.93 106.71,915.45 108.89,915.2" fill="#ff45d8"/><rect x="118.05" y="915.85" width="5.1" height="5.1" fill="#ff45d8"/><circle cx="115.4" cy="933" r="2.75" fill="#ff45d8"/></g>
<g><path d="M175.5 835 V955.5 H254.4" fill="none" stroke="#7e7e7e" stroke-width="1"/><path d="M173.7 835.5H175.5M173.7 859.5H175.5M173.7 883.5H175.5M173.7 907.5H175.5M173.7 931.5H175.5M173.7 955.5H175.5M198.5 955.5V957.9M232.5 955.5V957.9" fill="none" stroke="#7e7e7e" stroke-width="1"/><text x="172.7" y="838.65" text-anchor="end" class="tk">150</text><text x="172.7" y="862.65" text-anchor="end" class="tk">120</text><text x="172.7" y="886.65" text-anchor="end" class="tk">90</text><text x="172.7" y="910.65" text-anchor="end" class="tk">60</text><text x="172.7" y="934.45" text-anchor="end" class="tk">30</text><text x="172.7" y="958.45" text-anchor="end" class="tk">0</text><text x="198" y="966.4" text-anchor="middle" class="xl">Non-Preg</text><text x="232.2" y="966.4" text-anchor="middle" class="xl">Preg</text><text x="215.2" y="815.6" text-anchor="middle" class="tt">Islet diameter</text><text x="215.2" y="833.6" text-anchor="middle" class="pv">P = 0.0058</text><path d="M198.5 875V836.5H232.5V853.6" fill="none" stroke="#9a9a9a" stroke-width="1"/><path d="M192 880.5H204M192 882.5H204M198.5 880.5V882.5" fill="none" stroke="#808080" stroke-width="1"/><path d="M186.6 881.5H209.4" fill="none" stroke="#a0a0a0" stroke-width="1"/><path d="M226.4 864.5H238M226.4 871.5H238M232.5 864.5V871.5" fill="none" stroke="#808080" stroke-width="1"/><path d="M221 868.5H243.6" fill="none" stroke="#a0a0a0" stroke-width="1"/><polygon points="189.4,874.7 192.1,877.4 189.4,880.1 186.7,877.4" fill="#000"/><polygon points="195,877.5 196.13,879.27 197.9,880.4 196.13,881.53 195,883.3 193.87,881.53 192.1,880.4 193.87,879.27" fill="#000"/><circle cx="198" cy="879.4" r="2.75" fill="#000"/><polygon points="202,875.45 204.8,881.1 199.2,881.1" fill="#000"/><polygon points="207,878 207.91,880 210.09,880.25 208.47,881.73 208.91,883.88 207,882.8 205.09,883.88 205.53,881.73 203.91,880.25 206.09,880" fill="#000"/><rect x="200.05" y="881.05" width="5.1" height="5.1" fill="#000"/><polygon points="193.6,891.65 196.45,886.1 190.75,886.1" fill="#000"/><rect x="229.65" y="853.45" width="5.1" height="5.1" fill="#ff45d8"/><polygon points="241,859.05 243.8,864.7 238.2,864.7" fill="#ff45d8"/><circle cx="232.2" cy="863.8" r="2.75" fill="#ff45d8"/><polygon points="223.4,864.5 224.53,866.27 226.3,867.4 224.53,868.53 223.4,870.3 222.27,868.53 220.5,867.4 222.27,866.27" fill="#ff45d8"/><polygon points="241,864.8 241.91,866.8 244.09,867.05 242.47,868.53 242.91,870.68 241,869.6 239.09,870.68 239.53,868.53 237.91,867.05 240.09,866.8" fill="#ff45d8"/><polygon points="232.2,872.3 234.9,875 232.2,877.7 229.5,875" fill="#ff45d8"/><polygon points="232.2,888.05 235.05,882.5 229.35,882.5" fill="#ff45d8"/></g>
<g><path d="M310.5 835 V955.5 H390" fill="none" stroke="#7e7e7e" stroke-width="1"/><path d="M308.7 835.5H310.5M308.7 859.5H310.5M308.7 883.5H310.5M308.7 907.5H310.5M308.7 931.5H310.5M308.7 955.5H310.5M333.5 955.5V957.9M367.5 955.5V957.9" fill="none" stroke="#7e7e7e" stroke-width="1"/><text x="307.7" y="838.65" text-anchor="end" class="tk">90</text><text x="307.7" y="862.65" text-anchor="end" class="tk">80</text><text x="307.7" y="886.65" text-anchor="end" class="tk">70</text><text x="307.7" y="910.45" text-anchor="end" class="tk">60</text><text x="307.7" y="934.45" text-anchor="end" class="tk">50</text><text x="307.7" y="958.45" text-anchor="end" class="tk">40</text><text x="333" y="966.4" text-anchor="middle" class="xl">Non-Preg</text><text x="367.4" y="966.4" text-anchor="middle" class="xl">Preg</text><text x="350.2" y="815" text-anchor="middle" class="tt">α cell positive islets</text><text x="350" y="834.6" text-anchor="middle" class="pv">0.5946</text><path d="M333.5 844V838.5H367.5V841.6" fill="none" stroke="#9a9a9a" stroke-width="1"/><path d="M327.2 873.5H338.6M327.2 897.5H338.6M332.5 873.5V897.5" fill="none" stroke="#808080" stroke-width="1"/><path d="M321.6 886.5H344.4" fill="none" stroke="#a0a0a0" stroke-width="1"/><path d="M361.6 864.5H373M361.6 888.5H373M367.5 864.5V888.5" fill="none" stroke="#808080" stroke-width="1"/><path d="M356 876.5H378.6" fill="none" stroke="#a0a0a0" stroke-width="1"/><polygon points="333,844.1 334.13,845.87 335.9,847 334.13,848.13 333,849.9 331.87,848.13 330.1,847 331.87,845.87" fill="#000"/><polygon points="333,866.65 335.85,861.1 330.15,861.1" fill="#000"/><polygon points="327.6,868.6 328.51,870.6 330.69,870.85 329.07,872.33 329.51,874.48 327.6,873.4 325.69,874.48 326.13,872.33 324.51,870.85 326.69,870.6" fill="#000"/><polygon points="338.2,873.5 340.9,876.2 338.2,878.9 335.5,876.2" fill="#000"/><polygon points="333,882.45 335.8,888.1 330.2,888.1" fill="#000"/><rect x="330.45" y="919.05" width="5.1" height="5.1" fill="#000"/><circle cx="333" cy="935.8" r="2.75" fill="#000"/><polygon points="367.4,841.7 368.53,843.47 370.3,844.6 368.53,845.73 367.4,847.5 366.27,845.73 364.5,844.6 366.27,843.47" fill="#ff45d8"/><polygon points="372.6,849 373.51,851 375.69,851.25 374.07,852.73 374.51,854.88 372.6,853.8 370.69,854.88 371.13,852.73 369.51,851.25 371.69,851" fill="#ff45d8"/><polygon points="361.8,854.05 364.6,859.7 359,859.7" fill="#ff45d8"/><circle cx="372.6" cy="859.4" r="2.75" fill="#ff45d8"/><polygon points="367.4,895.65 370.25,890.1 364.55,890.1" fill="#ff45d8"/><rect x="364.85" y="899.85" width="5.1" height="5.1" fill="#ff45d8"/><polygon points="367.4,925.9 370.1,928.6 367.4,931.3 364.7,928.6" fill="#ff45d8"/></g>
<rect x="418.3" y="662" width="118.7" height="43.4" fill="#fff" stroke="#111" stroke-width="1"/>
<rect x="422.9" y="669.3" width="27.2" height="14" fill="#000"/>
<rect x="423.2" y="687.5" width="26.6" height="13.4" fill="#ff45d8" stroke="#30102a" stroke-width="0.7"/>
<text x="454" y="679.6" class="lg">Non-pregnant</text>
<text x="454" y="697.7" class="lg">Pregnant</text>
</svg></body></html>
